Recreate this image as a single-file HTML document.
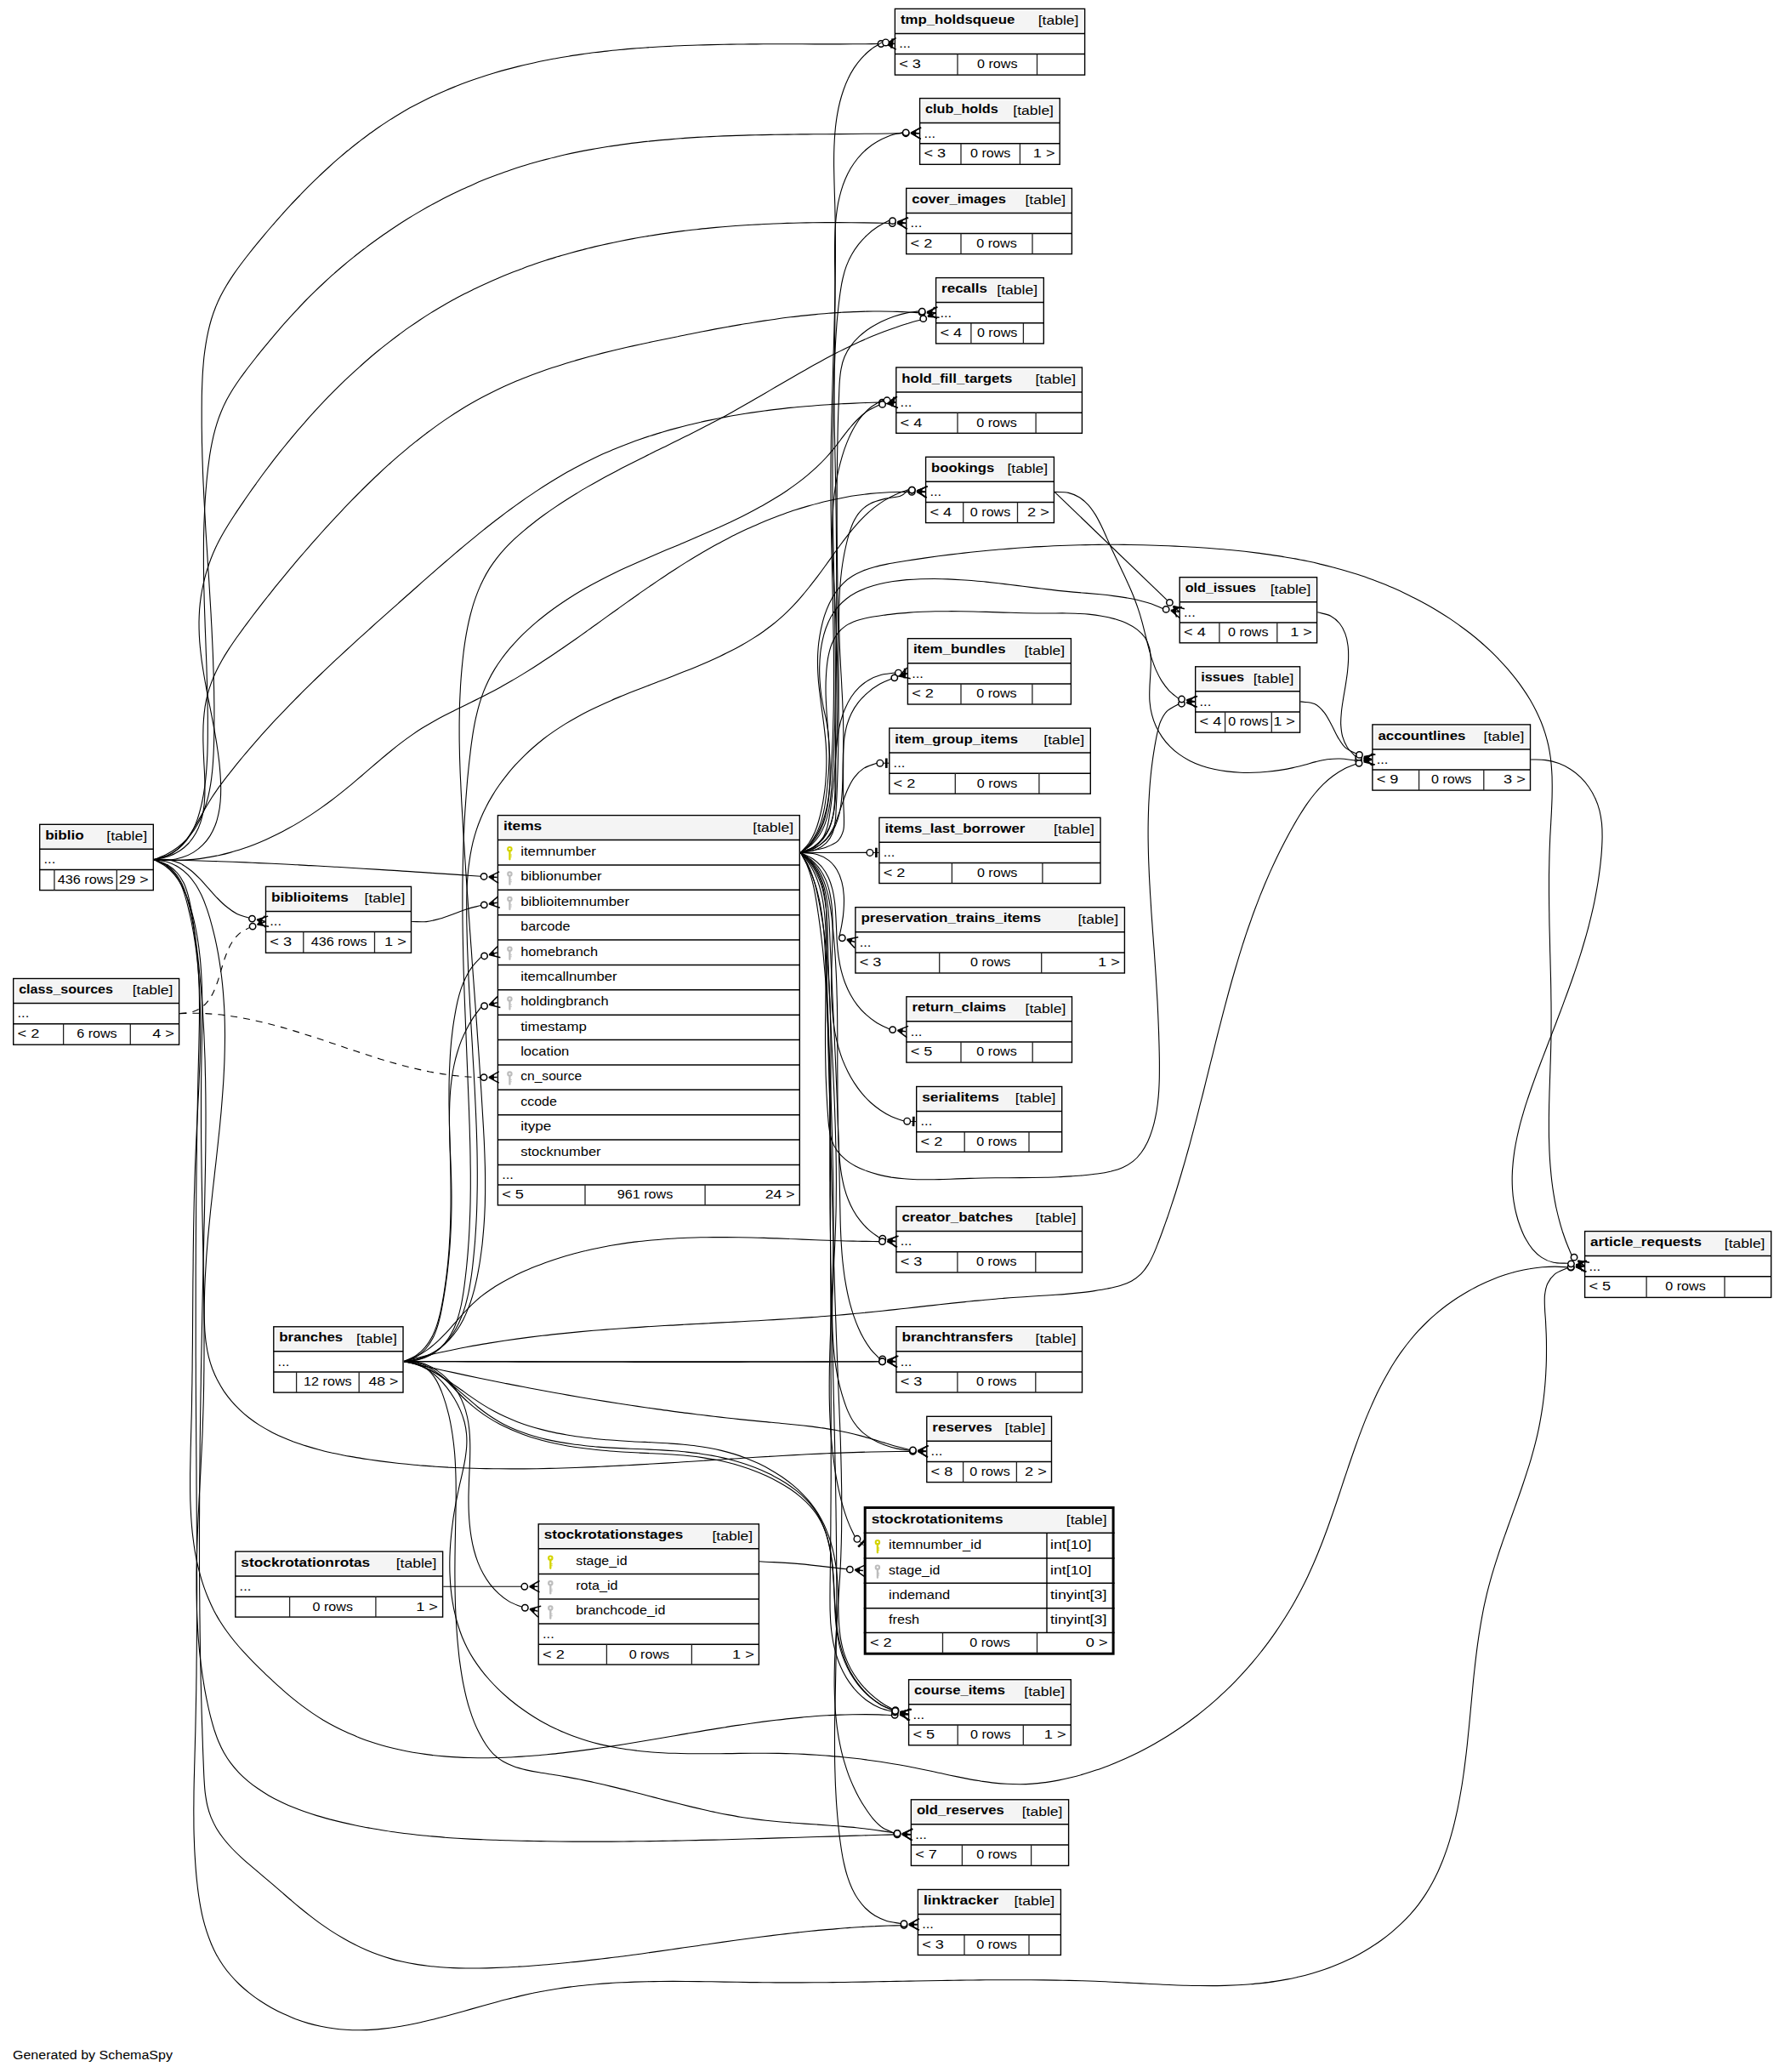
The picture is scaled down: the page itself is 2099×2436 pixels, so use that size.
<!DOCTYPE html><html><head><meta charset="utf-8"><style>html,body{margin:0;padding:0;background:#fff;}svg{display:block;} text{font-family:"Liberation Sans",sans-serif;font-size:15.3px;fill:#000;}</style></head><body>
<svg xmlns="http://www.w3.org/2000/svg" width="2099" height="2436" viewBox="0 0 2099 2436">
<rect width="2099" height="2436" fill="#fff"/>
<path d="M181.0 1010.6C186.0 1008.5 191.4 1006.7 196.1 1004.2C200.7 1001.9 205.0 999.2 208.9 996.2C212.8 993.3 216.4 990.0 219.6 986.6C222.8 983.2 225.7 979.5 228.3 975.7C230.9 971.9 233.2 967.8 235.3 963.6C237.3 959.4 239.1 955.0 240.7 950.5C242.3 946.0 243.6 941.3 244.8 936.6C245.9 931.8 246.9 926.9 247.7 921.9C248.5 917.0 249.1 911.9 249.6 906.8C250.2 901.7 250.5 896.5 250.8 891.3C251.2 886.1 251.3 880.8 251.5 875.6C251.7 870.3 251.7 865.1 251.8 859.9C251.9 854.6 251.9 849.4 251.9 844.2C251.9 839.0 251.9 833.8 251.9 828.7C251.8 823.5 251.7 818.4 251.7 813.2C251.6 808.1 251.4 803.0 251.3 797.8C251.2 792.7 251.0 787.6 250.8 782.6C250.7 777.5 250.5 772.4 250.3 767.3C250.1 762.3 249.8 757.2 249.6 752.2C249.4 747.1 249.1 742.1 248.9 737.1C248.6 732.1 248.3 727.0 248.1 722.0C247.8 717.0 247.5 712.0 247.2 707.0C246.9 702.0 246.6 697.0 246.3 692.0C246.0 687.0 245.7 682.1 245.4 677.1C245.0 672.1 244.7 667.1 244.4 662.1C244.1 657.1 243.8 652.2 243.5 647.2C243.2 642.2 242.8 637.2 242.5 632.3C242.2 627.3 241.9 622.3 241.6 617.3C241.4 612.3 241.1 607.3 240.8 602.4C240.5 597.4 240.3 592.4 240.0 587.4C239.7 582.4 239.5 577.4 239.3 572.4C239.0 567.4 238.8 562.3 238.6 557.3C238.4 552.3 238.3 547.3 238.1 542.2C237.9 537.2 237.8 532.1 237.7 527.1C237.5 522.0 237.4 516.9 237.4 511.9C237.3 506.8 237.2 501.7 237.2 496.6C237.2 491.5 237.2 486.4 237.2 481.2C237.2 476.1 237.3 471.0 237.3 465.8C237.4 460.7 237.6 455.5 237.8 450.3C238.0 445.2 238.2 440.1 238.6 434.9C239.0 429.8 239.4 424.7 239.9 419.7C240.5 414.6 241.2 409.6 242.0 404.6C242.8 399.7 243.7 394.7 244.8 389.9C245.9 385.0 247.1 380.2 248.5 375.5C249.9 370.8 251.5 366.2 253.3 361.7C255.1 357.1 257.1 352.7 259.3 348.3C261.5 344.0 263.9 339.7 266.4 335.5C268.9 331.3 271.6 327.2 274.3 323.1C277.1 319.0 280.0 315.0 283.0 311.0C286.0 307.0 289.1 303.0 292.2 299.0C295.3 295.1 298.5 291.1 301.7 287.2C304.9 283.3 308.2 279.4 311.5 275.4C314.7 271.5 318.1 267.6 321.4 263.8C324.8 259.9 328.2 256.0 331.7 252.2C335.1 248.3 338.6 244.5 342.1 240.7C345.6 236.9 349.2 233.2 352.8 229.5C356.3 225.7 360.0 222.0 363.6 218.4C367.3 214.7 371.0 211.1 374.7 207.6C378.5 204.0 382.3 200.5 386.1 197.0C389.9 193.5 393.7 190.1 397.6 186.7C401.5 183.4 405.4 180.0 409.4 176.8C413.3 173.5 417.3 170.3 421.3 167.2C425.4 164.1 429.4 161.0 433.5 158.0C437.6 155.0 441.8 152.1 445.9 149.2C450.1 146.4 454.3 143.6 458.5 140.9C462.8 138.2 467.1 135.6 471.4 133.0C475.7 130.5 480.0 128.0 484.4 125.6C488.8 123.2 493.2 120.9 497.6 118.7C502.0 116.5 506.5 114.3 511.0 112.2C515.5 110.1 520.1 108.1 524.6 106.2C529.2 104.2 533.8 102.4 538.4 100.5C543.0 98.7 547.6 97.0 552.3 95.3C556.9 93.6 561.6 92.0 566.4 90.5C571.1 88.9 575.8 87.4 580.6 86.0C585.3 84.6 590.1 83.2 594.9 81.9C599.7 80.6 604.6 79.3 609.4 78.1C614.3 76.9 619.1 75.8 624.0 74.7C628.9 73.6 633.8 72.5 638.7 71.5C643.6 70.5 648.6 69.6 653.5 68.7C658.5 67.8 663.4 67.0 668.4 66.2C673.4 65.3 678.4 64.6 683.4 63.9C688.4 63.1 693.5 62.5 698.5 61.8C703.5 61.2 708.6 60.6 713.6 60.1C718.7 59.5 723.7 59.0 728.8 58.5C733.9 58.0 739.0 57.5 744.1 57.1C749.2 56.7 754.3 56.3 759.4 56.0C764.5 55.6 769.6 55.3 774.7 55.0C779.8 54.7 784.9 54.4 790.0 54.2C795.1 53.9 800.3 53.7 805.4 53.5C810.5 53.3 815.6 53.1 820.8 53.0C825.9 52.8 831.0 52.7 836.2 52.6C841.3 52.4 846.4 52.3 851.5 52.3C856.6 52.2 861.8 52.1 866.9 52.0C872.0 52.0 877.1 51.9 882.2 51.9C887.3 51.9 892.4 51.8 897.5 51.8C902.6 51.8 907.7 51.8 912.8 51.8C917.8 51.8 922.9 51.8 928.0 51.8C933.0 51.8 938.1 51.8 943.1 51.8C948.1 51.8 953.2 51.8 958.2 51.9C963.2 51.9 968.2 51.9 973.2 51.9C978.2 51.9 983.1 51.9 988.1 51.9C993.1 51.8 998.0 51.8 1002.9 51.8C1007.9 51.8 1012.8 51.7 1017.7 51.7C1022.6 51.6 1027.4 51.6 1032.3 51.5" fill="none" stroke="#000" stroke-width="1.1"/>
<circle cx="1036.00" cy="51.50" r="3.7" fill="#fff" stroke="#000" stroke-width="1.5"/><path d="M1041.80 51.50L1053.70 44.70M1041.80 51.50L1051.60 51.50M1041.80 51.50L1053.70 58.10" stroke="#000" stroke-width="1.5" fill="none"/><path d="M1041.80 51.50L1047.90 48.20L1047.90 54.80Z" fill="#000"/>
<path d="M181.0 1010.6C186.4 1008.9 192.2 1007.8 197.1 1005.6C201.7 1003.5 206.0 1000.8 209.8 997.8C213.5 994.8 216.7 991.3 219.6 987.6C222.5 983.9 224.8 979.8 227.0 975.6C229.1 971.4 230.9 966.9 232.4 962.3C234.0 957.7 235.3 952.9 236.4 948.2C237.6 943.4 238.5 938.5 239.4 933.6C240.2 928.7 240.9 923.7 241.5 918.7C242.1 913.7 242.5 908.7 242.9 903.6C243.3 898.6 243.5 893.5 243.8 888.4C244.0 883.3 244.1 878.2 244.2 873.1C244.3 868.0 244.3 862.9 244.3 857.8C244.3 852.7 244.3 847.6 244.3 842.5C244.2 837.5 244.1 832.4 244.1 827.3C244.0 822.2 243.9 817.2 243.7 812.1C243.6 807.1 243.5 802.0 243.3 797.0C243.2 791.9 243.0 786.9 242.9 781.8C242.7 776.8 242.5 771.8 242.3 766.7C242.1 761.7 242.0 756.7 241.8 751.7C241.6 746.7 241.4 741.6 241.2 736.6C241.1 731.6 240.9 726.6 240.7 721.6C240.5 716.6 240.4 711.6 240.2 706.6C240.1 701.6 240.0 696.6 239.8 691.6C239.7 686.6 239.6 681.6 239.6 676.6C239.5 671.7 239.4 666.7 239.4 661.7C239.4 656.7 239.4 651.7 239.4 646.7C239.4 641.8 239.5 636.8 239.5 631.8C239.6 626.8 239.8 621.8 239.9 616.8C240.1 611.9 240.3 606.9 240.5 601.9C240.7 596.9 241.0 591.9 241.3 586.9C241.7 582.0 242.0 577.0 242.5 572.0C242.9 567.0 243.3 562.0 243.9 557.0C244.4 552.0 245.0 547.0 245.7 542.1C246.3 537.1 247.1 532.2 248.0 527.2C248.9 522.3 249.9 517.4 251.0 512.6C252.2 507.8 253.5 503.0 255.0 498.2C256.4 493.5 258.1 488.9 260.0 484.3C261.8 479.7 263.9 475.2 266.2 470.8C268.5 466.4 271.1 462.1 273.7 457.8C276.4 453.6 279.2 449.4 282.1 445.3C285.0 441.1 288.1 437.1 291.1 433.0C294.2 429.0 297.4 425.0 300.5 421.0C303.6 417.0 306.8 413.1 310.0 409.2C313.2 405.3 316.4 401.4 319.6 397.6C322.8 393.7 326.1 389.9 329.3 386.1C332.6 382.3 335.9 378.6 339.3 374.9C342.6 371.1 346.0 367.5 349.5 363.8C352.9 360.2 356.3 356.6 359.8 353.0C363.3 349.4 366.9 345.9 370.5 342.4C374.1 338.9 377.7 335.4 381.4 332.0C385.1 328.6 388.8 325.2 392.6 321.9C396.3 318.5 400.1 315.3 404.0 312.0C407.8 308.8 411.7 305.5 415.7 302.4C419.6 299.2 423.6 296.1 427.6 293.0C431.6 290.0 435.6 286.9 439.7 284.0C443.8 281.0 447.9 278.1 452.0 275.2C456.2 272.3 460.4 269.5 464.6 266.7C468.8 263.9 473.0 261.2 477.3 258.5C481.6 255.8 485.9 253.2 490.3 250.6C494.6 248.1 499.0 245.6 503.4 243.1C507.8 240.6 512.2 238.2 516.6 235.9C521.1 233.5 525.6 231.3 530.1 229.0C534.6 226.8 539.1 224.6 543.7 222.5C548.2 220.4 552.8 218.4 557.4 216.4C562.0 214.4 566.6 212.5 571.2 210.6C575.9 208.7 580.5 206.9 585.2 205.2C589.9 203.5 594.6 201.8 599.3 200.2C604.0 198.6 608.7 197.1 613.5 195.6C618.2 194.1 623.0 192.7 627.8 191.3C632.6 189.9 637.4 188.6 642.2 187.4C647.0 186.1 651.8 184.9 656.6 183.7C661.5 182.6 666.3 181.5 671.2 180.4C676.1 179.4 681.0 178.4 685.9 177.4C690.7 176.5 695.7 175.6 700.6 174.7C705.5 173.9 710.4 173.1 715.4 172.3C720.3 171.5 725.2 170.8 730.2 170.1C735.2 169.4 740.1 168.7 745.1 168.1C750.1 167.5 755.1 166.9 760.1 166.4C765.1 165.9 770.1 165.3 775.1 164.9C780.1 164.4 785.1 164.0 790.1 163.6C795.1 163.1 800.2 162.8 805.2 162.4C810.2 162.1 815.3 161.7 820.3 161.4C825.3 161.1 830.4 160.9 835.4 160.6C840.5 160.4 845.5 160.1 850.6 159.9C855.6 159.7 860.7 159.5 865.7 159.4C870.8 159.2 875.8 159.0 880.9 158.9C886.0 158.8 891.0 158.7 896.1 158.6C901.1 158.4 906.2 158.4 911.2 158.3C916.3 158.2 921.3 158.1 926.4 158.1C931.4 158.0 936.5 158.0 941.5 157.9C946.6 157.9 951.6 157.8 956.7 157.8C961.7 157.7 966.7 157.7 971.8 157.7C976.8 157.6 981.8 157.6 986.8 157.6C991.8 157.5 996.8 157.5 1001.9 157.5C1006.9 157.4 1011.9 157.4 1016.8 157.3C1021.8 157.3 1026.8 157.3 1031.8 157.2C1036.7 157.1 1041.7 157.1 1046.7 157.0C1051.6 156.9 1056.6 156.8 1061.5 156.7" fill="none" stroke="#000" stroke-width="1.1"/>
<circle cx="1065.20" cy="156.70" r="3.7" fill="#fff" stroke="#000" stroke-width="1.5"/><path d="M1071.00 156.70L1082.90 149.90M1071.00 156.70L1080.80 156.70M1071.00 156.70L1082.90 163.30" stroke="#000" stroke-width="1.5" fill="none"/><path d="M1071.00 156.70L1077.10 153.40L1077.10 160.00Z" fill="#000"/>
<path d="M181.0 1010.6C186.9 1010.8 193.0 1011.6 198.6 1011.2C204.0 1010.7 209.3 1009.7 214.1 1008.1C218.8 1006.6 223.4 1004.6 227.4 1002.1C231.4 999.6 235.2 996.6 238.4 993.4C241.7 990.2 244.5 986.5 247.0 982.6C249.4 978.8 251.4 974.6 253.1 970.3C254.8 965.9 256.0 961.3 257.0 956.7C258.0 952.0 258.7 947.1 259.1 942.2C259.6 937.2 259.7 932.1 259.7 927.0C259.7 921.9 259.5 916.8 259.1 911.6C258.8 906.5 258.3 901.4 257.8 896.3C257.2 891.2 256.6 886.1 255.8 881.0C255.1 875.9 254.3 870.9 253.4 865.8C252.6 860.8 251.6 855.8 250.7 850.8C249.8 845.8 248.8 840.8 247.8 835.8C246.8 830.8 245.8 825.8 244.8 820.8C243.9 815.8 242.9 810.9 242.0 805.9C241.1 800.9 240.2 796.0 239.4 791.0C238.6 786.1 237.8 781.1 237.1 776.1C236.5 771.2 235.9 766.2 235.4 761.3C234.9 756.3 234.5 751.3 234.3 746.4C234.1 741.4 234.0 736.4 234.0 731.4C234.1 726.4 234.3 721.5 234.6 716.5C235.0 711.5 235.6 706.4 236.3 701.4C237.1 696.4 238.0 691.4 239.1 686.5C240.2 681.6 241.5 676.6 242.9 671.8C244.4 667.0 246.0 662.2 247.8 657.5C249.6 652.8 251.5 648.2 253.6 643.7C255.8 639.3 258.0 634.9 260.4 630.6C262.8 626.2 265.3 622.0 267.9 617.8C270.5 613.6 273.2 609.4 275.9 605.3C278.6 601.1 281.4 597.0 284.2 592.9C287.0 588.8 289.8 584.6 292.7 580.5C295.5 576.4 298.4 572.3 301.4 568.3C304.3 564.2 307.3 560.1 310.3 556.0C313.3 552.0 316.4 548.0 319.5 543.9C322.5 539.9 325.7 535.9 328.8 531.9C332.0 528.0 335.2 524.0 338.4 520.1C341.6 516.1 344.9 512.2 348.2 508.3C351.5 504.5 354.8 500.6 358.2 496.8C361.5 492.9 364.9 489.1 368.4 485.4C371.8 481.6 375.3 477.9 378.8 474.2C382.3 470.5 385.8 466.8 389.4 463.2C393.0 459.5 396.6 455.9 400.2 452.4C403.9 448.8 407.5 445.3 411.2 441.9C415.0 438.4 418.7 434.9 422.5 431.6C426.2 428.2 430.1 424.8 433.9 421.5C437.7 418.2 441.6 415.0 445.5 411.8C449.4 408.6 453.4 405.5 457.4 402.4C461.3 399.3 465.3 396.2 469.4 393.2C473.4 390.3 477.5 387.3 481.6 384.4C485.7 381.6 489.9 378.8 494.0 376.0C498.2 373.2 502.4 370.5 506.6 367.9C510.9 365.3 515.1 362.7 519.4 360.2C523.7 357.7 528.1 355.2 532.4 352.8C536.8 350.4 541.2 348.1 545.6 345.8C550.0 343.6 554.4 341.3 558.9 339.2C563.4 337.0 567.9 334.9 572.4 332.9C576.9 330.8 581.5 328.8 586.0 326.9C590.6 324.9 595.2 323.0 599.8 321.2C604.5 319.4 609.1 317.6 613.8 315.9C618.4 314.1 623.1 312.5 627.8 310.8C632.5 309.2 637.3 307.6 642.0 306.1C646.8 304.5 651.5 303.1 656.3 301.6C661.1 300.2 665.9 298.8 670.7 297.5C675.6 296.1 680.4 294.8 685.3 293.6C690.1 292.3 695.0 291.1 699.9 289.9C704.8 288.8 709.7 287.7 714.6 286.6C719.5 285.5 724.4 284.5 729.4 283.5C734.3 282.5 739.3 281.5 744.2 280.6C749.2 279.7 754.2 278.8 759.1 278.0C764.1 277.1 769.1 276.3 774.1 275.6C779.1 274.8 784.1 274.1 789.2 273.4C794.2 272.7 799.2 272.1 804.2 271.4C809.3 270.8 814.3 270.2 819.4 269.7C824.4 269.1 829.4 268.6 834.5 268.1C839.6 267.6 844.6 267.2 849.7 266.7C854.7 266.3 859.8 265.9 864.9 265.5C869.9 265.2 875.0 264.8 880.0 264.5C885.1 264.2 890.2 263.9 895.2 263.7C900.3 263.4 905.4 263.2 910.4 263.0C915.5 262.8 920.5 262.6 925.6 262.4C930.6 262.3 935.7 262.1 940.7 262.0C945.8 261.9 950.8 261.8 955.9 261.7C960.9 261.7 965.9 261.6 971.0 261.6C976.0 261.6 981.0 261.6 986.0 261.6C991.0 261.6 996.0 261.6 1001.0 261.7C1006.0 261.7 1011.0 261.8 1015.9 261.9C1020.9 261.9 1025.8 262.0 1030.8 262.1C1035.7 262.2 1040.7 262.4 1045.6 262.5" fill="none" stroke="#000" stroke-width="1.1"/>
<circle cx="1049.30" cy="262.50" r="3.7" fill="#fff" stroke="#000" stroke-width="1.5"/><path d="M1055.10 262.50L1067.00 255.70M1055.10 262.50L1064.90 262.50M1055.10 262.50L1067.00 269.10" stroke="#000" stroke-width="1.5" fill="none"/><path d="M1055.10 262.50L1061.20 259.20L1061.20 265.80Z" fill="#000"/>
<path d="M181.0 1010.6C186.6 1009.4 192.5 1008.8 197.7 1007.0C202.6 1005.3 207.3 1003.0 211.4 1000.3C215.4 997.6 219.0 994.4 222.2 991.0C225.3 987.5 228.0 983.6 230.3 979.6C232.6 975.5 234.4 971.1 235.9 966.6C237.4 962.1 238.4 957.4 239.2 952.6C240.1 947.8 240.5 942.8 240.7 937.8C241.0 932.7 241.0 927.6 240.9 922.4C240.9 917.2 240.6 912.0 240.4 906.8C240.1 901.6 239.8 896.4 239.6 891.2C239.3 886.0 239.1 880.8 239.0 875.7C238.8 870.6 238.8 865.5 238.9 860.5C238.9 855.4 239.1 850.4 239.5 845.5C239.9 840.6 240.4 835.7 241.1 830.8C241.9 826.0 242.9 821.2 244.1 816.5C245.3 811.8 246.8 807.1 248.5 802.6C250.2 798.0 252.2 793.5 254.3 789.0C256.5 784.5 258.9 780.1 261.3 775.8C263.8 771.4 266.5 767.1 269.2 762.9C272.0 758.6 274.9 754.4 277.8 750.2C280.8 746.0 283.8 741.9 286.8 737.8C289.9 733.6 293.0 729.6 296.0 725.5C299.1 721.5 302.2 717.4 305.3 713.4C308.4 709.4 311.5 705.5 314.6 701.5C317.7 697.6 320.9 693.7 324.0 689.7C327.2 685.8 330.3 682.0 333.5 678.1C336.7 674.2 339.8 670.4 343.0 666.6C346.3 662.7 349.5 658.9 352.7 655.2C356.0 651.4 359.2 647.6 362.5 643.8C365.8 640.1 369.1 636.3 372.4 632.6C375.7 628.9 379.1 625.1 382.4 621.4C385.8 617.7 389.2 614.0 392.6 610.3C396.0 606.6 399.5 603.0 402.9 599.3C406.4 595.6 409.9 592.0 413.4 588.4C417.0 584.8 420.5 581.2 424.1 577.6C427.7 574.0 431.3 570.5 434.9 567.0C438.5 563.4 442.2 559.9 445.9 556.5C449.6 553.0 453.3 549.6 457.1 546.2C460.8 542.9 464.6 539.5 468.4 536.2C472.2 532.9 476.1 529.7 480.0 526.4C483.8 523.2 487.8 520.1 491.7 517.0C495.7 513.8 499.6 510.8 503.7 507.8C507.7 504.8 511.7 501.8 515.8 498.9C519.9 496.0 524.0 493.2 528.2 490.4C532.4 487.6 536.6 484.9 540.8 482.3C545.0 479.6 549.3 477.1 553.6 474.6C557.9 472.1 562.3 469.6 566.7 467.3C571.1 464.9 575.5 462.6 580.0 460.4C584.5 458.2 589.0 456.1 593.5 454.0C598.0 452.0 602.6 450.0 607.2 448.0C611.8 446.1 616.5 444.3 621.2 442.4C625.8 440.6 630.5 438.9 635.3 437.2C640.0 435.5 644.7 433.9 649.5 432.3C654.3 430.7 659.1 429.2 663.9 427.7C668.7 426.2 673.6 424.8 678.4 423.4C683.3 422.0 688.2 420.6 693.0 419.3C697.9 418.0 702.8 416.7 707.7 415.4C712.7 414.2 717.6 413.0 722.5 411.8C727.4 410.6 732.4 409.5 737.3 408.3C742.3 407.2 747.2 406.1 752.2 405.0C757.1 403.9 762.1 402.9 767.1 401.8C772.0 400.8 777.0 399.7 781.9 398.7C786.9 397.7 791.8 396.7 796.8 395.7C801.7 394.6 806.6 393.7 811.6 392.7C816.5 391.7 821.4 390.7 826.4 389.8C831.3 388.8 836.2 387.9 841.1 386.9C846.1 386.0 851.0 385.1 855.9 384.2C860.8 383.3 865.7 382.5 870.7 381.6C875.6 380.8 880.5 379.9 885.4 379.2C890.3 378.4 895.3 377.6 900.2 376.9C905.1 376.1 910.0 375.4 915.0 374.7C919.9 374.0 924.8 373.4 929.8 372.8C934.7 372.2 939.7 371.6 944.6 371.1C949.6 370.5 954.5 370.0 959.5 369.6C964.4 369.1 969.4 368.7 974.4 368.3C979.4 367.9 984.4 367.6 989.3 367.3C994.3 367.0 999.4 366.8 1004.4 366.6C1009.4 366.4 1014.4 366.2 1019.4 366.1C1024.5 366.1 1029.5 366.0 1034.6 366.0C1039.7 366.0 1044.7 366.1 1049.8 366.2C1054.9 366.4 1060.0 366.5 1065.1 366.8C1070.2 367.0 1075.4 367.4 1080.5 367.7" fill="none" stroke="#000" stroke-width="1.1"/>
<circle cx="1084.20" cy="367.70" r="3.7" fill="#fff" stroke="#000" stroke-width="1.5"/><path d="M1090.00 367.70L1101.90 360.90M1090.00 367.70L1099.80 367.70M1090.00 367.70L1101.90 374.30" stroke="#000" stroke-width="1.5" fill="none"/><path d="M1090.00 367.70L1096.10 364.40L1096.10 371.00Z" fill="#000"/>
<path d="M181.0 1010.6C186.1 1009.2 191.7 1008.5 196.4 1006.5C200.8 1004.5 204.9 1001.8 208.5 998.8C212.1 995.8 215.3 992.1 218.2 988.4C221.2 984.6 223.8 980.5 226.4 976.3C229.1 972.1 231.5 967.7 233.9 963.4C236.5 959.0 238.9 954.6 241.4 950.3C244.0 945.9 246.6 941.6 249.3 937.3C252.0 933.1 254.9 929.0 257.8 924.9C260.8 920.9 263.8 916.9 266.9 912.9C269.9 909.0 273.1 905.0 276.2 901.1C279.3 897.2 282.5 893.4 285.7 889.5C288.9 885.7 292.1 881.9 295.4 878.1C298.6 874.3 301.9 870.5 305.2 866.8C308.5 863.1 311.9 859.4 315.3 855.7C318.6 852.0 322.0 848.3 325.4 844.7C328.9 841.0 332.3 837.4 335.8 833.8C339.2 830.2 342.7 826.6 346.2 823.1C349.7 819.5 353.3 816.0 356.8 812.4C360.4 808.9 363.9 805.4 367.5 801.9C371.1 798.4 374.7 794.9 378.3 791.5C381.9 788.0 385.6 784.5 389.2 781.1C392.9 777.7 396.5 774.2 400.2 770.8C403.9 767.4 407.6 764.0 411.3 760.6C415.0 757.2 418.7 753.8 422.4 750.4C426.2 747.0 429.9 743.7 433.6 740.3C437.4 736.9 441.1 733.5 444.9 730.2C448.6 726.8 452.4 723.5 456.2 720.1C459.9 716.8 463.7 713.4 467.5 710.1C471.2 706.7 475.0 703.4 478.8 700.0C482.6 696.7 486.4 693.3 490.1 690.0C493.9 686.6 497.7 683.3 501.5 679.9C505.3 676.6 509.1 673.2 512.9 669.9C516.7 666.6 520.5 663.3 524.3 660.0C528.2 656.7 532.0 653.4 535.8 650.1C539.7 646.9 543.5 643.6 547.4 640.4C551.3 637.2 555.1 634.0 559.0 630.8C562.9 627.6 566.8 624.5 570.8 621.3C574.7 618.2 578.6 615.1 582.6 612.0C586.6 609.0 590.6 605.9 594.6 602.9C598.6 600.0 602.6 597.0 606.6 594.1C610.7 591.2 614.8 588.3 618.9 585.4C623.0 582.6 627.1 579.8 631.2 577.1C635.4 574.3 639.6 571.6 643.8 569.0C648.0 566.3 652.2 563.8 656.5 561.2C660.8 558.7 665.1 556.2 669.4 553.8C673.7 551.3 678.1 549.0 682.5 546.7C686.9 544.4 691.3 542.1 695.8 540.0C700.3 537.8 704.8 535.7 709.3 533.6C713.9 531.6 718.5 529.6 723.1 527.7C727.7 525.8 732.3 524.0 737.0 522.2C741.7 520.4 746.4 518.7 751.1 517.0C755.9 515.3 760.6 513.7 765.4 512.2C770.2 510.6 775.0 509.2 779.9 507.7C784.7 506.3 789.6 504.9 794.5 503.6C799.3 502.3 804.2 501.0 809.2 499.8C814.1 498.6 819.0 497.4 824.0 496.3C828.9 495.1 833.9 494.1 838.9 493.1C843.8 492.0 848.8 491.1 853.8 490.1C858.8 489.2 863.8 488.3 868.9 487.5C873.9 486.7 878.9 485.9 883.9 485.1C889.0 484.4 894.0 483.7 899.0 483.0C904.1 482.3 909.1 481.7 914.2 481.1C919.2 480.5 924.2 479.9 929.3 479.4C934.3 478.9 939.3 478.4 944.4 478.0C949.4 477.5 954.4 477.1 959.4 476.7C964.4 476.3 969.4 476.0 974.4 475.7C979.4 475.3 984.4 475.1 989.4 474.8C994.4 474.5 999.3 474.3 1004.3 474.1C1009.2 473.9 1014.1 473.7 1019.0 473.5C1023.9 473.4 1028.8 473.2 1033.7 473.1" fill="none" stroke="#000" stroke-width="1.1"/>
<circle cx="1037.40" cy="473.10" r="3.7" fill="#fff" stroke="#000" stroke-width="1.5"/><path d="M1043.20 473.10L1055.10 466.30M1043.20 473.10L1053.00 473.10M1043.20 473.10L1055.10 479.70" stroke="#000" stroke-width="1.5" fill="none"/><path d="M1043.20 473.10L1049.30 469.80L1049.30 476.40Z" fill="#000"/>
<path d="M181.0 1010.6C186.2 1010.9 191.5 1011.3 196.7 1011.5C201.8 1011.6 207.0 1011.6 212.1 1011.4C217.2 1011.2 222.3 1010.9 227.3 1010.4C232.3 1009.9 237.3 1009.2 242.2 1008.4C247.2 1007.7 252.1 1006.7 256.9 1005.7C261.8 1004.6 266.6 1003.4 271.3 1002.1C276.1 1000.8 280.8 999.3 285.5 997.8C290.2 996.2 294.9 994.5 299.5 992.7C304.1 990.9 308.6 989.0 313.1 987.0C317.7 984.9 322.1 982.8 326.6 980.6C331.0 978.4 335.4 976.0 339.8 973.6C344.1 971.2 348.4 968.7 352.7 966.1C357.0 963.5 361.2 960.8 365.4 958.1C369.6 955.3 373.7 952.5 377.8 949.6C381.9 946.7 386.0 943.7 390.0 940.7C394.1 937.7 398.0 934.6 402.0 931.4C405.9 928.3 409.8 925.1 413.7 921.9C417.6 918.6 421.4 915.3 425.3 912.0C429.1 908.8 432.9 905.5 436.7 902.2C440.5 898.9 444.4 895.6 448.2 892.3C452.0 889.1 455.9 885.9 459.8 882.7C463.7 879.5 467.6 876.4 471.6 873.4C475.5 870.4 479.5 867.4 483.6 864.6C487.7 861.7 491.8 858.9 496.0 856.3C500.2 853.7 504.5 851.2 508.9 848.7C513.2 846.3 517.6 843.9 522.0 841.6C526.4 839.3 530.9 837.1 535.4 834.8C539.8 832.6 544.3 830.4 548.8 828.2C553.3 826.0 557.8 823.9 562.3 821.6C566.8 819.4 571.2 817.1 575.6 814.8C580.1 812.5 584.5 810.1 588.8 807.7C593.2 805.3 597.5 802.8 601.8 800.3C606.1 797.8 610.4 795.2 614.7 792.6C618.9 790.0 623.1 787.4 627.4 784.7C631.6 782.0 635.8 779.3 639.9 776.5C644.1 773.8 648.3 771.0 652.4 768.2C656.5 765.4 660.7 762.6 664.8 759.7C668.9 756.9 673.0 754.0 677.1 751.2C681.2 748.3 685.3 745.4 689.4 742.5C693.4 739.6 697.5 736.6 701.6 733.7C705.7 730.8 709.7 727.9 713.8 724.9C717.9 722.0 721.9 719.1 726.0 716.2C730.1 713.2 734.2 710.3 738.3 707.4C742.3 704.5 746.4 701.6 750.5 698.7C754.6 695.8 758.7 693.0 762.9 690.1C767.0 687.3 771.1 684.4 775.3 681.6C779.4 678.8 783.6 676.1 787.8 673.3C792.0 670.6 796.2 667.8 800.4 665.1C804.6 662.5 808.9 659.8 813.1 657.2C817.4 654.6 821.7 652.0 826.0 649.5C830.4 647.0 834.7 644.5 839.1 642.0C843.5 639.6 847.9 637.2 852.3 634.9C856.8 632.6 861.2 630.3 865.7 628.1C870.2 625.9 874.8 623.7 879.3 621.6C883.9 619.5 888.5 617.5 893.1 615.5C897.7 613.5 902.3 611.6 907.0 609.8C911.7 607.9 916.4 606.2 921.1 604.5C925.8 602.8 930.5 601.1 935.3 599.6C940.1 598.0 944.8 596.5 949.7 595.1C954.5 593.7 959.3 592.4 964.1 591.2C969.0 589.9 973.9 588.8 978.7 587.7C983.6 586.6 988.5 585.6 993.5 584.7C998.4 583.8 1003.3 583.0 1008.3 582.3C1013.2 581.6 1018.2 581.0 1023.2 580.4C1028.2 579.9 1033.2 579.5 1038.2 579.2C1043.2 578.8 1048.3 578.6 1053.3 578.5C1058.4 578.3 1063.4 578.4 1068.5 578.4" fill="none" stroke="#000" stroke-width="1.1"/>
<circle cx="1072.20" cy="578.40" r="3.7" fill="#fff" stroke="#000" stroke-width="1.5"/><path d="M1078.00 578.40L1089.90 571.60M1078.00 578.40L1087.80 578.40M1078.00 578.40L1089.90 585.00" stroke="#000" stroke-width="1.5" fill="none"/><path d="M1078.00 578.40L1084.10 575.10L1084.10 581.70Z" fill="#000"/>
<path d="M181.0 1010.6C186.1 1010.7 191.3 1010.8 196.4 1010.9C201.5 1011.0 206.7 1011.2 211.8 1011.3C216.9 1011.4 222.0 1011.6 227.2 1011.7C232.3 1011.9 237.4 1012.0 242.6 1012.2C247.7 1012.4 252.8 1012.5 257.9 1012.7C263.1 1012.9 268.2 1013.1 273.3 1013.3C278.5 1013.5 283.6 1013.7 288.7 1013.9C293.8 1014.1 299.0 1014.4 304.1 1014.6C309.2 1014.8 314.3 1015.1 319.5 1015.3C324.6 1015.5 329.7 1015.8 334.9 1016.0C340.0 1016.3 345.1 1016.6 350.2 1016.8C355.4 1017.1 360.5 1017.4 365.6 1017.6C370.7 1017.9 375.9 1018.2 381.0 1018.5C386.1 1018.8 391.2 1019.1 396.3 1019.3C401.5 1019.6 406.6 1019.9 411.7 1020.2C416.8 1020.5 422.0 1020.9 427.1 1021.2C432.2 1021.5 437.3 1021.8 442.5 1022.1C447.6 1022.4 452.7 1022.8 457.8 1023.1C462.9 1023.4 468.1 1023.7 473.2 1024.1C478.3 1024.4 483.4 1024.7 488.5 1025.1C493.7 1025.4 498.8 1025.7 503.9 1026.1C509.0 1026.4 514.2 1026.7 519.3 1027.1C524.4 1027.4 529.5 1027.8 534.6 1028.1C539.8 1028.5 544.9 1028.8 550.0 1029.2C555.1 1029.5 560.2 1029.9 565.3 1030.2" fill="none" stroke="#000" stroke-width="1.1"/>
<circle cx="569.04" cy="1030.46" r="3.7" fill="#fff" stroke="#000" stroke-width="1.5"/><path d="M574.83 1030.86L587.17 1024.91M574.83 1030.86L584.60 1031.54M574.83 1030.86L586.24 1038.27" stroke="#000" stroke-width="1.5" fill="none"/><path d="M574.83 1030.86L581.14 1027.99L580.68 1034.58Z" fill="#000"/>
<path d="M181.0 1010.6C186.5 1010.6 192.4 1009.8 197.6 1010.6C202.6 1011.4 207.4 1013.0 211.8 1015.1C216.1 1017.2 220.2 1020.1 224.0 1023.0C227.9 1026.1 231.5 1029.7 235.0 1033.2C238.6 1036.9 241.9 1040.8 245.4 1044.6C248.8 1048.4 252.1 1052.4 255.7 1056.0C259.2 1059.6 262.8 1063.2 266.7 1066.3C270.5 1069.4 274.5 1072.3 278.8 1074.5C283.2 1076.7 288.2 1077.7 292.8 1079.3" fill="none" stroke="#000" stroke-width="1.1"/>
<circle cx="296.46" cy="1080.09" r="3.7" fill="#fff" stroke="#000" stroke-width="1.5"/><path d="M302.13 1081.30L315.19 1077.12M302.13 1081.30L311.72 1083.33M302.13 1081.30L312.40 1090.23" stroke="#000" stroke-width="1.5" fill="none"/><path d="M302.13 1081.30L308.78 1079.34L307.41 1085.79Z" fill="#000"/>
<path d="M181.0 1010.6C186.3 1011.6 192.0 1011.9 197.0 1013.5C201.8 1015.0 206.3 1017.2 210.3 1019.7C214.3 1022.2 217.9 1025.3 221.1 1028.6C224.4 1032.0 227.3 1035.8 229.9 1039.7C232.6 1043.7 234.8 1048.1 237.0 1052.6C239.1 1057.1 240.9 1061.8 242.6 1066.6C244.4 1071.4 245.8 1076.3 247.3 1081.3C248.7 1086.2 250.0 1091.2 251.2 1096.2C252.5 1101.2 253.6 1106.2 254.6 1111.2C255.6 1116.2 256.6 1121.3 257.4 1126.3C258.3 1131.4 259.0 1136.4 259.7 1141.5C260.4 1146.5 261.0 1151.6 261.5 1156.7C262.0 1161.8 262.5 1166.8 262.8 1171.9C263.2 1177.0 263.5 1182.1 263.8 1187.2C264.0 1192.2 264.2 1197.3 264.3 1202.4C264.4 1207.5 264.5 1212.5 264.5 1217.6C264.5 1222.6 264.4 1227.7 264.3 1232.7C264.2 1237.8 264.1 1242.8 263.9 1247.9C263.7 1252.9 263.5 1257.9 263.2 1262.9C263.0 1267.9 262.7 1272.9 262.3 1277.9C262.0 1282.9 261.6 1287.9 261.2 1292.9C260.8 1297.9 260.4 1302.9 260.0 1307.9C259.5 1312.9 259.0 1317.9 258.6 1322.8C258.1 1327.8 257.6 1332.8 257.0 1337.8C256.5 1342.8 256.0 1347.7 255.4 1352.7C254.9 1357.7 254.3 1362.7 253.8 1367.6C253.2 1372.6 252.6 1377.6 252.1 1382.6C251.5 1387.6 251.0 1392.6 250.4 1397.5C249.9 1402.5 249.3 1407.5 248.8 1412.5C248.2 1417.5 247.7 1422.5 247.2 1427.5C246.7 1432.5 246.2 1437.6 245.7 1442.6C245.2 1447.6 244.8 1452.6 244.3 1457.6C243.9 1462.7 243.5 1467.7 243.1 1472.8C242.7 1477.8 242.4 1482.9 242.1 1488.0C241.8 1493.0 241.5 1498.1 241.2 1503.2C241.0 1508.3 240.8 1513.4 240.6 1518.5C240.5 1523.6 240.4 1528.8 240.3 1533.9C240.3 1539.0 240.2 1544.2 240.3 1549.4C240.4 1554.5 240.6 1559.6 240.9 1564.8C241.3 1569.8 241.7 1574.9 242.5 1580.0C243.2 1585.0 244.1 1589.9 245.3 1594.8C246.5 1599.7 248.0 1604.5 249.7 1609.2C251.5 1613.8 253.5 1618.4 255.8 1622.8C258.1 1627.2 260.6 1631.5 263.3 1635.6C266.1 1639.6 269.0 1643.5 272.1 1647.2C275.2 1650.9 278.6 1654.3 282.1 1657.6C285.6 1661.0 289.2 1664.1 293.0 1667.0C296.9 1670.0 300.8 1672.7 304.9 1675.4C309.0 1678.0 313.3 1680.4 317.7 1682.7C322.0 1685.1 326.5 1687.2 331.1 1689.3C335.7 1691.3 340.4 1693.2 345.1 1695.0C349.9 1696.7 354.8 1698.4 359.7 1699.9C364.6 1701.5 369.7 1702.9 374.7 1704.2C379.7 1705.6 384.8 1706.8 389.9 1708.0C395.1 1709.1 400.2 1710.2 405.4 1711.2C410.6 1712.1 415.8 1713.1 421.0 1713.9C426.1 1714.8 431.3 1715.5 436.5 1716.3C441.6 1717.0 446.8 1717.7 451.9 1718.4C457.0 1719.0 462.1 1719.6 467.2 1720.2C472.2 1720.7 477.3 1721.3 482.3 1721.7C487.3 1722.2 492.3 1722.7 497.3 1723.1C502.3 1723.5 507.3 1723.8 512.3 1724.2C517.2 1724.5 522.2 1724.8 527.2 1725.1C532.1 1725.3 537.1 1725.6 542.0 1725.8C546.9 1726.0 551.9 1726.1 556.8 1726.3C561.7 1726.4 566.7 1726.5 571.6 1726.6C576.6 1726.7 581.5 1726.8 586.5 1726.8C591.4 1726.9 596.4 1726.9 601.3 1726.9C606.3 1726.9 611.3 1726.9 616.3 1726.9C621.2 1726.8 626.2 1726.8 631.2 1726.7C636.2 1726.6 641.2 1726.5 646.2 1726.4C651.2 1726.3 656.2 1726.1 661.2 1726.0C666.2 1725.8 671.3 1725.7 676.3 1725.5C681.3 1725.3 686.3 1725.1 691.4 1724.9C696.4 1724.7 701.5 1724.5 706.5 1724.3C711.5 1724.0 716.6 1723.8 721.6 1723.5C726.7 1723.3 731.7 1723.0 736.8 1722.8C741.9 1722.5 746.9 1722.2 752.0 1721.9C757.0 1721.6 762.1 1721.3 767.2 1721.0C772.2 1720.7 777.3 1720.4 782.4 1720.1C787.4 1719.8 792.5 1719.5 797.6 1719.2C802.6 1718.8 807.7 1718.5 812.8 1718.2C817.9 1717.9 822.9 1717.5 828.0 1717.2C833.1 1716.9 838.2 1716.5 843.2 1716.2C848.3 1715.9 853.4 1715.5 858.5 1715.2C863.5 1714.9 868.6 1714.6 873.7 1714.2C878.7 1713.9 883.8 1713.6 888.9 1713.3C893.9 1713.0 899.0 1712.7 904.1 1712.4C909.1 1712.1 914.2 1711.8 919.2 1711.5C924.3 1711.2 929.4 1710.9 934.4 1710.6C939.5 1710.3 944.5 1710.1 949.6 1709.8C954.6 1709.6 959.6 1709.3 964.7 1709.1C969.7 1708.9 974.8 1708.6 979.8 1708.4C984.8 1708.2 989.8 1708.0 994.9 1707.9C999.9 1707.7 1004.9 1707.5 1009.9 1707.4C1014.9 1707.2 1019.9 1707.1 1024.9 1707.0C1029.9 1706.8 1034.9 1706.7 1039.9 1706.7C1044.9 1706.6 1049.8 1706.5 1054.8 1706.5C1059.8 1706.4 1064.7 1706.4 1069.7 1706.4" fill="none" stroke="#000" stroke-width="1.1"/>
<circle cx="1073.40" cy="1706.40" r="3.7" fill="#fff" stroke="#000" stroke-width="1.5"/><path d="M1079.20 1706.40L1091.10 1699.60M1079.20 1706.40L1089.00 1706.40M1079.20 1706.40L1091.10 1713.00" stroke="#000" stroke-width="1.5" fill="none"/><path d="M1079.20 1706.40L1085.30 1703.10L1085.30 1709.70Z" fill="#000"/>
<path d="M181.0 1010.6C185.8 1012.9 191.2 1014.6 195.4 1017.5C199.3 1020.3 202.7 1023.8 205.6 1027.5C208.5 1031.2 210.7 1035.5 212.7 1039.8C214.8 1044.2 216.3 1048.9 217.7 1053.6C219.2 1058.3 220.4 1063.1 221.5 1068.0C222.7 1072.8 223.8 1077.6 224.8 1082.5C225.8 1087.4 226.7 1092.3 227.6 1097.2C228.4 1102.1 229.2 1107.0 229.9 1111.9C230.6 1116.9 231.2 1121.8 231.7 1126.8C232.3 1131.8 232.8 1136.8 233.2 1141.8C233.6 1146.8 234.0 1151.8 234.3 1156.8C234.6 1161.8 234.8 1166.9 235.0 1171.9C235.2 1177.0 235.4 1182.0 235.5 1187.1C235.6 1192.2 235.7 1197.2 235.7 1202.3C235.7 1207.4 235.7 1212.5 235.6 1217.6C235.6 1222.7 235.5 1227.8 235.4 1232.9C235.3 1238.0 235.1 1243.1 235.0 1248.2C234.8 1253.3 234.6 1258.4 234.4 1263.6C234.2 1268.7 234.0 1273.8 233.8 1278.9C233.5 1284.0 233.3 1289.1 233.0 1294.2C232.8 1299.3 232.5 1304.4 232.3 1309.5C232.0 1314.6 231.8 1319.7 231.5 1324.8C231.3 1329.9 231.0 1335.0 230.8 1340.1C230.6 1345.2 230.3 1350.2 230.1 1355.3C229.9 1360.4 229.7 1365.4 229.5 1370.5C229.3 1375.5 229.2 1380.6 229.0 1385.6C228.9 1390.6 228.7 1395.7 228.6 1400.7C228.4 1405.7 228.3 1410.7 228.2 1415.7C228.1 1420.7 228.0 1425.7 227.9 1430.8C227.8 1435.8 227.7 1440.8 227.6 1445.7C227.5 1450.7 227.5 1455.7 227.4 1460.7C227.3 1465.7 227.3 1470.7 227.2 1475.7C227.2 1480.7 227.1 1485.7 227.1 1490.7C227.0 1495.6 227.0 1500.6 226.9 1505.6C226.9 1510.6 226.8 1515.6 226.8 1520.6C226.8 1525.6 226.7 1530.6 226.7 1535.6C226.7 1540.5 226.6 1545.5 226.6 1550.5C226.6 1555.5 226.5 1560.5 226.5 1565.5C226.5 1570.5 226.4 1575.6 226.4 1580.6C226.3 1585.6 226.3 1590.6 226.2 1595.6C226.2 1600.7 226.1 1605.7 226.1 1610.7C226.0 1615.8 225.9 1620.8 225.9 1625.9C225.8 1630.9 225.7 1636.0 225.6 1641.0C225.6 1646.1 225.5 1651.2 225.4 1656.3C225.3 1661.4 225.2 1666.5 225.0 1671.6C224.9 1676.7 224.8 1681.8 224.6 1686.9C224.5 1692.0 224.4 1697.2 224.2 1702.3C224.1 1707.4 224.0 1712.6 223.9 1717.7C223.8 1722.9 223.7 1728.0 223.6 1733.1C223.6 1738.2 223.6 1743.4 223.6 1748.5C223.6 1753.6 223.7 1758.7 223.8 1763.8C224.0 1768.9 224.2 1773.9 224.5 1779.0C224.7 1784.0 225.1 1789.1 225.5 1794.1C225.9 1799.0 226.4 1804.0 227.1 1809.0C227.7 1813.9 228.4 1818.8 229.2 1823.7C230.0 1828.5 231.0 1833.4 232.0 1838.2C233.1 1843.0 234.3 1847.7 235.6 1852.4C236.9 1857.1 238.4 1861.8 240.0 1866.4C241.6 1871.0 243.3 1875.5 245.3 1880.0C247.2 1884.5 249.3 1889.0 251.5 1893.4C253.8 1897.7 256.2 1902.1 258.8 1906.3C261.5 1910.6 264.3 1914.7 267.3 1918.8C270.3 1923.0 273.5 1927.0 276.8 1931.0C280.1 1935.0 283.5 1938.9 287.0 1942.7C290.6 1946.6 294.2 1950.4 297.9 1954.1C301.6 1957.8 305.3 1961.5 309.1 1965.1C312.8 1968.8 316.6 1972.3 320.4 1975.9C324.2 1979.3 328.0 1982.8 331.8 1986.2C335.6 1989.5 339.5 1992.9 343.4 1996.1C347.3 1999.3 351.2 2002.4 355.2 2005.4C359.2 2008.4 363.3 2011.3 367.4 2014.1C371.6 2016.9 375.8 2019.6 380.0 2022.2C384.3 2024.7 388.7 2027.2 393.1 2029.5C397.5 2031.8 402.0 2034.0 406.5 2036.1C411.0 2038.2 415.6 2040.1 420.2 2042.0C424.9 2043.8 429.5 2045.6 434.3 2047.2C439.0 2048.8 443.7 2050.3 448.5 2051.7C453.3 2053.1 458.2 2054.4 463.0 2055.5C467.9 2056.7 472.8 2057.8 477.7 2058.7C482.6 2059.7 487.5 2060.6 492.5 2061.3C497.5 2062.1 502.5 2062.8 507.5 2063.4C512.5 2064.0 517.5 2064.5 522.5 2064.9C527.5 2065.3 532.6 2065.6 537.6 2065.9C542.7 2066.2 547.8 2066.4 552.8 2066.5C557.9 2066.6 563.0 2066.7 568.1 2066.7C573.1 2066.7 578.2 2066.6 583.3 2066.5C588.3 2066.4 593.4 2066.2 598.5 2066.0C603.5 2065.7 608.6 2065.5 613.6 2065.1C618.7 2064.8 623.7 2064.5 628.7 2064.0C633.8 2063.6 638.8 2063.2 643.8 2062.7C648.8 2062.2 653.9 2061.7 658.9 2061.1C663.9 2060.6 668.9 2060.0 673.9 2059.4C678.9 2058.7 683.9 2058.1 688.9 2057.4C693.9 2056.7 698.8 2056.0 703.8 2055.3C708.8 2054.6 713.8 2053.8 718.8 2053.1C723.7 2052.3 728.7 2051.5 733.7 2050.7C738.7 2049.9 743.6 2049.1 748.6 2048.3C753.6 2047.5 758.5 2046.6 763.5 2045.8C768.5 2044.9 773.4 2044.1 778.4 2043.2C783.3 2042.4 788.3 2041.5 793.3 2040.7C798.2 2039.8 803.2 2039.0 808.1 2038.1C813.1 2037.3 818.1 2036.4 823.0 2035.6C828.0 2034.7 832.9 2033.9 837.9 2033.1C842.9 2032.3 847.8 2031.5 852.8 2030.7C857.8 2029.9 862.7 2029.1 867.7 2028.4C872.7 2027.6 877.6 2026.9 882.6 2026.2C887.6 2025.5 892.6 2024.8 897.5 2024.1C902.5 2023.5 907.5 2022.9 912.5 2022.3C917.5 2021.7 922.5 2021.1 927.5 2020.6C932.5 2020.0 937.5 2019.5 942.5 2019.1C947.5 2018.6 952.5 2018.2 957.5 2017.8C962.5 2017.4 967.5 2017.1 972.6 2016.8C977.6 2016.5 982.6 2016.3 987.7 2016.1C992.7 2015.9 997.8 2015.8 1002.8 2015.7C1007.9 2015.6 1012.9 2015.6 1018.0 2015.6C1023.1 2015.6 1028.2 2015.7 1033.2 2015.9C1038.3 2016.0 1043.4 2016.3 1048.5 2016.5" fill="none" stroke="#000" stroke-width="1.1"/>
<circle cx="1052.21" cy="2016.37" r="3.7" fill="#fff" stroke="#000" stroke-width="1.5"/><path d="M1058.01 2016.17L1069.66 2008.96M1058.01 2016.17L1067.80 2015.83M1058.01 2016.17L1070.13 2022.35" stroke="#000" stroke-width="1.5" fill="none"/><path d="M1058.01 2016.17L1063.99 2012.66L1064.22 2019.26Z" fill="#000"/>
<path d="M181.0 1010.6C185.5 1013.2 190.5 1015.2 194.5 1018.3C198.5 1021.2 202.0 1024.6 205.1 1028.3C208.2 1032.0 210.9 1036.1 213.3 1040.3C215.7 1044.5 217.7 1049.0 219.5 1053.6C221.3 1058.2 222.8 1062.9 224.3 1067.7C225.7 1072.5 226.9 1077.3 228.1 1082.2C229.2 1087.1 230.2 1092.0 231.1 1096.9C232.0 1101.8 232.8 1106.7 233.5 1111.7C234.2 1116.6 234.7 1121.6 235.3 1126.6C235.8 1131.6 236.2 1136.6 236.5 1141.6C236.8 1146.7 237.1 1151.7 237.3 1156.8C237.5 1161.8 237.6 1166.9 237.7 1172.0C237.8 1177.0 237.9 1182.1 237.9 1187.2C237.9 1192.3 237.8 1197.4 237.8 1202.5C237.7 1207.6 237.6 1212.7 237.5 1217.8C237.5 1223.0 237.3 1228.1 237.2 1233.2C237.1 1238.3 237.0 1243.4 236.9 1248.5C236.8 1253.6 236.8 1258.7 236.7 1263.8C236.6 1268.9 236.6 1273.9 236.6 1279.0C236.5 1284.1 236.5 1289.2 236.5 1294.2C236.5 1299.3 236.5 1304.4 236.5 1309.4C236.5 1314.5 236.5 1319.5 236.5 1324.6C236.6 1329.7 236.6 1334.7 236.6 1339.7C236.7 1344.8 236.7 1349.8 236.8 1354.9C236.9 1359.9 236.9 1364.9 237.0 1370.0C237.1 1375.0 237.1 1380.0 237.2 1385.1C237.3 1390.1 237.4 1395.1 237.5 1400.1C237.6 1405.2 237.7 1410.2 237.7 1415.2C237.8 1420.2 237.9 1425.2 238.0 1430.3C238.1 1435.3 238.2 1440.3 238.3 1445.3C238.4 1450.3 238.5 1455.3 238.6 1460.3C238.7 1465.3 238.8 1470.4 238.9 1475.4C239.0 1480.4 239.1 1485.4 239.2 1490.4C239.2 1495.4 239.3 1500.4 239.4 1505.4C239.5 1510.4 239.5 1515.4 239.6 1520.4C239.7 1525.4 239.7 1530.5 239.8 1535.5C239.8 1540.5 239.9 1545.5 239.9 1550.5C239.9 1555.5 240.0 1560.5 240.0 1565.5C240.0 1570.6 240.0 1575.6 240.0 1580.6C240.0 1585.6 240.0 1590.6 240.0 1595.7C239.9 1600.7 239.9 1605.7 239.9 1610.7C239.8 1615.8 239.7 1620.8 239.7 1625.8C239.6 1630.9 239.5 1635.9 239.4 1640.9C239.3 1646.0 239.2 1651.0 239.0 1656.1C238.9 1661.1 238.7 1666.2 238.5 1671.2C238.4 1676.3 238.2 1681.3 238.0 1686.4C237.8 1691.4 237.5 1696.5 237.3 1701.6C237.1 1706.6 236.8 1711.7 236.5 1716.8C236.3 1721.9 236.0 1726.9 235.8 1732.0C235.5 1737.1 235.2 1742.2 234.9 1747.2C234.7 1752.3 234.4 1757.4 234.1 1762.5C233.9 1767.6 233.6 1772.7 233.4 1777.7C233.1 1782.8 232.9 1787.9 232.7 1793.0C232.5 1798.1 232.2 1803.1 232.1 1808.2C231.9 1813.3 231.7 1818.4 231.6 1823.4C231.4 1828.5 231.3 1833.6 231.2 1838.7C231.1 1843.7 231.0 1848.8 231.0 1853.9C231.0 1858.9 231.0 1864.0 231.0 1869.0C231.1 1874.1 231.1 1879.1 231.3 1884.2C231.4 1889.2 231.5 1894.3 231.7 1899.3C231.9 1904.3 232.2 1909.4 232.5 1914.4C232.8 1919.4 233.1 1924.4 233.5 1929.4C233.9 1934.5 234.4 1939.5 234.9 1944.5C235.4 1949.5 236.0 1954.4 236.7 1959.4C237.3 1964.4 238.0 1969.4 238.8 1974.3C239.6 1979.3 240.4 1984.3 241.3 1989.2C242.2 1994.1 243.2 1999.1 244.3 2004.0C245.3 2008.9 246.5 2013.8 247.7 2018.7C249.0 2023.6 250.3 2028.4 251.8 2033.2C253.4 2037.9 255.0 2042.6 256.9 2047.2C258.8 2051.7 260.9 2056.2 263.3 2060.4C265.7 2064.6 268.3 2068.7 271.2 2072.6C274.1 2076.5 277.3 2080.2 280.7 2083.8C284.0 2087.3 287.7 2090.6 291.4 2093.8C295.2 2097.0 299.2 2100.0 303.3 2102.8C307.4 2105.7 311.7 2108.4 316.0 2110.9C320.4 2113.4 324.9 2115.8 329.5 2118.0C334.1 2120.3 338.8 2122.3 343.5 2124.3C348.2 2126.2 353.1 2128.1 357.9 2129.8C362.8 2131.5 367.8 2133.1 372.7 2134.6C377.7 2136.1 382.7 2137.5 387.7 2138.9C392.8 2140.2 397.8 2141.4 402.9 2142.6C407.9 2143.8 412.9 2144.9 418.0 2146.0C423.0 2147.0 428.0 2148.0 433.0 2148.9C438.1 2149.8 443.1 2150.7 448.1 2151.5C453.1 2152.3 458.1 2153.1 463.1 2153.8C468.1 2154.5 473.1 2155.2 478.1 2155.8C483.1 2156.4 488.1 2157.0 493.1 2157.5C498.1 2158.0 503.1 2158.5 508.1 2158.9C513.1 2159.4 518.1 2159.8 523.0 2160.2C528.0 2160.6 533.0 2160.9 538.0 2161.2C543.0 2161.5 548.0 2161.8 553.0 2162.1C558.0 2162.3 563.0 2162.5 568.0 2162.8C573.0 2163.0 578.0 2163.2 583.0 2163.3C588.0 2163.5 593.0 2163.7 598.0 2163.8C603.0 2164.0 608.0 2164.1 613.0 2164.2C618.0 2164.3 623.0 2164.4 628.0 2164.5C633.0 2164.6 638.1 2164.7 643.1 2164.8C648.1 2164.8 653.1 2164.9 658.2 2165.0C663.2 2165.0 668.2 2165.0 673.3 2165.1C678.3 2165.1 683.3 2165.1 688.4 2165.1C693.4 2165.1 698.4 2165.1 703.5 2165.1C708.5 2165.1 713.6 2165.1 718.6 2165.1C723.6 2165.0 728.7 2165.0 733.7 2165.0C738.8 2164.9 743.8 2164.9 748.9 2164.8C753.9 2164.7 759.0 2164.7 764.0 2164.6C769.1 2164.5 774.1 2164.5 779.2 2164.4C784.2 2164.3 789.3 2164.2 794.3 2164.1C799.4 2164.0 804.4 2163.9 809.5 2163.8C814.5 2163.7 819.6 2163.6 824.6 2163.4C829.7 2163.3 834.8 2163.2 839.8 2163.1C844.9 2162.9 849.9 2162.8 855.0 2162.7C860.0 2162.5 865.1 2162.4 870.1 2162.3C875.2 2162.1 880.2 2162.0 885.3 2161.8C890.3 2161.7 895.4 2161.5 900.4 2161.4C905.5 2161.2 910.5 2161.1 915.6 2160.9C920.6 2160.8 925.6 2160.6 930.7 2160.5C935.7 2160.3 940.8 2160.1 945.8 2160.0C950.8 2159.8 955.9 2159.7 960.9 2159.5C966.0 2159.4 971.0 2159.2 976.0 2159.1C981.1 2158.9 986.1 2158.7 991.1 2158.6C996.1 2158.4 1001.2 2158.3 1006.2 2158.1C1011.2 2158.0 1016.2 2157.9 1021.2 2157.7C1026.3 2157.6 1031.3 2157.4 1036.3 2157.3C1041.3 2157.2 1046.3 2157.0 1051.3 2156.9" fill="none" stroke="#000" stroke-width="1.1"/>
<circle cx="1055.00" cy="2156.90" r="3.7" fill="#fff" stroke="#000" stroke-width="1.5"/><path d="M1060.80 2156.90L1072.70 2150.10M1060.80 2156.90L1070.60 2156.90M1060.80 2156.90L1072.70 2163.50" stroke="#000" stroke-width="1.5" fill="none"/><path d="M1060.80 2156.90L1066.90 2153.60L1066.90 2160.20Z" fill="#000"/>
<path d="M181.0 1010.6C186.3 1012.6 192.2 1014.0 196.9 1016.7C201.2 1019.3 205.0 1022.5 208.2 1026.0C211.3 1029.5 213.8 1033.6 215.9 1037.8C218.0 1042.0 219.5 1046.7 220.9 1051.3C222.3 1056.0 223.2 1061.0 224.2 1065.9C225.1 1070.9 225.9 1075.9 226.7 1080.9C227.5 1085.9 228.2 1091.0 228.9 1096.0C229.6 1101.0 230.3 1106.0 230.9 1111.1C231.6 1116.1 232.2 1121.1 232.8 1126.1C233.3 1131.1 233.9 1136.2 234.4 1141.2C234.9 1146.2 235.4 1151.2 235.8 1156.3C236.3 1161.3 236.7 1166.3 237.1 1171.3C237.5 1176.4 237.8 1181.4 238.2 1186.4C238.5 1191.5 238.8 1196.5 239.1 1201.5C239.4 1206.6 239.7 1211.6 239.9 1216.6C240.1 1221.6 240.3 1226.7 240.5 1231.7C240.7 1236.7 240.9 1241.8 241.1 1246.8C241.2 1251.8 241.3 1256.9 241.4 1261.9C241.6 1267.0 241.7 1272.0 241.7 1277.0C241.8 1282.1 241.9 1287.1 241.9 1292.1C241.9 1297.2 242.0 1302.2 242.0 1307.2C242.0 1312.3 242.0 1317.3 242.0 1322.4C242.0 1327.4 241.9 1332.4 241.9 1337.5C241.9 1342.5 241.8 1347.5 241.8 1352.6C241.7 1357.6 241.6 1362.7 241.6 1367.7C241.5 1372.7 241.4 1377.8 241.3 1382.8C241.2 1387.9 241.1 1392.9 241.0 1397.9C240.9 1403.0 240.8 1408.0 240.7 1413.0C240.6 1418.1 240.5 1423.1 240.4 1428.2C240.3 1433.2 240.2 1438.2 240.0 1443.3C239.9 1448.3 239.8 1453.4 239.7 1458.4C239.6 1463.4 239.5 1468.5 239.3 1473.5C239.2 1478.5 239.1 1483.6 239.0 1488.6C238.9 1493.7 238.8 1498.7 238.7 1503.7C238.6 1508.8 238.4 1513.8 238.3 1518.8C238.2 1523.9 238.1 1528.9 238.0 1534.0C237.9 1539.0 237.8 1544.0 237.7 1549.1C237.6 1554.1 237.5 1559.1 237.4 1564.2C237.3 1569.2 237.2 1574.2 237.1 1579.3C237.0 1584.3 236.9 1589.3 236.8 1594.4C236.7 1599.4 236.6 1604.5 236.5 1609.5C236.4 1614.5 236.3 1619.6 236.3 1624.6C236.2 1629.6 236.1 1634.7 236.0 1639.7C235.9 1644.7 235.9 1649.8 235.8 1654.8C235.7 1659.9 235.6 1664.9 235.6 1669.9C235.5 1675.0 235.4 1680.0 235.4 1685.0C235.3 1690.1 235.2 1695.1 235.2 1700.1C235.1 1705.2 235.1 1710.2 235.0 1715.2C235.0 1720.3 234.9 1725.3 234.9 1730.4C234.8 1735.4 234.8 1740.4 234.8 1745.5C234.7 1750.5 234.7 1755.5 234.7 1760.6C234.6 1765.6 234.6 1770.6 234.6 1775.7C234.6 1780.7 234.5 1785.7 234.5 1790.8C234.5 1795.8 234.5 1800.9 234.5 1805.9C234.5 1810.9 234.5 1816.0 234.5 1821.0C234.5 1826.0 234.5 1831.1 234.5 1836.1C234.5 1841.1 234.5 1846.2 234.6 1851.2C234.6 1856.3 234.6 1861.3 234.6 1866.3C234.7 1871.4 234.7 1876.4 234.8 1881.4C234.8 1886.5 234.9 1891.5 234.9 1896.6C235.0 1901.6 235.0 1906.6 235.1 1911.7C235.1 1916.7 235.2 1921.8 235.3 1926.8C235.4 1931.8 235.4 1936.9 235.5 1941.9C235.6 1946.9 235.7 1952.0 235.8 1957.0C235.9 1962.1 236.0 1967.1 236.1 1972.1C236.2 1977.2 236.3 1982.2 236.5 1987.3C236.6 1992.3 236.7 1997.3 236.9 2002.4C237.0 2007.4 237.1 2012.5 237.3 2017.5C237.4 2022.6 237.6 2027.6 237.8 2032.6C237.9 2037.7 238.1 2042.7 238.3 2047.8C238.4 2052.8 238.6 2057.9 238.8 2062.9C239.0 2067.9 239.2 2073.0 239.4 2078.0C239.6 2083.1 239.8 2088.1 240.1 2093.1C240.4 2098.1 240.7 2103.1 241.3 2108.1C242.0 2112.9 242.7 2117.8 243.8 2122.6C244.9 2127.2 246.3 2131.9 248.1 2136.4C249.9 2140.8 252.1 2145.2 254.5 2149.4C257.0 2153.6 259.8 2157.6 262.8 2161.5C265.9 2165.5 269.3 2169.3 272.7 2173.0C276.2 2176.7 280.0 2180.3 283.8 2183.8C287.6 2187.3 291.6 2190.8 295.6 2194.2C299.5 2197.6 303.6 2201.0 307.6 2204.3C311.6 2207.7 315.6 2211.1 319.5 2214.4C323.4 2217.8 327.2 2221.1 331.1 2224.4C334.9 2227.7 338.7 2231.1 342.6 2234.3C346.4 2237.6 350.2 2240.8 354.1 2244.0C358.0 2247.2 361.9 2250.3 365.9 2253.4C369.9 2256.5 373.9 2259.5 378.0 2262.4C382.2 2265.3 386.4 2268.2 390.6 2270.9C394.9 2273.7 399.2 2276.3 403.6 2278.8C408.0 2281.4 412.5 2283.8 417.0 2286.1C421.5 2288.4 426.1 2290.5 430.7 2292.5C435.3 2294.5 440.0 2296.4 444.7 2298.0C449.4 2299.7 454.1 2301.2 458.9 2302.6C463.7 2304.0 468.5 2305.2 473.4 2306.3C478.2 2307.4 483.1 2308.3 488.1 2309.1C493.0 2310.0 497.9 2310.6 502.9 2311.2C507.9 2311.8 512.9 2312.3 517.9 2312.7C522.9 2313.1 527.9 2313.4 533.0 2313.6C538.0 2313.8 543.1 2313.9 548.1 2314.0C553.2 2314.0 558.3 2314.0 563.3 2314.0C568.4 2313.9 573.5 2313.8 578.6 2313.6C583.6 2313.4 588.7 2313.2 593.8 2313.0C598.9 2312.8 603.9 2312.5 609.0 2312.2C614.0 2311.9 619.1 2311.6 624.1 2311.2C629.2 2310.8 634.2 2310.4 639.2 2310.0C644.3 2309.6 649.3 2309.2 654.3 2308.7C659.4 2308.2 664.4 2307.7 669.4 2307.2C674.4 2306.7 679.5 2306.2 684.5 2305.6C689.5 2305.1 694.5 2304.5 699.5 2303.9C704.5 2303.3 709.5 2302.7 714.5 2302.1C719.5 2301.5 724.5 2300.9 729.5 2300.2C734.5 2299.6 739.5 2298.9 744.5 2298.2C749.5 2297.6 754.5 2296.9 759.5 2296.2C764.4 2295.5 769.4 2294.8 774.4 2294.1C779.4 2293.4 784.4 2292.7 789.4 2292.0C794.4 2291.3 799.3 2290.5 804.3 2289.8C809.3 2289.1 814.3 2288.4 819.3 2287.7C824.2 2287.0 829.2 2286.3 834.2 2285.5C839.2 2284.8 844.2 2284.1 849.1 2283.4C854.1 2282.7 859.1 2282.0 864.1 2281.3C869.1 2280.6 874.0 2280.0 879.0 2279.3C884.0 2278.6 889.0 2278.0 894.0 2277.3C898.9 2276.7 903.9 2276.0 908.9 2275.4C913.9 2274.8 918.9 2274.2 923.9 2273.6C928.9 2273.0 933.9 2272.5 938.9 2271.9C943.9 2271.4 948.9 2270.8 953.8 2270.3C958.8 2269.8 963.9 2269.3 968.9 2268.9C973.9 2268.4 978.9 2268.0 983.9 2267.6C988.9 2267.1 993.9 2266.8 998.9 2266.4C1003.9 2266.0 1009.0 2265.7 1014.0 2265.4C1019.0 2265.1 1024.0 2264.9 1029.1 2264.6C1034.1 2264.4 1039.1 2264.2 1044.2 2264.0C1049.2 2263.9 1054.3 2263.8 1059.3 2263.7" fill="none" stroke="#000" stroke-width="1.1"/>
<circle cx="1063.02" cy="2263.46" r="3.7" fill="#fff" stroke="#000" stroke-width="1.5"/><path d="M1068.81 2263.15L1080.34 2255.74M1068.81 2263.15L1078.60 2262.64M1068.81 2263.15L1081.04 2269.12" stroke="#000" stroke-width="1.5" fill="none"/><path d="M1068.81 2263.15L1074.73 2259.54L1075.08 2266.13Z" fill="#000"/>
<path d="M181.0 1010.6C185.9 1012.7 191.3 1014.2 195.6 1017.0C199.7 1019.7 203.2 1023.1 206.3 1026.8C209.3 1030.4 211.7 1034.7 213.9 1039.0C216.0 1043.4 217.7 1048.1 219.2 1052.8C220.7 1057.6 221.9 1062.6 223.1 1067.6C224.3 1072.5 225.3 1077.5 226.2 1082.4C227.2 1087.4 228.0 1092.4 228.7 1097.3C229.5 1102.3 230.2 1107.3 230.7 1112.3C231.3 1117.3 231.8 1122.3 232.2 1127.3C232.7 1132.3 233.0 1137.3 233.3 1142.3C233.6 1147.3 233.8 1152.3 234.0 1157.3C234.2 1162.3 234.3 1167.3 234.4 1172.4C234.4 1177.4 234.5 1182.4 234.5 1187.4C234.5 1192.4 234.4 1197.5 234.4 1202.5C234.3 1207.5 234.2 1212.6 234.1 1217.6C234.0 1222.6 233.9 1227.7 233.8 1232.7C233.7 1237.7 233.5 1242.8 233.4 1247.8C233.3 1252.8 233.2 1257.9 233.0 1262.9C232.9 1267.9 232.8 1272.9 232.7 1278.0C232.6 1283.0 232.5 1288.0 232.4 1293.1C232.3 1298.1 232.2 1303.1 232.1 1308.1C232.0 1313.2 231.9 1318.2 231.8 1323.2C231.7 1328.3 231.7 1333.3 231.6 1338.3C231.5 1343.3 231.4 1348.4 231.4 1353.4C231.3 1358.4 231.2 1363.4 231.2 1368.4C231.1 1373.5 231.0 1378.5 231.0 1383.5C230.9 1388.5 230.9 1393.6 230.8 1398.6C230.8 1403.6 230.7 1408.6 230.7 1413.6C230.6 1418.7 230.6 1423.7 230.6 1428.7C230.5 1433.7 230.5 1438.7 230.5 1443.8C230.4 1448.8 230.4 1453.8 230.4 1458.8C230.3 1463.8 230.3 1468.8 230.3 1473.9C230.3 1478.9 230.3 1483.9 230.2 1488.9C230.2 1493.9 230.2 1498.9 230.2 1504.0C230.2 1509.0 230.2 1514.0 230.2 1519.0C230.2 1524.0 230.2 1529.0 230.2 1534.0C230.2 1539.1 230.2 1544.1 230.2 1549.1C230.2 1554.1 230.2 1559.1 230.2 1564.1C230.2 1569.1 230.2 1574.2 230.2 1579.2C230.2 1584.2 230.2 1589.2 230.2 1594.2C230.3 1599.2 230.3 1604.2 230.3 1609.2C230.3 1614.3 230.3 1619.3 230.3 1624.3C230.4 1629.3 230.4 1634.3 230.4 1639.3C230.4 1644.3 230.5 1649.3 230.5 1654.3C230.5 1659.4 230.5 1664.4 230.6 1669.4C230.6 1674.4 230.6 1679.4 230.7 1684.4C230.7 1689.4 230.7 1694.4 230.8 1699.4C230.8 1704.4 230.8 1709.5 230.9 1714.5C230.9 1719.5 230.9 1724.5 231.0 1729.5C231.0 1734.5 231.0 1739.5 231.0 1744.5C231.1 1749.5 231.1 1754.6 231.1 1759.6C231.2 1764.6 231.2 1769.6 231.2 1774.6C231.3 1779.6 231.3 1784.6 231.3 1789.6C231.3 1794.6 231.4 1799.7 231.4 1804.7C231.4 1809.7 231.4 1814.7 231.5 1819.7C231.5 1824.7 231.5 1829.7 231.5 1834.8C231.5 1839.8 231.5 1844.8 231.5 1849.8C231.6 1854.8 231.6 1859.8 231.6 1864.9C231.6 1869.9 231.6 1874.9 231.6 1879.9C231.5 1884.9 231.5 1889.9 231.5 1895.0C231.5 1900.0 231.5 1905.0 231.5 1910.0C231.5 1915.0 231.4 1920.1 231.4 1925.1C231.4 1930.1 231.3 1935.1 231.3 1940.2C231.2 1945.2 231.2 1950.2 231.1 1955.2C231.1 1960.3 231.0 1965.3 231.0 1970.3C230.9 1975.4 230.8 1980.4 230.8 1985.4C230.7 1990.4 230.6 1995.5 230.5 2000.5C230.4 2005.5 230.3 2010.6 230.2 2015.6C230.1 2020.6 230.0 2025.7 229.9 2030.7C229.8 2035.8 229.7 2040.8 229.5 2045.8C229.4 2050.9 229.3 2055.9 229.1 2061.0C229.0 2066.0 228.9 2071.0 228.7 2076.1C228.6 2081.1 228.5 2086.2 228.3 2091.2C228.2 2096.3 228.1 2101.3 228.0 2106.4C228.0 2111.4 227.9 2116.4 227.9 2121.5C227.8 2126.5 227.8 2131.6 227.9 2136.6C227.9 2141.6 227.9 2146.7 228.0 2151.7C228.1 2156.7 228.3 2161.8 228.5 2166.8C228.6 2171.8 228.9 2176.9 229.2 2181.9C229.5 2186.9 229.8 2191.9 230.2 2196.9C230.6 2202.0 231.0 2207.0 231.6 2212.0C232.1 2217.0 232.7 2222.0 233.4 2227.0C234.1 2231.9 234.9 2236.9 235.8 2241.8C236.7 2246.7 237.7 2251.6 238.9 2256.4C240.1 2261.2 241.5 2266.0 243.0 2270.7C244.5 2275.3 246.2 2279.9 248.1 2284.5C249.9 2289.0 252.0 2293.4 254.3 2297.7C256.7 2302.0 259.2 2306.2 262.0 2310.2C264.8 2314.3 267.8 2318.3 271.1 2322.0C274.4 2325.9 277.9 2329.5 281.5 2333.0C285.2 2336.5 289.1 2339.9 293.2 2343.1C297.2 2346.3 301.4 2349.4 305.8 2352.3C310.1 2355.2 314.6 2357.9 319.2 2360.5C323.7 2363.0 328.4 2365.4 333.2 2367.6C337.9 2369.8 342.8 2371.8 347.6 2373.7C352.5 2375.5 357.4 2377.1 362.3 2378.6C367.2 2380.0 372.2 2381.3 377.1 2382.3C382.0 2383.3 386.9 2384.2 391.8 2384.8C396.7 2385.5 401.6 2386.0 406.5 2386.3C411.4 2386.6 416.3 2386.8 421.2 2386.8C426.1 2386.8 431.0 2386.6 435.8 2386.4C440.7 2386.1 445.6 2385.7 450.5 2385.1C455.4 2384.6 460.2 2384.0 465.1 2383.2C470.0 2382.5 474.9 2381.6 479.7 2380.7C484.6 2379.8 489.5 2378.8 494.3 2377.7C499.2 2376.6 504.1 2375.4 509.0 2374.2C513.8 2373.0 518.7 2371.8 523.6 2370.5C528.5 2369.2 533.3 2367.8 538.2 2366.5C543.1 2365.1 548.0 2363.8 552.9 2362.4C557.8 2361.0 562.7 2359.6 567.5 2358.2C572.4 2356.9 577.3 2355.5 582.2 2354.2C587.1 2352.9 592.1 2351.5 597.0 2350.3C601.9 2349.0 606.8 2347.8 611.7 2346.6C616.7 2345.5 621.6 2344.4 626.5 2343.3C631.5 2342.3 636.4 2341.3 641.4 2340.5C646.3 2339.6 651.3 2338.8 656.3 2338.0C661.2 2337.2 666.2 2336.5 671.2 2335.9C676.2 2335.3 681.1 2334.7 686.1 2334.2C691.1 2333.6 696.1 2333.2 701.1 2332.7C706.1 2332.3 711.1 2332.0 716.1 2331.6C721.1 2331.3 726.1 2331.0 731.1 2330.8C736.2 2330.5 741.2 2330.3 746.2 2330.1C751.2 2330.0 756.2 2329.8 761.3 2329.7C766.3 2329.6 771.3 2329.6 776.3 2329.5C781.4 2329.4 786.4 2329.4 791.4 2329.4C796.4 2329.4 801.5 2329.4 806.5 2329.5C811.5 2329.5 816.6 2329.5 821.6 2329.6C826.6 2329.7 831.7 2329.7 836.7 2329.8C841.7 2329.9 846.7 2330.0 851.8 2330.1C856.8 2330.1 861.8 2330.2 866.9 2330.3C871.9 2330.4 876.9 2330.5 881.9 2330.6C886.9 2330.6 892.0 2330.7 897.0 2330.7C902.0 2330.8 907.0 2330.8 912.0 2330.9C917.0 2330.9 922.0 2330.9 927.0 2330.9C932.0 2330.9 937.0 2330.9 942.0 2330.9C947.0 2330.9 952.0 2330.9 957.0 2330.8C962.0 2330.8 967.0 2330.7 972.0 2330.7C977.0 2330.6 982.0 2330.6 987.0 2330.5C992.0 2330.5 997.0 2330.4 1002.0 2330.3C1006.9 2330.2 1011.9 2330.2 1016.9 2330.1C1021.9 2330.0 1026.9 2329.9 1031.9 2329.8C1036.9 2329.7 1041.8 2329.6 1046.8 2329.5C1051.8 2329.4 1056.8 2329.4 1061.8 2329.3C1066.8 2329.2 1071.8 2329.1 1076.8 2329.0C1081.7 2328.9 1086.7 2328.8 1091.7 2328.7C1096.7 2328.6 1101.7 2328.5 1106.7 2328.5C1111.7 2328.4 1116.7 2328.3 1121.7 2328.2C1126.7 2328.1 1131.7 2328.1 1136.7 2328.0C1141.7 2328.0 1146.7 2327.9 1151.7 2327.9C1156.7 2327.8 1161.7 2327.8 1166.7 2327.7C1171.8 2327.7 1176.8 2327.7 1181.8 2327.7C1186.8 2327.7 1191.8 2327.7 1196.9 2327.7C1201.9 2327.7 1206.9 2327.7 1212.0 2327.7C1217.0 2327.8 1222.0 2327.8 1227.1 2327.9C1232.1 2327.9 1237.2 2328.0 1242.2 2328.1C1247.3 2328.2 1252.3 2328.3 1257.4 2328.4C1262.4 2328.5 1267.5 2328.7 1272.6 2328.8C1277.7 2329.0 1282.7 2329.1 1287.8 2329.3C1292.9 2329.5 1298.0 2329.7 1303.1 2330.0C1308.2 2330.2 1313.3 2330.4 1318.4 2330.7C1323.5 2331.0 1328.6 2331.2 1333.7 2331.5C1338.8 2331.8 1343.9 2332.0 1349.0 2332.3C1354.2 2332.6 1359.3 2332.8 1364.4 2333.0C1369.5 2333.3 1374.6 2333.5 1379.7 2333.7C1384.8 2333.9 1389.9 2334.1 1395.0 2334.2C1400.0 2334.4 1405.1 2334.5 1410.2 2334.5C1415.3 2334.6 1420.3 2334.6 1425.4 2334.6C1430.4 2334.6 1435.4 2334.5 1440.5 2334.4C1445.5 2334.2 1450.5 2334.0 1455.5 2333.8C1460.5 2333.5 1465.5 2333.2 1470.4 2332.8C1475.4 2332.4 1480.3 2331.9 1485.2 2331.4C1490.2 2330.8 1495.1 2330.1 1499.9 2329.4C1504.8 2328.7 1509.7 2327.8 1514.5 2326.9C1519.3 2326.0 1524.1 2324.9 1528.9 2323.8C1533.7 2322.7 1538.5 2321.4 1543.2 2320.0C1547.9 2318.7 1552.6 2317.2 1557.3 2315.6C1561.9 2314.0 1566.6 2312.2 1571.1 2310.3C1575.8 2308.5 1580.3 2306.5 1584.8 2304.3C1589.4 2302.2 1593.9 2299.9 1598.3 2297.4C1602.7 2295.0 1607.1 2292.4 1611.4 2289.7C1615.7 2287.0 1620.0 2284.2 1624.1 2281.2C1628.2 2278.2 1632.3 2275.1 1636.2 2271.8C1640.1 2268.6 1643.9 2265.2 1647.6 2261.7C1651.2 2258.2 1654.8 2254.6 1658.2 2250.9C1661.5 2247.1 1664.8 2243.2 1667.8 2239.3C1670.9 2235.3 1673.7 2231.1 1676.5 2226.9C1679.2 2222.7 1681.7 2218.4 1684.1 2214.0C1686.5 2209.6 1688.8 2205.0 1690.9 2200.5C1693.0 2195.9 1694.9 2191.2 1696.8 2186.5C1698.6 2181.7 1700.4 2176.9 1702.0 2172.1C1703.6 2167.3 1705.1 2162.4 1706.5 2157.4C1707.9 2152.5 1709.2 2147.6 1710.4 2142.6C1711.6 2137.6 1712.7 2132.6 1713.8 2127.6C1714.8 2122.6 1715.8 2117.6 1716.7 2112.5C1717.6 2107.5 1718.5 2102.5 1719.3 2097.5C1720.1 2092.5 1720.8 2087.4 1721.5 2082.4C1722.2 2077.4 1722.8 2072.4 1723.4 2067.4C1724.1 2062.3 1724.6 2057.3 1725.2 2052.3C1725.7 2047.3 1726.2 2042.3 1726.7 2037.2C1727.3 2032.2 1727.7 2027.2 1728.2 2022.2C1728.7 2017.2 1729.1 2012.2 1729.6 2007.2C1730.1 2002.2 1730.5 1997.2 1731.0 1992.2C1731.5 1987.2 1731.9 1982.2 1732.4 1977.2C1732.9 1972.3 1733.4 1967.3 1734.0 1962.3C1734.5 1957.3 1735.1 1952.4 1735.7 1947.4C1736.3 1942.5 1736.9 1937.5 1737.6 1932.6C1738.3 1927.6 1739.0 1922.7 1739.8 1917.8C1740.6 1912.9 1741.4 1908.0 1742.3 1903.1C1743.2 1898.2 1744.1 1893.3 1745.1 1888.4C1746.2 1883.5 1747.3 1878.7 1748.4 1873.8C1749.6 1868.9 1750.9 1864.1 1752.2 1859.3C1753.5 1854.4 1754.9 1849.6 1756.4 1844.8C1757.9 1840.0 1759.4 1835.2 1761.0 1830.4C1762.5 1825.6 1764.1 1820.8 1765.8 1816.0C1767.4 1811.2 1769.1 1806.5 1770.8 1801.7C1772.5 1796.9 1774.2 1792.2 1775.9 1787.4C1777.6 1782.6 1779.3 1777.9 1781.0 1773.1C1782.7 1768.3 1784.4 1763.6 1786.1 1758.8C1787.8 1754.0 1789.4 1749.3 1791.0 1744.5C1792.6 1739.7 1794.2 1734.9 1795.7 1730.1C1797.3 1725.4 1798.8 1720.6 1800.2 1715.8C1801.6 1711.0 1802.9 1706.2 1804.2 1701.4C1805.5 1696.5 1806.7 1691.7 1807.8 1686.9C1808.9 1682.1 1809.9 1677.2 1810.8 1672.3C1811.7 1667.5 1812.6 1662.6 1813.3 1657.7C1814.1 1652.9 1814.7 1648.0 1815.3 1643.0C1815.9 1638.1 1816.4 1633.2 1816.8 1628.3C1817.2 1623.3 1817.6 1618.4 1817.8 1613.4C1818.1 1608.4 1818.3 1603.4 1818.4 1598.4C1818.5 1593.4 1818.5 1588.4 1818.5 1583.3C1818.5 1578.3 1818.4 1573.2 1818.2 1568.1C1818.0 1563.0 1817.7 1557.9 1817.5 1552.8C1817.2 1547.7 1816.6 1542.5 1816.5 1537.4C1816.3 1532.4 1816.0 1527.4 1816.5 1522.6C1817.1 1517.9 1817.8 1513.2 1819.7 1509.2C1821.7 1505.1 1824.4 1501.2 1828.1 1498.1C1832.1 1494.8 1838.4 1493.0 1843.6 1490.5" fill="none" stroke="#000" stroke-width="1.1"/>
<circle cx="1847.26" cy="1490.13" r="3.7" fill="#fff" stroke="#000" stroke-width="1.5"/><path d="M1853.04 1489.62L1864.30 1481.81M1853.04 1489.62L1862.80 1488.77M1853.04 1489.62L1865.47 1495.16" stroke="#000" stroke-width="1.5" fill="none"/><path d="M1853.04 1489.62L1858.83 1485.80L1859.40 1492.38Z" fill="#000"/>
<path d="M211.4 1191.6C217.2 1190.7 223.6 1190.8 228.7 1188.8C233.4 1187.1 237.5 1184.3 241.0 1181.0C244.4 1177.8 247.1 1173.6 249.5 1169.4C251.9 1165.0 253.7 1160.1 255.5 1155.2C257.3 1150.2 258.7 1144.9 260.3 1139.7C261.9 1134.6 263.3 1129.2 265.2 1124.2C267.1 1119.3 268.9 1114.4 271.5 1110.0C274.1 1105.7 276.9 1101.6 280.6 1098.3C284.3 1095.0 289.3 1093.0 293.6 1090.4" fill="none" stroke="#000" stroke-width="1.1" stroke-dasharray="8,7"/>
<circle cx="297.09" cy="1089.11" r="3.7" fill="#fff" stroke="#000" stroke-width="1.5"/><path d="M302.54 1087.13L311.40 1076.67M302.54 1087.13L311.75 1083.77M302.54 1087.13L315.98 1089.26" stroke="#000" stroke-width="1.5" fill="none"/><path d="M302.54 1087.13L307.14 1081.94L309.40 1088.14Z" fill="#000"/>
<path d="M211.4 1191.6C216.5 1191.5 221.7 1191.2 226.8 1191.2C231.9 1191.2 237.0 1191.4 242.1 1191.6C247.1 1191.9 252.1 1192.3 257.2 1192.8C262.2 1193.3 267.2 1194.0 272.1 1194.7C277.1 1195.4 282.1 1196.3 287.0 1197.2C291.9 1198.1 296.8 1199.1 301.7 1200.2C306.7 1201.3 311.5 1202.5 316.4 1203.7C321.3 1205.0 326.2 1206.3 331.0 1207.6C335.9 1209.0 340.7 1210.4 345.5 1211.9C350.4 1213.4 355.2 1214.9 360.0 1216.4C364.8 1217.9 369.6 1219.5 374.4 1221.1C379.3 1222.7 384.1 1224.3 388.9 1225.9C393.7 1227.5 398.5 1229.1 403.3 1230.8C408.1 1232.4 412.9 1234.0 417.7 1235.6C422.5 1237.2 427.3 1238.8 432.1 1240.3C437.0 1241.9 441.8 1243.4 446.6 1244.9C451.5 1246.3 456.3 1247.8 461.1 1249.2C466.0 1250.6 470.9 1251.9 475.7 1253.2C480.6 1254.5 485.5 1255.7 490.4 1256.8C495.3 1257.9 500.2 1259.0 505.1 1260.0C510.1 1260.9 515.0 1261.8 520.0 1262.6C525.0 1263.4 530.0 1264.1 535.0 1264.6C540.0 1265.2 545.0 1265.7 550.1 1266.0C555.1 1266.3 560.2 1266.4 565.3 1266.6" fill="none" stroke="#000" stroke-width="1.1" stroke-dasharray="8,7"/>
<circle cx="569.00" cy="1266.60" r="3.7" fill="#fff" stroke="#000" stroke-width="1.5"/><path d="M574.80 1266.60L586.70 1259.80M574.80 1266.60L584.60 1266.60M574.80 1266.60L586.70 1273.20" stroke="#000" stroke-width="1.5" fill="none"/><path d="M574.80 1266.60L580.90 1263.30L580.90 1269.90Z" fill="#000"/>
<path d="M484.2 1083.5C489.9 1083.5 495.7 1084.2 501.3 1083.6C506.8 1083.0 512.2 1081.5 517.6 1080.0C523.0 1078.5 528.2 1076.3 533.5 1074.4C538.7 1072.6 544.0 1070.4 549.3 1068.7C554.7 1067.0 560.2 1065.9 565.6 1064.5" fill="none" stroke="#000" stroke-width="1.1"/>
<circle cx="569.25" cy="1063.85" r="3.7" fill="#fff" stroke="#000" stroke-width="1.5"/><path d="M574.96 1062.84L585.50 1054.08M574.96 1062.84L584.61 1061.14M574.96 1062.84L587.83 1067.27" stroke="#000" stroke-width="1.5" fill="none"/><path d="M574.96 1062.84L580.40 1058.53L581.54 1065.03Z" fill="#000"/>
<path d="M941.5 1002.5C945.5 999.2 950.0 996.2 953.5 992.5C956.9 988.9 959.8 984.9 962.2 980.8C964.6 976.7 966.5 972.3 968.2 967.8C969.8 963.3 971.0 958.5 972.0 953.8C973.1 949.0 973.7 944.1 974.4 939.1C975.0 934.1 975.4 929.1 975.8 924.1C976.3 919.0 976.6 914.0 977.0 908.9C977.3 903.9 977.7 898.8 978.0 893.8C978.3 888.7 978.5 883.7 978.7 878.6C979.0 873.6 979.2 868.5 979.4 863.4C979.6 858.4 979.7 853.3 979.8 848.2C980.0 843.2 980.1 838.1 980.2 833.0C980.3 828.0 980.3 822.9 980.4 817.8C980.4 812.7 980.5 807.7 980.5 802.6C980.5 797.5 980.5 792.4 980.5 787.4C980.5 782.3 980.5 777.2 980.4 772.1C980.4 767.0 980.3 762.0 980.2 756.9C980.2 751.8 980.1 746.7 980.0 741.6C979.9 736.6 979.8 731.5 979.7 726.4C979.6 721.3 979.5 716.2 979.4 711.2C979.3 706.1 979.2 701.0 979.1 695.9C979.0 690.9 978.9 685.8 978.7 680.7C978.6 675.7 978.5 670.6 978.4 665.5C978.3 660.4 978.1 655.4 978.0 650.3C977.9 645.3 977.8 640.2 977.7 635.1C977.6 630.1 977.5 625.0 977.4 620.0C977.3 614.9 977.3 609.9 977.2 604.8C977.1 599.8 977.1 594.7 977.0 589.7C977.0 584.7 976.9 579.6 976.9 574.6C976.9 569.6 976.9 564.5 976.9 559.5C976.9 554.5 977.0 549.5 977.0 544.4C977.0 539.4 977.1 534.4 977.2 529.4C977.2 524.4 977.3 519.4 977.4 514.4C977.5 509.4 977.6 504.4 977.7 499.4C977.8 494.4 977.9 489.4 978.1 484.4C978.2 479.4 978.3 474.4 978.5 469.4C978.6 464.4 978.8 459.4 978.9 454.4C979.1 449.4 979.2 444.4 979.4 439.4C979.5 434.4 979.7 429.4 979.8 424.3C980.0 419.3 980.1 414.3 980.3 409.3C980.4 404.3 980.6 399.3 980.7 394.3C980.9 389.2 981.0 384.2 981.1 379.2C981.3 374.1 981.4 369.1 981.5 364.1C981.6 359.0 981.7 354.0 981.8 348.9C981.9 343.9 982.0 338.8 982.1 333.7C982.2 328.7 982.2 323.6 982.3 318.5C982.3 313.4 982.4 308.3 982.4 303.2C982.4 298.1 982.4 293.0 982.4 287.9C982.4 282.8 982.4 277.7 982.3 272.5C982.3 267.4 982.2 262.2 982.1 257.1C982.0 251.9 981.9 246.7 981.8 241.6C981.6 236.4 981.5 231.2 981.3 226.0C981.2 220.8 981.0 215.6 980.9 210.4C980.8 205.2 980.7 200.0 980.6 194.9C980.6 189.7 980.6 184.6 980.7 179.4C980.8 174.3 981.0 169.2 981.3 164.2C981.6 159.2 982.0 154.1 982.5 149.2C983.1 144.2 983.7 139.3 984.6 134.4C985.4 129.6 986.4 124.8 987.6 120.0C988.8 115.3 990.2 110.6 991.8 106.0C993.4 101.5 995.2 96.9 997.3 92.6C999.3 88.2 1001.7 83.9 1004.3 79.9C1007.0 75.8 1009.9 71.9 1013.2 68.3C1016.6 64.6 1020.3 61.1 1024.3 58.0C1028.4 54.8 1033.3 52.3 1037.7 49.4" fill="none" stroke="#000" stroke-width="1.1"/>
<path d="M1045.47 50.53L1052.40 51.50" stroke="#000" stroke-width="1"/><path d="M1049.73 45.37L1048.14 56.66" stroke="#000" stroke-width="2.7"/><circle cx="1041.51" cy="49.97" r="3.8" fill="#fff" stroke="#000" stroke-width="1.4"/>
<path d="M941.5 1002.5C945.8 999.4 950.6 996.7 954.3 993.2C957.9 989.8 961.0 986.0 963.6 982.0C966.1 978.1 968.2 973.8 969.9 969.4C971.6 964.9 972.9 960.2 973.9 955.5C975.0 950.8 975.7 945.8 976.4 940.9C977.0 936.0 977.4 930.9 977.9 925.9C978.3 920.8 978.6 915.7 979.0 910.7C979.3 905.6 979.6 900.5 979.9 895.4C980.2 890.3 980.4 885.3 980.6 880.2C980.9 875.1 981.1 870.0 981.2 864.9C981.4 859.8 981.6 854.7 981.7 849.6C981.8 844.5 981.9 839.4 982.0 834.3C982.1 829.2 982.2 824.1 982.2 819.0C982.3 813.9 982.3 808.8 982.3 803.7C982.4 798.5 982.4 793.4 982.3 788.3C982.3 783.2 982.3 778.1 982.3 773.0C982.2 767.9 982.2 762.7 982.1 757.6C982.1 752.5 982.0 747.4 981.9 742.3C981.8 737.2 981.8 732.1 981.7 727.0C981.6 721.8 981.5 716.7 981.4 711.6C981.3 706.5 981.2 701.4 981.1 696.3C980.9 691.2 980.8 686.1 980.7 681.0C980.6 675.9 980.5 670.8 980.4 665.7C980.3 660.6 980.2 655.5 980.1 650.4C980.0 645.3 979.9 640.3 979.8 635.2C979.7 630.1 979.6 625.0 979.5 620.0C979.4 614.9 979.3 609.8 979.3 604.8C979.2 599.7 979.1 594.6 979.1 589.6C979.0 584.5 979.0 579.5 979.0 574.5C979.0 569.4 979.0 564.4 979.0 559.4C979.0 554.3 979.0 549.3 979.0 544.3C979.1 539.3 979.1 534.3 979.2 529.3C979.2 524.2 979.3 519.2 979.4 514.2C979.4 509.2 979.5 504.2 979.6 499.2C979.7 494.2 979.8 489.2 979.9 484.2C980.0 479.2 980.1 474.2 980.2 469.2C980.3 464.2 980.4 459.2 980.5 454.1C980.6 449.1 980.8 444.1 980.9 439.1C981.0 434.0 981.1 429.0 981.2 423.9C981.3 418.9 981.4 413.8 981.4 408.8C981.5 403.7 981.6 398.6 981.7 393.5C981.7 388.4 981.8 383.3 981.8 378.2C981.9 373.1 981.9 367.9 981.9 362.8C982.0 357.6 982.0 352.4 982.0 347.3C981.9 342.1 981.9 336.9 981.9 331.6C981.8 326.4 981.8 321.2 981.7 315.9C981.6 310.7 981.5 305.4 981.5 300.1C981.5 294.9 981.5 289.6 981.6 284.4C981.7 279.2 981.8 274.0 982.1 268.8C982.4 263.7 982.8 258.6 983.4 253.6C984.0 248.6 984.7 243.6 985.6 238.7C986.6 233.9 987.7 229.1 989.1 224.4C990.4 219.7 992.0 215.1 993.9 210.7C995.8 206.3 998.0 201.9 1000.4 197.8C1002.9 193.7 1005.7 189.7 1008.7 186.0C1011.8 182.3 1015.2 178.7 1018.9 175.5C1022.7 172.3 1026.7 169.3 1031.1 166.8C1035.5 164.1 1040.3 161.9 1045.2 160.0C1050.4 158.1 1056.1 157.1 1061.5 155.6" fill="none" stroke="#000" stroke-width="1.1"/>
<circle cx="1065.22" cy="155.84" r="3.7" fill="#fff" stroke="#000" stroke-width="1.5"/><path d="M1071.01 156.15L1083.25 149.98M1071.01 156.15L1080.80 156.66M1071.01 156.15L1082.55 163.36" stroke="#000" stroke-width="1.5" fill="none"/><path d="M1071.01 156.15L1077.28 153.17L1076.93 159.76Z" fill="#000"/>
<path d="M941.5 1002.5C946.7 1000.3 952.4 998.7 957.0 995.8C961.1 993.2 964.8 989.9 967.9 986.3C970.8 982.8 973.1 978.8 975.0 974.6C976.9 970.4 978.1 965.8 979.1 961.2C980.2 956.5 980.7 951.6 981.1 946.7C981.6 941.6 981.7 936.5 981.8 931.4C982.0 926.2 982.0 921.1 982.0 915.9C982.1 910.8 982.1 905.6 982.2 900.5C982.3 895.3 982.3 890.2 982.4 885.1C982.4 880.0 982.5 874.9 982.5 869.8C982.6 864.7 982.7 859.6 982.7 854.5C982.8 849.4 982.8 844.4 982.9 839.3C982.9 834.2 983.0 829.2 983.0 824.1C983.1 819.1 983.1 814.0 983.2 809.0C983.2 803.9 983.2 798.9 983.3 793.9C983.3 788.8 983.4 783.8 983.4 778.8C983.4 773.8 983.5 768.8 983.5 763.7C983.5 758.7 983.6 753.7 983.6 748.7C983.6 743.7 983.6 738.7 983.6 733.7C983.7 728.7 983.7 723.7 983.7 718.7C983.7 713.7 983.7 708.7 983.7 703.7C983.7 698.7 983.7 693.7 983.7 688.7C983.7 683.7 983.7 678.7 983.7 673.8C983.7 668.8 983.6 663.8 983.6 658.8C983.6 653.8 983.6 648.8 983.5 643.8C983.5 638.8 983.5 633.8 983.4 628.8C983.4 623.8 983.3 618.8 983.3 613.7C983.2 608.7 983.2 603.7 983.1 598.7C983.0 593.7 982.9 588.7 982.9 583.6C982.8 578.6 982.7 573.6 982.6 568.5C982.5 563.5 982.4 558.5 982.3 553.4C982.2 548.4 982.1 543.3 982.0 538.2C981.9 533.2 981.8 528.1 981.7 523.1C981.6 518.0 981.5 512.9 981.4 507.9C981.3 502.8 981.2 497.7 981.1 492.6C981.1 487.6 981.0 482.5 981.0 477.4C981.0 472.4 981.0 467.3 981.0 462.2C981.0 457.1 981.0 452.1 981.1 447.0C981.1 442.0 981.2 436.9 981.4 431.8C981.5 426.8 981.7 421.7 981.9 416.7C982.1 411.6 982.3 406.6 982.6 401.6C982.9 396.5 983.2 391.5 983.6 386.5C983.9 381.5 984.3 376.5 984.8 371.5C985.3 366.5 985.8 361.5 986.4 356.5C987.0 351.5 987.6 346.6 988.4 341.6C989.1 336.7 989.9 331.8 991.1 327.0C992.2 322.2 993.5 317.4 995.2 312.9C997.0 308.3 999.0 303.8 1001.4 299.6C1003.7 295.3 1006.5 291.1 1009.5 287.3C1012.6 283.4 1016.0 279.7 1019.7 276.3C1023.4 272.8 1027.5 269.6 1031.8 266.8C1036.2 263.9 1041.2 261.6 1045.9 259.0" fill="none" stroke="#000" stroke-width="1.1"/>
<circle cx="1049.55" cy="259.65" r="3.7" fill="#fff" stroke="#000" stroke-width="1.5"/><path d="M1055.26 260.66L1068.16 256.03M1055.26 260.66L1064.91 262.36M1055.26 260.66L1065.83 269.23" stroke="#000" stroke-width="1.5" fill="none"/><path d="M1055.26 260.66L1061.84 258.47L1060.70 264.97Z" fill="#000"/>
<path d="M941.5 1002.5C947.5 1001.3 954.2 1001.0 959.4 998.9C964.1 997.0 968.4 994.2 971.7 990.9C974.9 987.7 977.3 983.7 979.0 979.5C980.8 975.3 981.4 970.4 982.1 965.7C982.9 960.8 982.9 955.7 983.2 950.7C983.5 945.7 983.7 940.7 984.0 935.6C984.2 930.6 984.4 925.5 984.6 920.5C984.8 915.5 984.9 910.4 985.1 905.3C985.3 900.3 985.4 895.2 985.5 890.2C985.6 885.1 985.7 880.0 985.8 875.0C985.9 869.9 986.0 864.8 986.0 859.8C986.1 854.7 986.1 849.6 986.2 844.5C986.2 839.5 986.2 834.4 986.2 829.3C986.2 824.2 986.2 819.1 986.2 814.0C986.2 809.0 986.2 803.9 986.2 798.8C986.2 793.7 986.1 788.6 986.1 783.5C986.0 778.4 986.0 773.4 985.9 768.3C985.9 763.2 985.8 758.1 985.8 753.0C985.7 747.9 985.6 742.9 985.6 737.8C985.5 732.7 985.4 727.6 985.4 722.5C985.3 717.5 985.2 712.4 985.2 707.3C985.1 702.3 985.0 697.2 985.0 692.1C984.9 687.1 984.8 682.0 984.8 676.9C984.7 671.9 984.6 666.8 984.6 661.8C984.5 656.7 984.5 651.7 984.4 646.6C984.4 641.5 984.3 636.5 984.3 631.4C984.3 626.4 984.2 621.3 984.2 616.3C984.2 611.2 984.2 606.2 984.2 601.1C984.2 596.1 984.2 591.0 984.2 586.0C984.2 580.9 984.2 575.8 984.2 570.8C984.3 565.7 984.3 560.7 984.3 555.6C984.4 550.5 984.5 545.5 984.5 540.4C984.6 535.3 984.7 530.2 984.8 525.2C984.9 520.1 985.0 515.0 985.1 509.9C985.2 504.8 985.3 499.7 985.5 494.6C985.6 489.5 985.8 484.4 986.0 479.3C986.2 474.2 986.4 469.1 986.6 464.0C986.8 458.9 986.9 453.7 987.3 448.6C987.7 443.6 988.1 438.5 989.1 433.6C990.0 428.8 991.2 423.9 993.1 419.5C995.0 415.0 997.5 410.6 1000.4 406.7C1003.3 402.6 1006.8 398.9 1010.5 395.4C1014.3 391.9 1018.5 388.7 1022.9 385.8C1027.2 382.9 1032.0 380.3 1036.7 377.9C1041.5 375.6 1046.5 373.6 1051.4 371.9C1056.3 370.3 1061.3 368.9 1066.3 367.9C1071.1 366.9 1075.8 366.6 1080.6 365.9" fill="none" stroke="#000" stroke-width="1.1"/>
<circle cx="1084.26" cy="366.27" r="3.7" fill="#fff" stroke="#000" stroke-width="1.5"/><path d="M1090.04 366.78L1102.49 361.04M1090.04 366.78L1099.80 367.63M1090.04 366.78L1101.32 374.39" stroke="#000" stroke-width="1.5" fill="none"/><path d="M1090.04 366.78L1096.40 364.02L1095.83 370.60Z" fill="#000"/>
<path d="M941.5 1002.5C946.9 1000.3 953.2 998.9 957.6 995.8C961.7 993.0 964.9 989.2 967.5 985.1C970.0 981.1 971.5 976.4 972.9 971.8C974.3 967.0 974.9 961.9 975.7 957.0C976.6 952.0 977.2 946.9 977.8 941.8C978.4 936.8 979.0 931.7 979.6 926.7C980.1 921.6 980.6 916.5 981.1 911.5C981.5 906.4 981.9 901.3 982.3 896.2C982.7 891.1 983.0 886.1 983.3 881.0C983.6 875.9 983.8 870.8 984.0 865.7C984.2 860.6 984.4 855.5 984.5 850.4C984.7 845.3 984.8 840.2 984.9 835.1C985.0 830.0 985.0 824.8 985.0 819.7C985.0 814.6 985.0 809.5 985.0 804.3C984.9 799.2 984.9 794.1 984.8 788.9C984.7 783.8 984.6 778.7 984.5 773.5C984.3 768.4 984.2 763.2 984.0 758.1C983.8 752.9 983.6 747.8 983.4 742.6C983.2 737.4 983.0 732.3 982.8 727.1C982.5 721.9 982.3 716.8 982.0 711.6C981.8 706.4 981.5 701.2 981.2 696.1C980.9 690.9 980.6 685.7 980.4 680.5C980.1 675.3 979.8 670.1 979.6 664.9C979.4 659.8 979.2 654.6 979.0 649.4C978.9 644.3 978.7 639.1 978.7 633.9C978.6 628.8 978.6 623.7 978.8 618.5C978.9 613.4 979.0 608.3 979.3 603.2C979.6 598.1 979.9 593.1 980.4 588.0C980.9 583.0 981.5 577.9 982.2 572.9C983.0 567.9 983.8 563.0 984.9 558.0C985.9 553.1 987.0 548.1 988.4 543.3C989.7 538.4 991.2 533.5 992.8 528.7C994.5 523.9 996.3 519.1 998.4 514.4C1000.5 509.7 1002.8 505.0 1005.4 500.7C1008.0 496.3 1010.9 492.0 1014.2 488.2C1017.6 484.4 1021.3 480.8 1025.4 477.8C1029.6 474.7 1034.7 472.6 1039.3 470.0" fill="none" stroke="#000" stroke-width="1.1"/>
<path d="M1046.95 471.64L1053.80 473.10" stroke="#000" stroke-width="1"/><path d="M1051.56 466.80L1049.19 477.95" stroke="#000" stroke-width="2.7"/><circle cx="1043.04" cy="470.81" r="3.8" fill="#fff" stroke="#000" stroke-width="1.4"/>
<path d="M941.5 1002.5C946.1 1001.7 950.6 1001.0 955.4 1000.0C960.6 998.8 966.7 997.9 971.7 995.9C976.6 994.0 981.9 992.0 985.3 988.6C988.4 985.4 990.4 981.0 991.6 976.7C992.9 972.0 992.4 966.6 992.5 961.5C992.5 956.3 992.0 950.9 991.9 945.7C991.8 940.5 991.7 935.3 991.6 930.1C991.6 925.0 991.6 919.9 991.6 914.8C991.6 909.8 991.6 904.7 991.7 899.7C991.7 894.7 991.7 889.7 991.8 884.7C991.8 879.7 991.8 874.7 991.8 869.7C991.8 864.7 991.8 859.7 991.7 854.7C991.6 849.7 991.5 844.6 991.3 839.6C991.1 834.5 990.9 829.4 990.7 824.4C990.5 819.2 990.2 814.1 989.9 809.0C989.7 803.9 989.4 798.8 989.1 793.6C988.8 788.5 988.5 783.3 988.3 778.2C988.0 773.0 987.7 767.9 987.5 762.7C987.3 757.6 987.1 752.5 987.0 747.3C986.8 742.2 986.7 737.1 986.6 731.9C986.6 726.8 986.6 721.7 986.7 716.6C986.8 711.5 986.9 706.5 987.1 701.4C987.3 696.3 987.6 691.3 988.1 686.3C988.5 681.3 989.0 676.3 989.6 671.3C990.2 666.4 990.9 661.4 991.8 656.5C992.6 651.7 993.6 646.8 994.7 642.0C995.8 637.1 997.0 632.3 998.4 627.6C999.9 622.9 1001.4 618.2 1003.5 613.8C1005.7 609.5 1008.1 605.2 1011.3 601.7C1014.5 598.0 1018.5 594.6 1023.1 592.2C1028.1 589.4 1034.4 587.9 1040.4 586.4C1046.6 584.8 1054.6 585.1 1059.6 582.8C1063.5 581.1 1065.7 578.0 1068.7 575.6" fill="none" stroke="#000" stroke-width="1.1"/>
<circle cx="1072.36" cy="576.12" r="3.7" fill="#fff" stroke="#000" stroke-width="1.5"/><path d="M1078.10 576.92L1090.83 571.85M1078.10 576.92L1087.81 578.29M1078.10 576.92L1088.97 585.12" stroke="#000" stroke-width="1.5" fill="none"/><path d="M1078.10 576.92L1084.60 574.51L1083.68 581.04Z" fill="#000"/>
<path d="M941.5 1002.5C944.7 998.7 948.4 995.2 951.2 991.2C953.9 987.2 956.1 982.8 958.1 978.4C960.1 974.0 961.6 969.3 962.9 964.5C964.3 959.8 965.4 954.9 966.4 949.9C967.5 945.0 968.3 939.9 969.0 934.9C969.8 929.8 970.4 924.7 970.8 919.5C971.2 914.4 971.5 909.3 971.7 904.1C971.9 899.0 971.9 893.9 971.8 888.8C971.7 883.7 971.4 878.7 971.1 873.7C970.7 868.7 970.2 863.8 969.6 858.9C969.1 854.0 968.5 849.1 967.8 844.3C967.2 839.4 966.5 834.6 965.8 829.8C965.2 825.0 964.5 820.1 964.0 815.3C963.4 810.4 962.8 805.6 962.4 800.7C962.1 795.8 961.7 790.8 961.6 785.9C961.4 780.9 961.4 775.8 961.6 770.8C961.8 765.6 962.2 760.5 962.8 755.3C963.5 750.1 964.3 744.8 965.4 739.6C966.5 734.4 967.8 729.2 969.4 724.2C971.0 719.3 972.9 714.4 975.1 709.8C977.2 705.3 979.6 700.8 982.4 696.8C985.1 692.8 988.1 689.1 991.5 685.8C994.8 682.6 998.5 679.7 1002.4 677.3C1006.4 674.8 1010.7 672.8 1015.0 671.0C1019.4 669.2 1024.1 667.8 1028.8 666.5C1033.6 665.1 1038.5 664.1 1043.4 663.1C1048.4 662.1 1053.4 661.3 1058.4 660.5C1063.4 659.7 1068.5 658.9 1073.5 658.1C1078.5 657.4 1083.5 656.6 1088.6 655.9C1093.6 655.2 1098.6 654.5 1103.6 653.8C1108.7 653.2 1113.7 652.5 1118.7 651.9C1123.7 651.3 1128.8 650.7 1133.8 650.1C1138.8 649.6 1143.8 649.0 1148.8 648.5C1153.9 648.0 1158.9 647.5 1163.9 647.0C1168.9 646.5 1173.9 646.1 1179.0 645.7C1184.0 645.3 1189.0 644.9 1194.0 644.5C1199.0 644.1 1204.0 643.8 1209.0 643.5C1214.1 643.1 1219.1 642.8 1224.1 642.6C1229.1 642.3 1234.1 642.1 1239.1 641.8C1244.1 641.6 1249.1 641.4 1254.1 641.2C1259.2 641.1 1264.2 640.9 1269.2 640.8C1274.2 640.7 1279.2 640.6 1284.2 640.5C1289.2 640.4 1294.2 640.4 1299.2 640.3C1304.2 640.3 1309.2 640.3 1314.2 640.3C1319.2 640.4 1324.2 640.4 1329.2 640.5C1334.2 640.5 1339.2 640.6 1344.2 640.7C1349.2 640.9 1354.2 641.0 1359.1 641.2C1364.1 641.3 1369.1 641.5 1374.1 641.7C1379.1 642.0 1384.1 642.2 1389.1 642.5C1394.1 642.7 1399.0 643.0 1404.0 643.3C1409.0 643.6 1414.0 644.0 1419.0 644.3C1423.9 644.7 1428.9 645.1 1433.9 645.5C1438.9 645.9 1443.8 646.3 1448.8 646.8C1453.8 647.3 1458.7 647.8 1463.7 648.3C1468.7 648.9 1473.6 649.5 1478.5 650.1C1483.5 650.7 1488.4 651.4 1493.4 652.1C1498.3 652.8 1503.2 653.6 1508.1 654.4C1513.0 655.2 1518.0 656.0 1522.9 656.9C1527.7 657.8 1532.6 658.8 1537.5 659.8C1542.4 660.8 1547.3 661.9 1552.1 663.1C1557.0 664.2 1561.8 665.4 1566.6 666.7C1571.4 667.9 1576.3 669.3 1581.1 670.7C1585.9 672.1 1590.6 673.5 1595.4 675.1C1600.2 676.6 1604.9 678.3 1609.7 680.0C1614.4 681.7 1619.1 683.4 1623.8 685.3C1628.5 687.1 1633.2 689.1 1637.9 691.1C1642.5 693.1 1647.2 695.2 1651.8 697.4C1656.4 699.6 1661.0 701.8 1665.5 704.2C1670.0 706.5 1674.5 708.9 1679.0 711.5C1683.4 714.0 1687.8 716.5 1692.1 719.2C1696.5 721.9 1700.8 724.6 1705.0 727.4C1709.2 730.3 1713.4 733.2 1717.5 736.2C1721.6 739.1 1725.7 742.2 1729.6 745.3C1733.6 748.5 1737.5 751.7 1741.3 755.0C1745.1 758.3 1748.8 761.7 1752.5 765.1C1756.1 768.6 1759.7 772.1 1763.1 775.8C1766.6 779.4 1769.9 783.1 1773.2 786.8C1776.4 790.6 1779.6 794.4 1782.6 798.4C1785.6 802.3 1788.6 806.3 1791.3 810.4C1794.1 814.4 1796.8 818.6 1799.3 822.8C1801.7 827.0 1804.1 831.3 1806.3 835.7C1808.4 840.1 1810.5 844.5 1812.3 849.0C1814.1 853.5 1815.7 858.1 1817.2 862.8C1818.6 867.4 1819.9 872.1 1820.9 876.9C1821.9 881.7 1822.7 886.6 1823.4 891.5C1824.0 896.4 1824.4 901.3 1824.7 906.3C1825.1 911.3 1825.2 916.4 1825.2 921.5C1825.3 926.6 1825.2 931.7 1825.1 936.8C1825.0 941.9 1824.7 947.1 1824.5 952.2C1824.3 957.4 1823.9 962.6 1823.7 967.7C1823.4 972.9 1823.1 978.1 1822.8 983.2C1822.6 988.3 1822.4 993.5 1822.2 998.6C1822.0 1003.7 1821.9 1008.8 1821.8 1013.8C1821.7 1018.9 1821.6 1024.0 1821.5 1029.0C1821.5 1034.1 1821.5 1039.1 1821.5 1044.1C1821.5 1049.2 1821.5 1054.2 1821.6 1059.2C1821.6 1064.2 1821.7 1069.2 1821.8 1074.2C1821.8 1079.1 1821.9 1084.1 1822.0 1089.1C1822.1 1094.1 1822.3 1099.0 1822.4 1104.0C1822.5 1109.0 1822.6 1113.9 1822.7 1118.9C1822.9 1123.9 1823.0 1128.8 1823.1 1133.8C1823.2 1138.7 1823.4 1143.7 1823.5 1148.6C1823.6 1153.6 1823.7 1158.6 1823.8 1163.5C1823.8 1168.5 1823.9 1173.5 1824.0 1178.4C1824.0 1183.4 1824.1 1188.4 1824.1 1193.4C1824.1 1198.4 1824.1 1203.4 1824.0 1208.4C1824.0 1213.4 1823.9 1218.4 1823.9 1223.4C1823.8 1228.4 1823.6 1233.5 1823.5 1238.5C1823.4 1243.5 1823.2 1248.6 1823.0 1253.6C1822.9 1258.7 1822.7 1263.8 1822.5 1268.8C1822.4 1273.9 1822.2 1279.0 1822.0 1284.0C1821.9 1289.1 1821.8 1294.1 1821.6 1299.2C1821.5 1304.3 1821.5 1309.3 1821.4 1314.4C1821.4 1319.4 1821.4 1324.5 1821.4 1329.5C1821.4 1334.6 1821.5 1339.6 1821.7 1344.6C1821.8 1349.7 1822.0 1354.7 1822.3 1359.7C1822.6 1364.7 1822.9 1369.7 1823.4 1374.6C1823.8 1379.6 1824.3 1384.6 1824.9 1389.5C1825.5 1394.4 1826.2 1399.3 1827.0 1404.2C1827.8 1409.1 1828.7 1414.0 1829.7 1418.9C1830.8 1423.7 1831.9 1428.6 1833.2 1433.4C1834.4 1438.2 1835.8 1442.9 1837.3 1447.7C1838.9 1452.4 1840.5 1457.2 1842.3 1461.8C1844.1 1466.5 1846.2 1471.1 1848.2 1475.8" fill="none" stroke="#000" stroke-width="1.1"/>
<circle cx="1851.04" cy="1478.16" r="3.7" fill="#fff" stroke="#000" stroke-width="1.5"/><path d="M1855.48 1481.89L1868.97 1484.33M1855.48 1481.89L1862.99 1488.19M1855.48 1481.89L1860.35 1494.59" stroke="#000" stroke-width="1.5" fill="none"/><path d="M1855.48 1481.89L1862.27 1483.28L1858.03 1488.34Z" fill="#000"/>
<path d="M941.5 1002.5C945.1 999.0 949.1 995.8 952.3 992.0C955.4 988.1 957.9 983.9 960.1 979.5C962.4 975.1 964.1 970.4 965.7 965.6C967.2 960.8 968.3 955.7 969.3 950.7C970.3 945.6 971.0 940.4 971.7 935.2C972.4 930.0 972.8 924.8 973.3 919.6C973.7 914.5 974.2 909.4 974.5 904.3C974.8 899.3 975.0 894.2 975.1 889.2C975.1 884.3 975.1 879.4 974.9 874.5C974.7 869.6 974.3 864.8 973.7 859.9C973.1 855.2 972.3 850.4 971.4 845.7C970.4 840.9 969.2 836.2 968.2 831.3C967.3 826.4 966.3 821.3 965.6 816.2C964.9 811.1 964.4 805.8 964.1 800.5C963.7 795.2 963.6 789.8 963.7 784.4C963.8 779.1 964.1 773.8 964.6 768.5C965.2 763.3 966.0 758.1 967.1 753.1C968.2 748.1 969.5 743.2 971.2 738.5C972.9 734.0 974.8 729.5 977.1 725.3C979.4 721.2 982.0 717.3 985.0 713.8C988.0 710.3 991.3 707.1 995.0 704.2C998.6 701.4 1002.6 698.9 1006.8 696.6C1011.0 694.4 1015.5 692.5 1020.1 690.8C1024.8 689.1 1029.7 687.7 1034.6 686.5C1039.7 685.2 1044.9 684.3 1050.1 683.5C1055.4 682.7 1060.7 682.1 1066.1 681.6C1071.5 681.2 1077.0 680.9 1082.4 680.7C1087.8 680.5 1093.2 680.5 1098.6 680.5C1103.9 680.6 1109.2 680.7 1114.5 680.9C1119.7 681.1 1124.8 681.3 1129.9 681.7C1134.9 682.0 1139.9 682.3 1144.9 682.8C1149.8 683.2 1154.7 683.6 1159.6 684.1C1164.5 684.6 1169.3 685.2 1174.1 685.7C1178.9 686.3 1183.7 686.9 1188.5 687.5C1193.3 688.1 1198.1 688.7 1202.9 689.3C1207.8 689.9 1212.6 690.5 1217.4 691.1C1222.3 691.7 1227.2 692.3 1232.1 692.9C1237.0 693.5 1242.0 694.1 1247.0 694.6C1252.0 695.1 1257.1 695.6 1262.3 696.1C1267.4 696.5 1272.7 697.0 1277.9 697.4C1283.1 697.9 1288.4 698.3 1293.7 698.8C1298.9 699.3 1304.2 699.9 1309.4 700.6C1314.6 701.2 1319.8 702.0 1324.9 702.9C1329.9 703.8 1335.0 704.7 1339.9 706.0C1344.7 707.2 1349.5 708.5 1354.2 710.1C1358.7 711.7 1363.1 713.8 1367.5 715.6" fill="none" stroke="#000" stroke-width="1.1"/>
<circle cx="1371.16" cy="716.39" r="3.7" fill="#fff" stroke="#000" stroke-width="1.5"/><path d="M1376.83 717.60L1389.89 713.42M1376.83 717.60L1386.42 719.63M1376.83 717.60L1387.10 726.53" stroke="#000" stroke-width="1.5" fill="none"/><path d="M1376.83 717.60L1383.48 715.64L1382.11 722.09Z" fill="#000"/>
<path d="M941.5 1002.5C945.2 999.1 949.2 996.1 952.5 992.4C955.7 988.7 958.5 984.6 960.9 980.4C963.4 976.2 965.4 971.6 967.2 967.0C968.9 962.3 970.3 957.5 971.5 952.5C972.7 947.6 973.5 942.5 974.2 937.5C974.9 932.4 975.3 927.3 975.7 922.2C976.0 917.1 976.1 912.0 976.1 907.0C976.1 901.9 976.0 896.9 975.8 891.9C975.6 886.9 975.3 881.9 975.0 877.0C974.7 872.0 974.3 867.0 973.9 862.1C973.5 857.1 973.1 852.1 972.8 847.1C972.4 842.2 972.0 837.2 971.8 832.2C971.5 827.1 971.2 822.1 971.1 817.1C971.0 812.0 971.0 807.0 971.1 801.9C971.3 796.7 971.5 791.6 972.0 786.5C972.5 781.3 973.1 776.1 974.1 771.2C975.1 766.3 976.3 761.4 978.1 757.0C979.9 752.7 982.0 748.4 984.8 744.8C987.5 741.3 991.0 738.1 994.7 735.6C998.6 733.0 1003.2 731.2 1007.8 729.5C1012.6 727.9 1017.7 726.8 1022.8 725.7C1028.0 724.7 1033.4 724.0 1038.6 723.3C1043.8 722.5 1049.0 722.0 1054.2 721.4C1059.4 720.9 1064.5 720.5 1069.6 720.1C1074.7 719.8 1079.8 719.5 1084.9 719.3C1089.9 719.1 1094.9 718.9 1099.9 718.8C1104.9 718.7 1109.9 718.7 1114.8 718.7C1119.8 718.6 1124.7 718.7 1129.7 718.8C1134.6 718.8 1139.5 718.9 1144.4 719.0C1149.4 719.2 1154.3 719.3 1159.2 719.4C1164.1 719.6 1169.0 719.7 1174.0 719.9C1178.9 720.1 1183.8 720.2 1188.8 720.3C1193.7 720.5 1198.7 720.6 1203.7 720.7C1208.6 720.8 1213.6 720.9 1218.7 721.0C1223.7 721.0 1228.7 721.0 1233.8 721.0C1238.9 721.0 1244.0 720.9 1249.1 720.9C1254.2 721.0 1259.3 721.0 1264.5 721.2C1269.6 721.4 1274.7 721.6 1279.9 722.1C1285.0 722.6 1290.1 723.2 1295.2 724.2C1300.3 725.1 1305.5 726.2 1310.5 727.6C1315.3 729.1 1320.3 730.7 1324.8 732.8C1329.2 734.9 1333.5 737.2 1337.2 740.1C1340.7 742.9 1344.0 746.1 1346.5 749.8C1348.9 753.4 1350.6 757.7 1351.7 762.0C1352.9 766.5 1353.1 771.5 1353.3 776.5C1353.5 781.6 1353.1 787.0 1352.8 792.4C1352.6 797.8 1352.0 803.4 1351.9 808.8C1351.7 814.2 1351.5 819.7 1352.0 825.0C1352.4 830.2 1353.2 835.3 1354.5 840.2C1355.7 845.0 1357.4 849.7 1359.4 854.1C1361.4 858.5 1363.9 862.7 1366.6 866.6C1369.3 870.5 1372.4 874.2 1375.8 877.6C1379.1 881.0 1382.8 884.1 1386.7 886.9C1390.6 889.7 1394.8 892.2 1399.1 894.4C1403.4 896.6 1408.1 898.5 1412.8 900.2C1417.5 901.8 1422.4 903.2 1427.4 904.3C1432.4 905.4 1437.6 906.3 1442.8 906.9C1448.0 907.6 1453.3 908.0 1458.5 908.2C1463.8 908.5 1469.1 908.5 1474.4 908.3C1479.7 908.2 1485.0 907.8 1490.2 907.3C1495.4 906.8 1500.6 906.2 1505.6 905.4C1510.6 904.6 1515.5 903.7 1520.3 902.6C1525.0 901.6 1529.5 900.4 1534.0 899.2C1538.5 898.0 1542.7 896.7 1547.1 895.6C1551.6 894.5 1556.0 893.4 1560.7 892.8C1565.6 892.2 1570.6 891.8 1575.8 892.0C1581.6 892.1 1587.8 893.4 1593.8 894.1" fill="none" stroke="#000" stroke-width="1.1"/>
<circle cx="1597.52" cy="893.86" r="3.7" fill="#fff" stroke="#000" stroke-width="1.5"/><path d="M1603.31 893.55L1614.84 886.14M1603.31 893.55L1613.10 893.04M1603.31 893.55L1615.54 899.52" stroke="#000" stroke-width="1.5" fill="none"/><path d="M1603.31 893.55L1609.23 889.94L1609.58 896.53Z" fill="#000"/>
<path d="M941.5 1002.5C946.6 1000.1 952.4 998.4 956.9 995.4C961.1 992.5 964.9 989.0 967.9 985.2C970.9 981.5 973.3 977.2 975.3 972.8C977.2 968.3 978.6 963.5 979.7 958.7C980.8 953.9 981.5 948.8 982.0 943.8C982.5 938.6 982.6 933.4 982.8 928.2C982.9 922.9 982.8 917.6 982.8 912.2C982.8 906.8 982.7 901.3 982.8 895.9C982.9 890.4 983.0 885.0 983.5 879.5C983.9 874.1 984.5 868.6 985.3 863.2C986.2 857.9 987.3 852.6 988.7 847.5C990.2 842.4 991.8 837.4 993.9 832.7C995.9 828.1 998.2 823.6 1000.9 819.5C1003.6 815.5 1006.7 811.6 1010.2 808.2C1013.6 804.9 1017.5 801.8 1021.7 799.4C1026.0 796.9 1030.8 794.9 1035.8 793.5C1041.1 792.0 1047.0 791.9 1052.6 791.0" fill="none" stroke="#000" stroke-width="1.1"/>
<path d="M1060.41 791.43L1067.40 791.80" stroke="#000" stroke-width="1"/><path d="M1064.20 785.92L1063.61 797.31" stroke="#000" stroke-width="2.7"/><circle cx="1056.42" cy="791.22" r="3.8" fill="#fff" stroke="#000" stroke-width="1.4"/>
<path d="M941.5 1002.5C947.1 1000.6 953.2 999.4 958.2 996.8C962.8 994.5 967.0 991.5 970.6 988.1C974.1 984.8 976.9 980.9 979.4 976.8C981.8 972.7 983.6 968.1 985.1 963.4C986.7 958.6 987.7 953.6 988.5 948.5C989.4 943.2 989.8 937.8 990.2 932.4C990.6 926.9 990.7 921.3 990.9 915.7C991.0 910.1 991.0 904.5 991.1 898.9C991.3 893.4 991.3 887.9 991.6 882.5C992.0 877.2 992.3 871.9 993.0 866.8C993.8 861.8 994.6 856.9 996.0 852.1C997.4 847.4 999.1 842.8 1001.3 838.4C1003.5 833.9 1006.3 829.6 1009.4 825.6C1012.6 821.6 1016.4 817.7 1020.4 814.3C1024.4 810.8 1028.9 807.5 1033.6 804.8C1038.2 802.1 1043.4 800.3 1048.3 798.0" fill="none" stroke="#000" stroke-width="1.1"/>
<circle cx="1051.80" cy="796.87" r="3.7" fill="#fff" stroke="#000" stroke-width="1.5"/><path d="M1057.32 795.08L1066.54 784.93M1057.32 795.08L1066.64 792.05M1057.32 795.08L1070.68 797.68" stroke="#000" stroke-width="1.5" fill="none"/><path d="M1057.32 795.08L1062.10 790.05L1064.14 796.33Z" fill="#000"/>
<path d="M941.5 1002.5C947.2 1000.7 953.7 999.8 958.7 997.1C963.4 994.6 967.4 991.0 970.9 987.2C974.4 983.3 977.0 978.6 979.5 974.0C982.0 969.2 983.8 963.9 985.7 958.8C987.7 953.6 989.2 948.1 991.1 942.9C993.0 937.7 994.7 932.4 997.0 927.5C999.2 922.8 1001.5 918.0 1004.7 913.9C1007.7 909.9 1011.3 906.2 1015.5 903.4C1020.0 900.5 1025.8 899.3 1031.0 897.2" fill="none" stroke="#000" stroke-width="1.1"/>
<path d="M1038.80 897.20L1045.80 897.20" stroke="#000" stroke-width="1"/><path d="M1042.30 891.50L1042.30 902.90" stroke="#000" stroke-width="2.7"/><circle cx="1034.80" cy="897.20" r="3.8" fill="#fff" stroke="#000" stroke-width="1.4"/>
<path d="M941.5 1002.5L1019.1 1002.4" fill="none" stroke="#000" stroke-width="1.1"/>
<path d="M1026.90 1002.40L1033.90 1002.40" stroke="#000" stroke-width="1"/><path d="M1030.40 996.70L1030.40 1008.10" stroke="#000" stroke-width="2.7"/><circle cx="1022.90" cy="1002.40" r="3.8" fill="#fff" stroke="#000" stroke-width="1.4"/>
<path d="M941.5 1002.5C947.9 1003.2 954.9 1002.8 960.6 1004.5C965.8 1006.0 970.7 1008.5 974.7 1011.6C978.5 1014.6 981.7 1018.6 984.2 1022.7C986.8 1027.0 988.6 1031.9 989.9 1036.8C991.3 1041.9 992.0 1047.4 992.3 1052.8C992.7 1058.3 992.5 1064.0 992.1 1069.6C991.8 1075.2 991.0 1080.8 990.0 1086.2C989.2 1091.5 987.9 1096.5 986.8 1101.6" fill="none" stroke="#000" stroke-width="1.1"/>
<circle cx="990.30" cy="1102.73" r="3.7" fill="#fff" stroke="#000" stroke-width="1.5"/><path d="M995.82 1104.52L1009.24 1101.73M995.82 1104.52L1005.14 1107.55M995.82 1104.52L1005.10 1114.48" stroke="#000" stroke-width="1.5" fill="none"/><path d="M995.82 1104.52L1002.64 1103.27L1000.60 1109.55Z" fill="#000"/>
<path d="M941.5 1002.5C946.4 1005.0 952.0 1007.0 956.3 1010.0C960.4 1012.9 964.0 1016.3 967.0 1020.0C970.0 1023.6 972.3 1027.7 974.3 1031.9C976.3 1036.2 977.7 1040.9 978.9 1045.6C980.1 1050.4 980.9 1055.4 981.5 1060.4C982.2 1065.6 982.5 1070.9 982.8 1076.2C983.2 1081.6 983.3 1087.1 983.6 1092.5C983.8 1098.0 984.0 1103.5 984.4 1108.9C984.8 1114.3 985.3 1119.8 986.1 1125.1C986.9 1130.3 987.8 1135.6 989.1 1140.7C990.4 1145.7 991.8 1150.7 993.7 1155.5C995.5 1160.2 997.5 1164.8 1000.0 1169.2C1002.4 1173.6 1005.1 1177.9 1008.2 1181.8C1011.3 1185.8 1014.7 1189.5 1018.5 1192.9C1022.3 1196.4 1026.5 1199.6 1031.0 1202.5C1035.7 1205.4 1041.0 1207.6 1046.0 1210.1" fill="none" stroke="#000" stroke-width="1.1"/>
<circle cx="1049.66" cy="1210.62" r="3.7" fill="#fff" stroke="#000" stroke-width="1.5"/><path d="M1055.40 1211.42L1068.13 1206.35M1055.40 1211.42L1065.11 1212.79M1055.40 1211.42L1066.27 1219.62" stroke="#000" stroke-width="1.5" fill="none"/><path d="M1055.40 1211.42L1061.90 1209.01L1060.98 1215.54Z" fill="#000"/>
<path d="M941.5 1002.5C945.9 1005.5 950.8 1008.0 954.6 1011.4C958.3 1014.6 961.6 1018.3 964.3 1022.2C967.0 1026.0 969.2 1030.2 971.1 1034.6C973.0 1038.9 974.3 1043.6 975.5 1048.3C976.6 1053.0 977.3 1058.0 977.9 1062.9C978.5 1068.0 978.8 1073.1 979.0 1078.3C979.2 1083.5 979.1 1088.7 979.1 1093.9C979.1 1099.2 978.9 1104.5 978.8 1109.7C978.7 1114.9 978.5 1120.2 978.3 1125.4C978.2 1130.6 978.0 1135.8 977.9 1141.0C977.8 1146.2 977.7 1151.4 977.7 1156.5C977.7 1161.7 977.7 1166.8 977.9 1171.9C978.0 1177.0 978.3 1182.1 978.6 1187.1C979.0 1192.2 979.5 1197.2 980.1 1202.2C980.7 1207.1 981.5 1212.1 982.5 1217.0C983.5 1221.9 984.6 1226.7 986.0 1231.6C987.4 1236.4 988.9 1241.2 990.7 1245.9C992.6 1250.6 994.6 1255.2 996.9 1259.7C999.2 1264.3 1001.7 1268.7 1004.4 1272.9C1007.1 1277.1 1010.1 1281.3 1013.3 1285.1C1016.5 1288.9 1019.9 1292.6 1023.6 1296.0C1027.3 1299.4 1031.2 1302.5 1035.3 1305.3C1039.4 1308.1 1043.8 1310.7 1048.4 1312.8C1053.0 1314.9 1058.1 1316.3 1062.9 1318.1" fill="none" stroke="#000" stroke-width="1.1"/>
<path d="M1070.70 1318.36L1077.70 1318.60" stroke="#000" stroke-width="1"/><path d="M1074.40 1312.78L1074.00 1324.17" stroke="#000" stroke-width="2.7"/><circle cx="1066.71" cy="1318.22" r="3.8" fill="#fff" stroke="#000" stroke-width="1.4"/>
<path d="M941.5 1002.5C945.3 1006.0 949.5 1009.2 952.8 1013.1C955.9 1016.8 958.6 1020.9 960.9 1025.2C963.1 1029.4 964.9 1034.0 966.4 1038.6C967.9 1043.2 968.9 1048.1 969.7 1053.0C970.6 1057.9 971.1 1063.0 971.5 1068.0C971.8 1073.1 972.0 1078.3 972.1 1083.5C972.2 1088.7 972.1 1093.9 972.1 1099.1C972.0 1104.2 971.9 1109.3 971.9 1114.5C971.8 1119.6 971.7 1124.6 971.6 1129.7C971.6 1134.7 971.5 1139.7 971.4 1144.8C971.3 1149.8 971.2 1154.7 971.1 1159.7C971.0 1164.7 970.9 1169.6 970.9 1174.6C970.8 1179.5 970.7 1184.5 970.7 1189.4C970.6 1194.3 970.6 1199.3 970.5 1204.2C970.5 1209.2 970.5 1214.1 970.5 1219.0C970.5 1224.0 970.5 1228.9 970.6 1233.9C970.6 1238.9 970.7 1243.8 970.8 1248.8C970.9 1253.9 971.0 1258.9 971.1 1263.9C971.3 1269.0 971.5 1274.0 971.7 1279.1C971.9 1284.2 972.2 1289.4 972.5 1294.5C972.7 1299.7 973.1 1304.9 973.5 1310.1C973.9 1315.3 974.1 1320.7 974.9 1325.8C975.6 1330.9 976.3 1336.0 978.0 1340.6C979.6 1345.1 981.8 1349.3 984.5 1353.1C987.2 1356.8 990.6 1360.1 994.1 1363.1C997.7 1366.1 1001.9 1368.6 1006.0 1370.9C1010.3 1373.2 1014.8 1375.1 1019.4 1376.8C1024.0 1378.6 1028.7 1379.9 1033.5 1381.1C1038.3 1382.4 1043.2 1383.3 1048.1 1384.1C1053.1 1384.8 1058.1 1385.4 1063.1 1385.8C1068.2 1386.3 1073.3 1386.5 1078.5 1386.7C1083.6 1386.8 1088.8 1386.8 1094.0 1386.8C1099.2 1386.8 1104.4 1386.6 1109.5 1386.5C1114.7 1386.3 1119.9 1386.1 1125.1 1385.9C1130.2 1385.7 1135.4 1385.5 1140.5 1385.4C1145.5 1385.2 1150.6 1385.1 1155.6 1385.0C1160.6 1384.9 1165.6 1384.9 1170.5 1384.8C1175.5 1384.8 1180.4 1384.8 1185.3 1384.7C1190.2 1384.7 1195.1 1384.7 1200.0 1384.6C1204.9 1384.6 1209.8 1384.6 1214.7 1384.5C1219.6 1384.4 1224.5 1384.3 1229.5 1384.2C1234.4 1384.1 1239.4 1383.9 1244.4 1383.7C1249.4 1383.5 1254.4 1383.2 1259.4 1382.9C1264.5 1382.5 1269.7 1382.2 1274.8 1381.7C1280.0 1381.2 1285.2 1380.7 1290.4 1380.0C1295.6 1379.3 1300.8 1378.5 1305.8 1377.3C1310.7 1376.0 1315.6 1374.7 1320.0 1372.7C1324.4 1370.7 1328.7 1368.3 1332.3 1365.4C1336.0 1362.5 1339.3 1358.8 1342.1 1355.0C1345.0 1351.1 1347.4 1346.7 1349.6 1342.2C1351.7 1337.7 1353.5 1332.8 1355.0 1327.9C1356.6 1323.0 1357.8 1317.9 1358.8 1312.9C1359.9 1307.9 1360.7 1302.8 1361.3 1297.7C1361.9 1292.6 1362.4 1287.5 1362.7 1282.4C1363.0 1277.4 1363.2 1272.3 1363.3 1267.2C1363.4 1262.1 1363.4 1257.0 1363.4 1251.9C1363.4 1246.9 1363.3 1241.8 1363.2 1236.8C1363.1 1231.8 1363.0 1226.7 1362.8 1221.7C1362.7 1216.7 1362.5 1211.8 1362.3 1206.8C1362.1 1201.8 1361.9 1196.9 1361.7 1191.9C1361.5 1186.9 1361.2 1182.0 1361.0 1177.1C1360.7 1172.1 1360.4 1167.2 1360.1 1162.2C1359.8 1157.3 1359.5 1152.3 1359.2 1147.4C1358.9 1142.4 1358.5 1137.5 1358.2 1132.5C1357.9 1127.5 1357.5 1122.6 1357.2 1117.6C1356.8 1112.6 1356.4 1107.6 1356.1 1102.6C1355.7 1097.6 1355.3 1092.6 1355.0 1087.6C1354.6 1082.5 1354.3 1077.5 1353.9 1072.5C1353.6 1067.4 1353.3 1062.4 1353.0 1057.3C1352.6 1052.3 1352.3 1047.2 1352.1 1042.2C1351.8 1037.1 1351.5 1032.1 1351.3 1027.0C1351.1 1022.0 1350.9 1016.9 1350.7 1011.9C1350.5 1006.8 1350.4 1001.8 1350.3 996.7C1350.2 991.7 1350.1 986.7 1350.1 981.6C1350.1 976.6 1350.1 971.5 1350.2 966.5C1350.3 961.5 1350.4 956.5 1350.6 951.5C1350.7 946.5 1351.0 941.5 1351.3 936.5C1351.6 931.5 1351.9 926.5 1352.3 921.5C1352.7 916.6 1353.2 911.6 1353.7 906.7C1354.3 901.7 1354.9 896.8 1355.6 891.9C1356.3 887.0 1357.1 882.1 1357.9 877.2C1358.8 872.3 1359.6 867.4 1360.7 862.6C1361.8 857.8 1362.7 852.9 1364.6 848.5C1366.5 844.1 1368.7 839.7 1372.0 836.3C1375.6 832.7 1381.2 830.6 1385.8 827.7" fill="none" stroke="#000" stroke-width="1.1"/>
<circle cx="1389.46" cy="827.18" r="3.7" fill="#fff" stroke="#000" stroke-width="1.5"/><path d="M1395.20 826.38L1406.04 817.99M1395.20 826.38L1404.91 825.01M1395.20 826.38L1407.91 831.25" stroke="#000" stroke-width="1.5" fill="none"/><path d="M1395.20 826.38L1400.78 822.26L1401.70 828.79Z" fill="#000"/>
<path d="M941.5 1002.5C945.6 1005.7 950.1 1008.4 953.7 1012.0C957.2 1015.4 960.1 1019.3 962.6 1023.4C965.2 1027.4 967.2 1031.8 968.9 1036.2C970.7 1040.7 972.0 1045.4 973.2 1050.2C974.5 1055.0 975.3 1059.9 976.1 1064.8C977.0 1069.8 977.5 1074.8 978.2 1079.8C978.8 1084.8 979.3 1089.8 979.8 1094.8C980.3 1099.8 980.7 1104.8 981.1 1109.8C981.5 1114.8 981.9 1119.8 982.2 1124.8C982.5 1129.8 982.8 1134.8 983.0 1139.8C983.3 1144.8 983.5 1149.8 983.7 1154.8C983.9 1159.8 984.0 1164.8 984.1 1169.8C984.3 1174.8 984.4 1179.8 984.5 1184.8C984.5 1189.9 984.6 1194.9 984.7 1199.9C984.7 1204.9 984.7 1209.9 984.8 1214.9C984.8 1220.0 984.8 1225.0 984.8 1230.0C984.8 1235.1 984.8 1240.1 984.8 1245.1C984.8 1250.2 984.8 1255.2 984.8 1260.3C984.9 1265.3 984.9 1270.4 984.9 1275.5C984.9 1280.5 984.9 1285.6 985.0 1290.7C985.0 1295.8 985.0 1300.8 985.1 1305.9C985.2 1311.0 985.3 1316.1 985.4 1321.2C985.5 1326.3 985.6 1331.5 985.8 1336.6C986.0 1341.7 986.2 1346.8 986.5 1351.9C986.8 1357.0 987.1 1362.1 987.7 1367.1C988.2 1372.1 988.8 1377.0 989.7 1381.9C990.6 1386.8 991.5 1391.6 992.8 1396.3C994.1 1401.0 995.5 1405.6 997.3 1410.0C999.0 1414.5 1001.0 1418.8 1003.4 1423.0C1005.7 1427.1 1008.4 1431.2 1011.4 1434.9C1014.4 1438.8 1017.8 1442.5 1021.6 1445.8C1025.4 1449.3 1030.0 1452.2 1034.2 1455.4" fill="none" stroke="#000" stroke-width="1.1"/>
<circle cx="1037.86" cy="1456.19" r="3.7" fill="#fff" stroke="#000" stroke-width="1.5"/><path d="M1043.53 1457.40L1056.59 1453.22M1043.53 1457.40L1053.12 1459.43M1043.53 1457.40L1053.80 1466.33" stroke="#000" stroke-width="1.5" fill="none"/><path d="M1043.53 1457.40L1050.18 1455.44L1048.81 1461.89Z" fill="#000"/>
<path d="M941.5 1002.5C945.4 1005.9 949.7 1009.0 953.1 1012.7C956.3 1016.4 959.1 1020.4 961.5 1024.6C963.9 1028.8 965.7 1033.2 967.4 1037.8C969.0 1042.3 970.2 1047.1 971.2 1051.9C972.3 1056.8 973.0 1061.8 973.6 1066.8C974.2 1071.8 974.5 1076.9 974.9 1082.0C975.2 1087.2 975.4 1092.3 975.7 1097.5C975.9 1102.6 976.1 1107.8 976.3 1112.9C976.5 1118.0 976.8 1123.1 977.0 1128.2C977.2 1133.3 977.5 1138.4 977.7 1143.4C977.9 1148.5 978.2 1153.5 978.4 1158.6C978.6 1163.6 978.9 1168.6 979.1 1173.6C979.3 1178.6 979.6 1183.6 979.8 1188.6C980.0 1193.6 980.2 1198.5 980.5 1203.5C980.7 1208.5 980.9 1213.5 981.2 1218.4C981.4 1223.4 981.6 1228.3 981.8 1233.3C982.1 1238.2 982.3 1243.2 982.5 1248.1C982.7 1253.0 982.9 1258.0 983.1 1262.9C983.3 1267.9 983.5 1272.8 983.7 1277.7C983.9 1282.7 984.1 1287.6 984.3 1292.6C984.5 1297.5 984.7 1302.5 984.9 1307.4C985.1 1312.4 985.3 1317.4 985.4 1322.3C985.6 1327.3 985.8 1332.3 985.9 1337.3C986.1 1342.2 986.2 1347.2 986.4 1352.2C986.5 1357.2 986.6 1362.3 986.8 1367.3C986.9 1372.3 987.0 1377.4 987.1 1382.4C987.2 1387.5 987.3 1392.5 987.4 1397.6C987.5 1402.7 987.6 1407.8 987.7 1412.9C987.8 1418.0 987.9 1423.2 988.0 1428.3C988.1 1433.4 988.2 1438.5 988.4 1443.6C988.6 1448.7 988.8 1453.9 989.1 1459.0C989.4 1464.0 989.7 1469.1 990.1 1474.2C990.5 1479.2 991.0 1484.3 991.6 1489.3C992.2 1494.3 992.8 1499.3 993.6 1504.2C994.4 1509.1 995.3 1514.0 996.3 1518.9C997.3 1523.7 998.4 1528.5 999.7 1533.3C1001.0 1538.0 1002.4 1542.7 1004.0 1547.4C1005.6 1552.0 1007.3 1556.6 1009.3 1561.0C1011.2 1565.5 1013.4 1569.9 1015.8 1574.1C1018.2 1578.3 1020.9 1582.5 1023.9 1586.3C1027.0 1590.2 1030.7 1593.6 1034.1 1597.3" fill="none" stroke="#000" stroke-width="1.1"/>
<circle cx="1037.75" cy="1597.95" r="3.7" fill="#fff" stroke="#000" stroke-width="1.5"/><path d="M1043.46 1598.96L1056.36 1594.33M1043.46 1598.96L1053.11 1600.66M1043.46 1598.96L1054.03 1607.53" stroke="#000" stroke-width="1.5" fill="none"/><path d="M1043.46 1598.96L1050.04 1596.77L1048.90 1603.27Z" fill="#000"/>
<path d="M941.5 1002.5C945.0 1006.3 949.0 1009.8 952.1 1013.9C955.2 1017.8 957.8 1022.0 960.0 1026.4C962.2 1030.7 964.0 1035.2 965.6 1039.9C967.1 1044.5 968.3 1049.3 969.2 1054.1C970.2 1059.0 970.9 1064.0 971.5 1069.0C972.0 1074.0 972.3 1079.1 972.6 1084.2C972.9 1089.3 973.0 1094.5 973.2 1099.7C973.3 1104.8 973.4 1110.0 973.6 1115.2C973.7 1120.3 973.8 1125.5 974.0 1130.6C974.2 1135.7 974.3 1140.9 974.5 1146.0C974.7 1151.1 974.9 1156.2 975.1 1161.3C975.3 1166.4 975.5 1171.4 975.7 1176.5C976.0 1181.6 976.2 1186.7 976.4 1191.7C976.7 1196.8 976.9 1201.8 977.1 1206.8C977.4 1211.9 977.6 1216.9 977.8 1221.9C978.1 1227.0 978.3 1232.0 978.6 1237.0C978.8 1242.0 979.1 1247.0 979.3 1252.1C979.5 1257.1 979.8 1262.1 980.0 1267.1C980.2 1272.1 980.4 1277.1 980.7 1282.1C980.9 1287.1 981.1 1292.1 981.3 1297.1C981.5 1302.1 981.7 1307.1 981.8 1312.1C982.0 1317.1 982.2 1322.1 982.3 1327.1C982.5 1332.1 982.6 1337.1 982.7 1342.1C982.9 1347.1 983.0 1352.1 983.1 1357.2C983.2 1362.2 983.2 1367.2 983.3 1372.2C983.3 1377.3 983.4 1382.3 983.4 1387.3C983.4 1392.4 983.4 1397.4 983.3 1402.5C983.3 1407.5 983.2 1412.6 983.2 1417.7C983.1 1422.7 983.0 1427.8 982.8 1432.9C982.7 1438.0 982.5 1443.1 982.3 1448.2C982.1 1453.3 981.9 1458.5 981.7 1463.6C981.4 1468.7 981.2 1473.9 980.9 1479.0C980.7 1484.1 980.4 1489.3 980.1 1494.4C979.9 1499.6 979.7 1504.7 979.5 1509.9C979.3 1515.0 979.1 1520.1 978.9 1525.3C978.8 1530.4 978.7 1535.5 978.7 1540.6C978.6 1545.7 978.7 1550.8 978.8 1555.9C978.9 1560.9 979.0 1566.0 979.3 1571.0C979.6 1576.1 979.9 1581.1 980.3 1586.1C980.8 1591.0 981.3 1596.0 982.0 1600.9C982.7 1605.9 983.5 1610.8 984.4 1615.7C985.3 1620.5 986.4 1625.4 987.6 1630.2C988.8 1635.0 990.1 1639.7 991.7 1644.4C993.2 1649.1 994.8 1653.9 996.7 1658.4C998.7 1662.9 1000.8 1667.4 1003.6 1671.5C1006.3 1675.6 1009.4 1679.5 1013.1 1682.9C1016.8 1686.3 1021.1 1689.3 1025.6 1691.9C1030.1 1694.6 1035.1 1696.8 1040.0 1698.7C1044.9 1700.5 1050.1 1702.0 1055.1 1703.1C1060.0 1704.2 1064.9 1704.6 1069.7 1705.3" fill="none" stroke="#000" stroke-width="1.1"/>
<circle cx="1073.42" cy="1705.54" r="3.7" fill="#fff" stroke="#000" stroke-width="1.5"/><path d="M1079.21 1705.85L1091.45 1699.68M1079.21 1705.85L1089.00 1706.36M1079.21 1705.85L1090.75 1713.06" stroke="#000" stroke-width="1.5" fill="none"/><path d="M1079.21 1705.85L1085.48 1702.87L1085.13 1709.46Z" fill="#000"/>
<path d="M941.5 1002.5C944.7 1006.5 948.2 1010.3 951.0 1014.4C953.7 1018.5 956.1 1022.9 958.1 1027.3C960.2 1031.7 961.8 1036.3 963.3 1041.0C964.7 1045.6 965.9 1050.4 966.8 1055.2C967.8 1060.1 968.5 1065.0 969.1 1069.9C969.7 1074.9 970.1 1079.9 970.5 1085.0C970.8 1090.0 971.0 1095.1 971.2 1100.2C971.3 1105.3 971.4 1110.5 971.5 1115.6C971.7 1120.7 971.7 1125.8 971.9 1130.9C972.0 1136.0 972.1 1141.1 972.2 1146.2C972.4 1151.3 972.5 1156.4 972.7 1161.5C972.8 1166.6 973.0 1171.7 973.1 1176.7C973.3 1181.8 973.5 1186.9 973.6 1191.9C973.8 1197.0 974.0 1202.0 974.1 1207.1C974.3 1212.1 974.5 1217.2 974.7 1222.2C974.9 1227.3 975.0 1232.3 975.2 1237.3C975.4 1242.3 975.6 1247.4 975.8 1252.4C976.0 1257.4 976.1 1262.4 976.3 1267.5C976.5 1272.5 976.7 1277.5 976.8 1282.5C977.0 1287.5 977.2 1292.5 977.4 1297.5C977.5 1302.6 977.7 1307.6 977.9 1312.6C978.0 1317.6 978.2 1322.6 978.3 1327.6C978.5 1332.6 978.6 1337.6 978.7 1342.6C978.9 1347.6 979.0 1352.6 979.1 1357.6C979.2 1362.6 979.3 1367.6 979.4 1372.6C979.5 1377.7 979.6 1382.7 979.7 1387.7C979.8 1392.7 979.9 1397.7 979.9 1402.7C980.0 1407.7 980.0 1412.7 980.0 1417.8C980.1 1422.8 980.1 1427.8 980.1 1432.8C980.1 1437.9 980.1 1442.9 980.0 1447.9C980.0 1452.9 980.0 1458.0 979.9 1463.0C979.8 1468.1 979.8 1473.1 979.7 1478.2C979.6 1483.2 979.5 1488.3 979.3 1493.3C979.2 1498.4 979.0 1503.5 978.9 1508.5C978.7 1513.6 978.5 1518.7 978.3 1523.7C978.1 1528.8 977.9 1533.9 977.7 1539.0C977.5 1544.1 977.3 1549.2 977.1 1554.3C976.9 1559.3 976.7 1564.4 976.5 1569.5C976.3 1574.6 976.1 1579.7 976.0 1584.8C975.8 1589.9 975.7 1594.9 975.6 1600.0C975.4 1605.1 975.3 1610.2 975.3 1615.3C975.2 1620.3 975.2 1625.4 975.2 1630.4C975.2 1635.5 975.2 1640.6 975.3 1645.6C975.4 1650.6 975.5 1655.7 975.7 1660.7C975.9 1665.7 976.1 1670.8 976.4 1675.8C976.7 1680.8 977.1 1685.8 977.5 1690.8C977.9 1695.7 978.4 1700.7 978.9 1705.7C979.5 1710.6 980.1 1715.6 980.8 1720.5C981.5 1725.4 982.2 1730.4 983.1 1735.3C983.9 1740.2 984.9 1745.0 985.9 1749.9C987.0 1754.8 988.1 1759.6 989.3 1764.4C990.6 1769.2 992.0 1774.0 993.6 1778.8C995.1 1783.5 996.8 1788.2 998.8 1792.9C1000.7 1797.5 1003.1 1802.0 1005.2 1806.6" fill="none" stroke="#000" stroke-width="1.1"/>
<path d="M1010.75 1812.15L1015.70 1817.10" stroke="#000" stroke-width="1"/><path d="M1017.26 1810.59L1009.19 1818.66" stroke="#000" stroke-width="2.7"/><circle cx="1007.92" cy="1809.32" r="3.8" fill="#fff" stroke="#000" stroke-width="1.4"/>
<path d="M941.5 1002.5C944.1 1006.8 947.1 1010.9 949.3 1015.3C951.6 1019.7 953.4 1024.3 955.1 1028.9C956.7 1033.6 958.0 1038.3 959.3 1043.1C960.5 1047.9 961.5 1052.8 962.5 1057.7C963.6 1062.5 964.5 1067.4 965.3 1072.3C966.2 1077.3 967.0 1082.2 967.8 1087.1C968.5 1092.1 969.2 1097.0 969.9 1102.0C970.5 1107.0 971.1 1112.0 971.6 1117.0C972.1 1122.0 972.6 1127.0 973.1 1132.0C973.5 1137.0 973.9 1142.1 974.2 1147.1C974.6 1152.2 974.9 1157.2 975.2 1162.3C975.4 1167.4 975.7 1172.5 975.9 1177.5C976.1 1182.6 976.2 1187.7 976.4 1192.8C976.5 1197.9 976.6 1203.0 976.7 1208.1C976.8 1213.2 976.9 1218.4 976.9 1223.5C977.0 1228.6 977.0 1233.7 977.0 1238.8C977.0 1243.9 977.0 1249.1 977.0 1254.2C977.0 1259.3 977.0 1264.4 976.9 1269.5C976.9 1274.7 976.9 1279.8 976.8 1284.9C976.8 1290.0 976.8 1295.1 976.7 1300.2C976.7 1305.3 976.7 1310.4 976.7 1315.5C976.6 1320.6 976.6 1325.7 976.6 1330.8C976.6 1335.9 976.6 1341.0 976.5 1346.1C976.5 1351.2 976.5 1356.3 976.5 1361.3C976.5 1366.4 976.5 1371.5 976.5 1376.6C976.5 1381.6 976.5 1386.7 976.5 1391.8C976.5 1396.8 976.5 1401.9 976.5 1407.0C976.5 1412.0 976.5 1417.1 976.5 1422.1C976.5 1427.2 976.5 1432.2 976.5 1437.3C976.5 1442.3 976.5 1447.4 976.6 1452.4C976.6 1457.5 976.6 1462.5 976.6 1467.6C976.6 1472.6 976.6 1477.7 976.6 1482.7C976.7 1487.7 976.7 1492.8 976.7 1497.8C976.7 1502.8 976.7 1507.9 976.8 1512.9C976.8 1518.0 976.8 1523.0 976.8 1528.0C976.8 1533.1 976.9 1538.1 976.9 1543.1C976.9 1548.2 976.9 1553.2 976.9 1558.2C977.0 1563.3 977.0 1568.3 977.0 1573.3C977.0 1578.4 977.0 1583.4 977.0 1588.4C977.1 1593.5 977.1 1598.5 977.1 1603.5C977.1 1608.6 977.1 1613.6 977.1 1618.6C977.2 1623.7 977.2 1628.7 977.2 1633.7C977.2 1638.8 977.2 1643.8 977.2 1648.9C977.2 1653.9 977.2 1659.0 977.2 1664.0C977.2 1669.0 977.2 1674.1 977.2 1679.1C977.2 1684.2 977.2 1689.2 977.2 1694.3C977.2 1699.3 977.2 1704.4 977.2 1709.5C977.2 1714.5 977.2 1719.6 977.2 1724.6C977.2 1729.7 977.2 1734.8 977.2 1739.8C977.2 1744.9 977.1 1750.0 977.1 1755.0C977.1 1760.1 977.1 1765.2 977.0 1770.3C977.0 1775.4 977.0 1780.4 976.9 1785.5C976.9 1790.6 976.9 1795.7 976.8 1800.8C976.8 1805.9 976.7 1811.0 976.7 1816.1C976.6 1821.2 976.6 1826.3 976.5 1831.4C976.5 1836.6 976.4 1841.7 976.3 1846.8C976.3 1851.9 976.2 1857.1 976.1 1862.2C976.1 1867.3 976.0 1872.4 976.0 1877.6C976.0 1882.7 976.0 1887.8 976.1 1892.9C976.3 1898.0 976.5 1903.1 976.8 1908.1C977.2 1913.1 977.7 1918.1 978.5 1923.1C979.2 1928.0 980.1 1932.9 981.3 1937.7C982.4 1942.5 983.8 1947.3 985.5 1952.0C987.2 1956.7 989.2 1961.3 991.5 1965.7C993.8 1970.2 996.4 1974.6 999.3 1978.6C1002.2 1982.7 1005.4 1986.7 1008.9 1990.2C1012.4 1993.8 1016.3 1997.1 1020.4 2000.0C1024.5 2002.9 1029.0 2005.5 1033.7 2007.5C1038.4 2009.6 1043.8 2010.7 1048.8 2012.3" fill="none" stroke="#000" stroke-width="1.1"/>
<circle cx="1052.45" cy="2012.95" r="3.7" fill="#fff" stroke="#000" stroke-width="1.5"/><path d="M1058.16 2013.96L1071.06 2009.33M1058.16 2013.96L1067.81 2015.66M1058.16 2013.96L1068.73 2022.53" stroke="#000" stroke-width="1.5" fill="none"/><path d="M1058.16 2013.96L1064.74 2011.77L1063.60 2018.27Z" fill="#000"/>
<path d="M941.5 1002.5C944.0 1006.9 946.7 1011.1 948.9 1015.6C951.2 1020.0 953.2 1024.5 954.9 1029.1C956.7 1033.7 958.3 1038.4 959.7 1043.1C961.1 1047.8 962.2 1052.6 963.3 1057.4C964.4 1062.3 965.2 1067.1 966.0 1072.0C966.8 1077.0 967.4 1081.9 967.9 1086.9C968.5 1091.9 968.9 1097.0 969.3 1102.0C969.6 1107.0 969.9 1112.1 970.2 1117.2C970.4 1122.3 970.6 1127.4 970.8 1132.5C971.0 1137.6 971.1 1142.7 971.3 1147.7C971.5 1152.8 971.7 1157.9 971.8 1163.0C972.0 1168.1 972.2 1173.2 972.3 1178.3C972.5 1183.4 972.6 1188.5 972.8 1193.6C972.9 1198.7 973.1 1203.7 973.3 1208.8C973.4 1213.9 973.5 1219.0 973.7 1224.1C973.8 1229.1 974.0 1234.2 974.1 1239.3C974.3 1244.4 974.4 1249.5 974.5 1254.5C974.7 1259.6 974.8 1264.7 975.0 1269.7C975.1 1274.8 975.2 1279.9 975.4 1285.0C975.5 1290.0 975.6 1295.1 975.7 1300.2C975.9 1305.2 976.0 1310.3 976.1 1315.4C976.3 1320.4 976.4 1325.5 976.5 1330.5C976.7 1335.6 976.8 1340.7 976.9 1345.7C977.0 1350.8 977.2 1355.8 977.3 1360.9C977.4 1365.9 977.5 1371.0 977.7 1376.0C977.8 1381.1 977.9 1386.1 978.1 1391.2C978.2 1396.2 978.3 1401.3 978.5 1406.3C978.6 1411.4 978.7 1416.4 978.9 1421.4C979.0 1426.5 979.1 1431.5 979.3 1436.6C979.4 1441.6 979.5 1446.6 979.7 1451.7C979.8 1456.7 980.0 1461.7 980.1 1466.8C980.2 1471.8 980.4 1476.8 980.5 1481.9C980.7 1486.9 980.8 1491.9 981.0 1496.9C981.1 1502.0 981.3 1507.0 981.5 1512.0C981.6 1517.0 981.8 1522.1 981.9 1527.1C982.1 1532.1 982.3 1537.1 982.4 1542.1C982.6 1547.2 982.8 1552.2 983.0 1557.2C983.1 1562.2 983.3 1567.2 983.5 1572.2C983.7 1577.2 983.9 1582.2 984.1 1587.3C984.3 1592.3 984.5 1597.3 984.7 1602.3C984.9 1607.3 985.1 1612.3 985.3 1617.3C985.5 1622.3 985.7 1627.3 985.9 1632.3C986.1 1637.3 986.3 1642.3 986.5 1647.3C986.7 1652.3 987.0 1657.3 987.1 1662.3C987.3 1667.3 987.5 1672.3 987.7 1677.3C987.9 1682.4 988.1 1687.4 988.3 1692.4C988.4 1697.4 988.6 1702.4 988.7 1707.4C988.9 1712.5 989.0 1717.5 989.1 1722.5C989.2 1727.6 989.4 1732.6 989.4 1737.7C989.5 1742.7 989.6 1747.8 989.7 1752.8C989.7 1757.9 989.7 1762.9 989.8 1768.0C989.8 1773.1 989.8 1778.2 989.7 1783.2C989.7 1788.3 989.6 1793.4 989.6 1798.5C989.5 1803.6 989.4 1808.8 989.3 1813.9C989.1 1819.0 989.0 1824.1 988.8 1829.3C988.6 1834.4 988.4 1839.6 988.1 1844.7C987.8 1849.9 987.6 1855.1 987.2 1860.3C986.9 1865.5 986.6 1870.7 986.2 1875.9C985.9 1881.1 985.5 1886.3 985.1 1891.5C984.8 1896.7 984.4 1901.9 984.1 1907.1C983.7 1912.3 983.4 1917.5 983.1 1922.7C982.7 1927.9 982.4 1933.1 982.2 1938.3C981.9 1943.5 981.7 1948.7 981.5 1953.8C981.4 1959.0 981.2 1964.1 981.2 1969.2C981.1 1974.4 981.1 1979.5 981.2 1984.5C981.3 1989.6 981.4 1994.7 981.7 1999.7C981.9 2004.7 982.2 2009.8 982.6 2014.7C983.1 2019.7 983.6 2024.7 984.2 2029.6C984.8 2034.5 985.6 2039.4 986.4 2044.2C987.3 2049.0 988.3 2053.8 989.4 2058.6C990.5 2063.3 991.8 2068.1 993.2 2072.7C994.6 2077.4 996.1 2082.0 997.8 2086.6C999.6 2091.2 1001.4 2095.7 1003.5 2100.2C1005.5 2104.6 1007.7 2109.1 1010.1 2113.4C1012.5 2117.8 1015.1 2122.1 1017.9 2126.3C1020.7 2130.5 1023.6 2134.8 1026.9 2138.6C1030.2 2142.3 1033.8 2146.1 1037.8 2148.8C1041.9 2151.6 1046.9 2153.0 1051.4 2155.1" fill="none" stroke="#000" stroke-width="1.1"/>
<circle cx="1055.06" cy="2155.47" r="3.7" fill="#fff" stroke="#000" stroke-width="1.5"/><path d="M1060.84 2155.98L1073.29 2150.24M1060.84 2155.98L1070.60 2156.83M1060.84 2155.98L1072.12 2163.59" stroke="#000" stroke-width="1.5" fill="none"/><path d="M1060.84 2155.98L1067.20 2153.22L1066.63 2159.80Z" fill="#000"/>
<path d="M941.5 1002.5C943.8 1006.9 946.4 1011.2 948.4 1015.7C950.4 1020.3 952.0 1025.0 953.4 1029.7C954.9 1034.4 956.0 1039.3 957.1 1044.1C958.2 1049.0 959.0 1053.9 959.8 1058.8C960.7 1063.8 961.4 1068.7 962.1 1073.7C962.9 1078.6 963.5 1083.6 964.2 1088.6C964.8 1093.5 965.5 1098.5 966.0 1103.5C966.6 1108.5 967.2 1113.4 967.7 1118.4C968.2 1123.4 968.7 1128.4 969.1 1133.4C969.5 1138.4 970.0 1143.4 970.4 1148.4C970.7 1153.4 971.1 1158.4 971.4 1163.4C971.8 1168.4 972.1 1173.4 972.4 1178.4C972.7 1183.5 972.9 1188.5 973.1 1193.5C973.4 1198.5 973.6 1203.6 973.8 1208.6C974.0 1213.6 974.2 1218.6 974.3 1223.7C974.5 1228.7 974.6 1233.7 974.8 1238.8C974.9 1243.8 975.0 1248.9 975.1 1253.9C975.2 1259.0 975.3 1264.0 975.3 1269.0C975.4 1274.1 975.5 1279.1 975.5 1284.2C975.6 1289.2 975.6 1294.3 975.6 1299.3C975.7 1304.4 975.7 1309.4 975.7 1314.5C975.7 1319.6 975.7 1324.6 975.7 1329.7C975.8 1334.7 975.8 1339.8 975.8 1344.8C975.8 1349.9 975.8 1354.9 975.8 1360.0C975.8 1365.0 975.8 1370.1 975.8 1375.2C975.8 1380.2 975.8 1385.3 975.9 1390.3C975.9 1395.4 975.9 1400.4 975.9 1405.5C976.0 1410.5 976.0 1415.6 976.0 1420.6C976.1 1425.7 976.1 1430.7 976.2 1435.8C976.2 1440.8 976.3 1445.9 976.4 1450.9C976.4 1456.0 976.5 1461.0 976.6 1466.1C976.6 1471.1 976.7 1476.2 976.8 1481.2C976.9 1486.3 977.0 1491.3 977.1 1496.4C977.2 1501.4 977.3 1506.4 977.4 1511.5C977.4 1516.5 977.5 1521.6 977.7 1526.6C977.8 1531.7 977.9 1536.7 978.0 1541.7C978.1 1546.8 978.2 1551.8 978.3 1556.9C978.4 1561.9 978.5 1566.9 978.6 1572.0C978.8 1577.0 978.9 1582.0 979.0 1587.1C979.1 1592.1 979.2 1597.2 979.4 1602.2C979.5 1607.2 979.6 1612.3 979.7 1617.3C979.8 1622.3 980.0 1627.4 980.1 1632.4C980.2 1637.4 980.3 1642.5 980.4 1647.5C980.6 1652.5 980.7 1657.6 980.8 1662.6C980.9 1667.6 981.0 1672.7 981.1 1677.7C981.3 1682.7 981.4 1687.8 981.5 1692.8C981.6 1697.8 981.7 1702.9 981.8 1707.9C981.9 1712.9 982.0 1717.9 982.1 1723.0C982.2 1728.0 982.3 1733.0 982.4 1738.1C982.5 1743.1 982.6 1748.1 982.7 1753.1C982.8 1758.2 982.8 1763.2 982.9 1768.2C983.0 1773.3 983.1 1778.3 983.1 1783.3C983.2 1788.3 983.3 1793.4 983.3 1798.4C983.4 1803.4 983.4 1808.5 983.5 1813.5C983.5 1818.5 983.6 1823.5 983.6 1828.6C983.7 1833.6 983.7 1838.6 983.7 1843.6C983.7 1848.7 983.8 1853.7 983.8 1858.7C983.8 1863.8 983.8 1868.8 983.8 1873.8C983.8 1878.8 983.8 1883.9 983.7 1888.9C983.7 1893.9 983.7 1898.9 983.7 1904.0C983.6 1909.0 983.6 1914.0 983.5 1919.0C983.5 1924.1 983.4 1929.1 983.3 1934.1C983.3 1939.1 983.2 1944.2 983.1 1949.2C983.0 1954.2 982.9 1959.3 982.8 1964.3C982.7 1969.3 982.6 1974.3 982.5 1979.4C982.4 1984.4 982.3 1989.4 982.2 1994.5C982.1 1999.5 982.0 2004.5 981.9 2009.5C981.8 2014.6 981.7 2019.6 981.6 2024.6C981.6 2029.7 981.5 2034.7 981.5 2039.8C981.5 2044.8 981.5 2049.8 981.5 2054.9C981.5 2059.9 981.6 2065.0 981.6 2070.0C981.7 2075.1 981.8 2080.1 982.0 2085.2C982.1 2090.2 982.3 2095.3 982.5 2100.3C982.8 2105.4 983.0 2110.5 983.3 2115.5C983.6 2120.6 984.0 2125.7 984.4 2130.7C984.8 2135.8 985.3 2140.9 985.8 2146.0C986.3 2151.1 986.9 2156.2 987.5 2161.2C988.2 2166.3 988.9 2171.4 989.7 2176.5C990.5 2181.5 991.4 2186.6 992.6 2191.5C993.7 2196.4 994.9 2201.3 996.5 2206.1C998.0 2210.8 999.7 2215.5 1001.8 2219.9C1003.9 2224.3 1006.1 2228.6 1008.8 2232.5C1011.5 2236.4 1014.4 2240.2 1017.8 2243.5C1021.2 2246.8 1024.9 2249.8 1029.0 2252.3C1033.3 2254.8 1037.9 2256.9 1042.8 2258.5C1048.0 2260.1 1053.8 2260.5 1059.3 2261.5" fill="none" stroke="#000" stroke-width="1.1"/>
<circle cx="1063.02" cy="2261.74" r="3.7" fill="#fff" stroke="#000" stroke-width="1.5"/><path d="M1068.81 2262.05L1081.05 2255.88M1068.81 2262.05L1078.60 2262.56M1068.81 2262.05L1080.35 2269.26" stroke="#000" stroke-width="1.5" fill="none"/><path d="M1068.81 2262.05L1075.08 2259.07L1074.73 2265.66Z" fill="#000"/>
<path d="M475.0 1600.6C479.7 1598.3 484.9 1596.6 489.1 1593.8C493.2 1591.1 496.7 1587.7 499.8 1584.1C502.9 1580.6 505.5 1576.5 507.7 1572.3C510.0 1568.1 511.8 1563.5 513.4 1558.9C515.0 1554.2 516.3 1549.3 517.5 1544.3C518.7 1539.4 519.6 1534.3 520.5 1529.3C521.5 1524.2 522.3 1519.1 523.0 1514.0C523.8 1509.0 524.5 1503.9 525.1 1498.8C525.7 1493.7 526.3 1488.6 526.8 1483.5C527.3 1478.4 527.7 1473.2 528.1 1468.1C528.4 1463.0 528.7 1457.9 529.0 1452.7C529.3 1447.6 529.5 1442.4 529.6 1437.3C529.8 1432.2 529.9 1427.0 530.0 1421.9C530.1 1416.7 530.1 1411.6 530.1 1406.4C530.1 1401.3 530.1 1396.1 530.0 1391.0C530.0 1385.8 529.9 1380.7 529.8 1375.5C529.7 1370.4 529.5 1365.2 529.4 1360.1C529.3 1354.9 529.1 1349.8 529.0 1344.7C528.9 1339.5 528.7 1334.4 528.6 1329.2C528.5 1324.1 528.3 1319.0 528.3 1313.9C528.2 1308.7 528.1 1303.6 528.0 1298.5C528.0 1293.4 528.0 1288.3 528.0 1283.2C528.0 1278.1 528.1 1273.0 528.2 1267.9C528.4 1262.8 528.5 1257.7 528.8 1252.6C529.0 1247.6 529.3 1242.5 529.6 1237.4C530.0 1232.4 530.4 1227.3 530.9 1222.3C531.5 1217.3 532.0 1212.2 532.7 1207.2C533.4 1202.2 534.2 1197.2 535.1 1192.2C535.9 1187.2 536.9 1182.2 538.0 1177.3C539.2 1172.4 540.5 1167.5 542.1 1162.7C543.7 1158.0 545.5 1153.3 547.8 1148.9C550.0 1144.5 552.6 1140.2 555.6 1136.2C558.6 1132.2 562.5 1128.7 566.0 1124.9" fill="none" stroke="#000" stroke-width="1.1"/>
<circle cx="569.56" cy="1123.94" r="3.7" fill="#fff" stroke="#000" stroke-width="1.5"/><path d="M575.16 1122.44L584.90 1112.80M575.16 1122.44L584.63 1119.91M575.16 1122.44L588.36 1125.74" stroke="#000" stroke-width="1.5" fill="none"/><path d="M575.16 1122.44L580.20 1117.68L581.91 1124.05Z" fill="#000"/>
<path d="M475.0 1600.6C480.0 1598.7 485.5 1597.4 489.9 1594.8C494.1 1592.3 497.8 1589.1 500.9 1585.5C504.0 1582.0 506.6 1577.8 508.8 1573.6C511.0 1569.3 512.7 1564.6 514.3 1559.8C515.9 1555.0 517.0 1550.0 518.2 1545.0C519.3 1539.9 520.2 1534.7 521.1 1529.6C522.0 1524.5 522.8 1519.4 523.6 1514.2C524.3 1509.1 525.0 1504.0 525.7 1498.9C526.3 1493.8 526.9 1488.6 527.4 1483.5C527.9 1478.4 528.4 1473.3 528.8 1468.2C529.2 1463.1 529.5 1457.9 529.8 1452.8C530.1 1447.7 530.3 1442.6 530.5 1437.4C530.7 1432.3 530.8 1427.2 530.9 1422.0C531.0 1416.8 531.0 1411.7 531.0 1406.5C531.0 1401.3 530.9 1396.1 530.8 1390.9C530.7 1385.7 530.5 1380.5 530.3 1375.3C530.1 1370.0 529.9 1364.8 529.7 1359.6C529.5 1354.3 529.2 1349.1 529.1 1343.9C528.9 1338.6 528.7 1333.4 528.6 1328.2C528.5 1323.0 528.4 1317.8 528.5 1312.6C528.5 1307.4 528.6 1302.3 528.8 1297.1C529.0 1292.0 529.3 1286.9 529.7 1281.8C530.1 1276.8 530.7 1271.8 531.4 1266.8C532.1 1261.8 532.9 1256.9 534.0 1252.0C535.0 1247.1 536.2 1242.3 537.7 1237.5C539.1 1232.8 540.7 1228.0 542.5 1223.4C544.4 1218.8 546.5 1214.2 548.8 1209.7C551.1 1205.2 553.7 1200.8 556.5 1196.4C559.4 1192.1 562.8 1188.0 566.0 1183.7" fill="none" stroke="#000" stroke-width="1.1"/>
<circle cx="569.56" cy="1182.74" r="3.7" fill="#fff" stroke="#000" stroke-width="1.5"/><path d="M575.16 1181.24L584.90 1171.60M575.16 1181.24L584.63 1178.71M575.16 1181.24L588.36 1184.54" stroke="#000" stroke-width="1.5" fill="none"/><path d="M575.16 1181.24L580.20 1176.48L581.91 1182.85Z" fill="#000"/>
<path d="M475.0 1600.6C480.5 1599.6 486.2 1599.0 491.5 1597.5C496.5 1596.0 501.3 1594.2 505.8 1592.0C510.1 1589.8 514.3 1587.2 518.1 1584.4C521.8 1581.5 525.3 1578.3 528.5 1574.9C531.8 1571.5 534.7 1567.7 537.4 1563.8C540.1 1559.9 542.5 1555.7 544.7 1551.4C546.9 1547.1 548.9 1542.5 550.7 1537.9C552.6 1533.3 554.2 1528.4 555.6 1523.6C557.1 1518.7 558.4 1513.7 559.5 1508.6C560.7 1503.6 561.7 1498.5 562.6 1493.4C563.6 1488.3 564.4 1483.1 565.1 1478.0C565.8 1472.9 566.5 1467.8 567.1 1462.7C567.6 1457.6 568.1 1452.5 568.5 1447.4C569.0 1442.3 569.3 1437.2 569.6 1432.2C569.9 1427.1 570.1 1422.0 570.3 1417.0C570.4 1411.9 570.5 1406.9 570.6 1401.8C570.6 1396.8 570.6 1391.7 570.6 1386.7C570.6 1381.7 570.5 1376.6 570.4 1371.6C570.2 1366.6 570.1 1361.6 569.9 1356.5C569.7 1351.5 569.5 1346.5 569.3 1341.5C569.0 1336.5 568.8 1331.4 568.5 1326.4C568.2 1321.4 567.9 1316.4 567.6 1311.4C567.3 1306.4 567.0 1301.4 566.7 1296.3C566.4 1291.3 566.1 1286.3 565.8 1281.3C565.5 1276.3 565.1 1271.3 564.8 1266.3C564.5 1261.2 564.1 1256.2 563.8 1251.2C563.5 1246.2 563.1 1241.2 562.8 1236.2C562.4 1231.1 562.1 1226.1 561.7 1221.1C561.4 1216.1 561.0 1211.1 560.7 1206.1C560.3 1201.0 560.0 1196.0 559.6 1191.0C559.3 1186.0 558.9 1181.0 558.5 1175.9C558.2 1170.9 557.8 1165.9 557.4 1160.9C557.1 1155.8 556.7 1150.8 556.3 1145.8C556.0 1140.8 555.6 1135.8 555.2 1130.7C554.9 1125.7 554.5 1120.7 554.2 1115.7C553.8 1110.6 553.4 1105.6 553.1 1100.6C552.7 1095.6 552.3 1090.5 552.0 1085.5C551.6 1080.5 551.3 1075.4 550.9 1070.4C550.6 1065.4 550.2 1060.3 549.9 1055.3C549.5 1050.3 549.2 1045.3 548.8 1040.2C548.5 1035.2 548.2 1030.2 547.8 1025.1C547.5 1020.1 547.2 1015.0 546.8 1010.0C546.5 1005.0 546.2 999.9 545.9 994.9C545.6 989.9 545.2 984.8 544.9 979.8C544.6 974.7 544.3 969.7 544.1 964.7C543.8 959.6 543.5 954.6 543.2 949.5C542.9 944.5 542.6 939.4 542.4 934.4C542.1 929.3 541.9 924.3 541.7 919.2C541.4 914.2 541.2 909.1 541.0 904.1C540.8 899.0 540.7 894.0 540.5 888.9C540.4 883.9 540.3 878.8 540.2 873.8C540.1 868.7 540.1 863.7 540.1 858.6C540.1 853.6 540.1 848.5 540.2 843.5C540.3 838.4 540.4 833.4 540.5 828.3C540.7 823.3 540.9 818.2 541.2 813.2C541.4 808.1 541.7 803.1 542.1 798.0C542.5 793.0 542.9 787.9 543.4 782.9C543.9 777.8 544.4 772.8 545.0 767.7C545.6 762.7 546.3 757.6 547.1 752.6C547.9 747.6 548.8 742.6 549.8 737.7C550.8 732.7 551.9 727.8 553.1 723.0C554.4 718.1 555.7 713.3 557.2 708.6C558.8 703.9 560.4 699.2 562.3 694.6C564.1 690.1 566.1 685.6 568.4 681.2C570.6 676.8 573.0 672.6 575.6 668.4C578.2 664.3 581.1 660.2 584.1 656.3C587.1 652.4 590.4 648.6 593.8 644.9C597.2 641.2 600.8 637.7 604.4 634.2C608.1 630.7 611.9 627.4 615.8 624.1C619.7 620.8 623.7 617.6 627.7 614.5C631.7 611.3 635.8 608.3 639.9 605.3C644.0 602.3 648.1 599.4 652.3 596.6C656.5 593.7 660.7 590.9 665.0 588.2C669.2 585.5 673.5 582.8 677.8 580.2C682.2 577.5 686.5 575.0 690.9 572.4C695.3 569.9 699.7 567.4 704.1 564.9C708.5 562.5 713.0 560.1 717.4 557.7C721.9 555.3 726.4 553.0 730.9 550.6C735.4 548.3 739.9 546.0 744.4 543.7C748.9 541.4 753.5 539.1 758.0 536.9C762.5 534.6 767.1 532.4 771.6 530.1C776.2 527.9 780.7 525.6 785.3 523.4C789.8 521.2 794.4 518.9 798.9 516.7C803.4 514.4 808.0 512.2 812.5 509.9C817.0 507.6 821.6 505.3 826.1 503.0C830.6 500.7 835.1 498.4 839.6 496.0C844.0 493.7 848.5 491.3 852.9 488.9C857.4 486.5 861.8 484.0 866.2 481.6C870.6 479.1 875.0 476.6 879.4 474.1C883.8 471.6 888.1 469.0 892.5 466.5C896.8 464.0 901.2 461.4 905.5 458.9C909.9 456.3 914.2 453.8 918.6 451.2C922.9 448.7 927.3 446.2 931.6 443.7C936.0 441.1 940.3 438.6 944.7 436.2C949.1 433.7 953.4 431.2 957.8 428.8C962.2 426.4 966.6 424.0 971.0 421.6C975.5 419.2 979.9 416.9 984.3 414.6C988.8 412.4 993.3 410.1 997.8 408.0C1002.3 405.8 1006.8 403.7 1011.4 401.6C1015.9 399.5 1020.5 397.5 1025.1 395.6C1029.7 393.7 1034.4 391.8 1039.1 390.0C1043.8 388.2 1048.5 386.5 1053.3 384.9C1058.0 383.2 1062.8 381.7 1067.7 380.3C1072.5 378.8 1077.5 377.5 1082.4 376.2" fill="none" stroke="#000" stroke-width="1.1"/>
<circle cx="1085.74" cy="374.63" r="3.7" fill="#fff" stroke="#000" stroke-width="1.5"/><path d="M1090.99 372.18L1098.90 360.99M1090.99 372.18L1099.87 368.04M1090.99 372.18L1104.57 373.13" stroke="#000" stroke-width="1.5" fill="none"/><path d="M1090.99 372.18L1095.13 366.61L1097.92 372.59Z" fill="#000"/>
<path d="M475.0 1600.6C480.9 1599.7 487.1 1599.5 492.6 1598.0C497.7 1596.6 502.5 1594.8 506.9 1592.4C511.0 1590.1 514.9 1587.3 518.3 1584.2C521.6 1581.1 524.5 1577.6 527.1 1573.8C529.8 1570.0 531.9 1565.9 533.9 1561.6C535.8 1557.3 537.4 1552.7 538.8 1548.1C540.3 1543.3 541.4 1538.4 542.5 1533.5C543.5 1528.5 544.3 1523.4 545.1 1518.3C545.9 1513.2 546.5 1508.1 547.1 1503.0C547.7 1497.9 548.3 1492.8 548.8 1487.7C549.3 1482.6 549.8 1477.5 550.2 1472.4C550.6 1467.3 550.9 1462.3 551.3 1457.2C551.6 1452.2 551.9 1447.1 552.1 1442.1C552.3 1437.0 552.5 1432.0 552.7 1427.0C552.9 1422.0 553.0 1417.0 553.1 1411.9C553.2 1406.9 553.2 1401.9 553.3 1396.9C553.3 1391.9 553.3 1386.9 553.3 1381.9C553.3 1376.9 553.2 1372.0 553.1 1367.0C553.1 1362.0 553.0 1357.0 552.9 1352.0C552.8 1347.0 552.7 1342.0 552.5 1337.1C552.4 1332.1 552.2 1327.1 552.1 1322.1C551.9 1317.1 551.7 1312.1 551.6 1307.2C551.4 1302.2 551.2 1297.2 551.0 1292.2C550.8 1287.2 550.6 1282.2 550.4 1277.2C550.2 1272.2 550.0 1267.2 549.8 1262.2C549.6 1257.2 549.4 1252.2 549.2 1247.2C549.0 1242.2 548.8 1237.2 548.6 1232.2C548.4 1227.2 548.2 1222.2 548.0 1217.2C547.8 1212.2 547.6 1207.2 547.4 1202.2C547.2 1197.1 547.0 1192.1 546.8 1187.1C546.6 1182.1 546.4 1177.1 546.2 1172.1C546.0 1167.1 545.9 1162.0 545.7 1157.0C545.5 1152.0 545.4 1147.0 545.2 1142.0C545.1 1136.9 544.9 1131.9 544.8 1126.9C544.7 1121.9 544.6 1116.9 544.5 1111.8C544.4 1106.8 544.3 1101.8 544.2 1096.8C544.1 1091.8 544.1 1086.7 544.0 1081.7C544.0 1076.7 543.9 1071.7 543.9 1066.7C543.9 1061.6 543.9 1056.6 543.9 1051.6C543.9 1046.6 543.9 1041.5 544.0 1036.5C544.1 1031.5 544.1 1026.5 544.2 1021.5C544.3 1016.4 544.4 1011.4 544.6 1006.4C544.7 1001.4 544.9 996.4 545.0 991.3C545.2 986.3 545.4 981.3 545.7 976.3C545.9 971.3 546.1 966.3 546.4 961.3C546.7 956.2 547.0 951.2 547.4 946.2C547.7 941.2 548.1 936.2 548.5 931.2C548.9 926.2 549.3 921.2 549.7 916.2C550.2 911.2 550.7 906.2 551.2 901.2C551.7 896.2 552.3 891.2 552.9 886.2C553.4 881.2 554.1 876.2 554.8 871.2C555.5 866.2 556.2 861.3 557.1 856.4C558.0 851.4 558.9 846.6 560.1 841.7C561.2 836.9 562.4 832.1 563.8 827.4C565.2 822.7 566.8 818.0 568.5 813.4C570.3 808.8 572.3 804.3 574.4 799.9C576.6 795.5 579.0 791.2 581.6 786.9C584.2 782.7 587.0 778.5 589.9 774.5C592.8 770.4 596.0 766.5 599.2 762.6C602.5 758.8 605.9 755.0 609.4 751.3C613.0 747.6 616.6 744.0 620.4 740.6C624.2 737.1 628.1 733.7 632.0 730.4C635.9 727.1 640.0 723.9 644.1 720.7C648.2 717.6 652.3 714.6 656.5 711.7C660.7 708.8 664.9 706.0 669.2 703.2C673.5 700.5 677.8 697.9 682.1 695.3C686.5 692.7 690.8 690.2 695.2 687.8C699.6 685.4 704.1 683.0 708.5 680.7C713.0 678.4 717.4 676.2 721.9 674.0C726.4 671.8 730.9 669.7 735.5 667.6C740.0 665.5 744.6 663.4 749.1 661.4C753.7 659.4 758.3 657.4 762.8 655.4C767.4 653.4 772.0 651.5 776.6 649.5C781.2 647.6 785.8 645.6 790.4 643.7C795.0 641.8 799.6 639.9 804.2 637.9C808.8 636.0 813.4 634.0 818.0 632.1C822.6 630.1 827.2 628.1 831.8 626.1C836.3 624.1 840.9 622.1 845.5 620.1C850.0 618.0 854.5 615.9 859.1 613.8C863.6 611.6 868.1 609.4 872.5 607.2C877.0 605.0 881.5 602.7 885.9 600.3C890.3 597.9 894.7 595.5 899.1 593.0C903.5 590.5 907.8 588.0 912.1 585.3C916.4 582.7 920.7 580.0 924.8 577.2C929.0 574.3 933.1 571.4 937.2 568.4C941.2 565.4 945.2 562.3 949.0 559.1C952.9 555.9 956.7 552.6 960.3 549.2C964.0 545.7 967.5 542.2 970.9 538.5C974.3 534.9 977.6 531.0 980.7 527.1C983.9 523.3 986.9 519.2 989.9 515.2C993.0 511.3 995.9 507.2 999.1 503.4C1002.3 499.7 1005.5 495.9 1009.1 492.5C1012.6 489.1 1016.3 485.8 1020.4 483.1C1024.6 480.3 1029.4 478.3 1033.9 475.9" fill="none" stroke="#000" stroke-width="1.1"/>
<circle cx="1037.56" cy="475.38" r="3.7" fill="#fff" stroke="#000" stroke-width="1.5"/><path d="M1043.30 474.58L1054.14 466.19M1043.30 474.58L1053.01 473.21M1043.30 474.58L1056.01 479.45" stroke="#000" stroke-width="1.5" fill="none"/><path d="M1043.30 474.58L1048.88 470.46L1049.80 476.99Z" fill="#000"/>
<path d="M475.0 1600.6C480.5 1599.9 486.3 1599.9 491.6 1598.6C496.6 1597.4 501.4 1595.6 505.8 1593.2C510.1 1591.0 514.1 1588.1 517.8 1585.0C521.5 1581.9 524.8 1578.3 527.8 1574.6C530.8 1570.8 533.5 1566.7 535.9 1562.5C538.3 1558.3 540.4 1553.8 542.2 1549.3C544.1 1544.8 545.7 1540.0 547.1 1535.3C548.5 1530.4 549.7 1525.5 550.8 1520.5C551.9 1515.5 552.7 1510.5 553.5 1505.4C554.3 1500.3 555.0 1495.1 555.6 1490.0C556.2 1484.8 556.7 1479.7 557.2 1474.6C557.7 1469.4 558.2 1464.3 558.6 1459.2C558.9 1454.1 559.3 1449.0 559.6 1443.9C559.9 1438.8 560.2 1433.7 560.4 1428.6C560.6 1423.5 560.8 1418.5 560.9 1413.4C561.0 1408.3 561.1 1403.3 561.2 1398.2C561.3 1393.2 561.3 1388.1 561.3 1383.1C561.3 1378.0 561.3 1373.0 561.2 1368.0C561.2 1362.9 561.1 1357.9 561.0 1352.9C560.9 1347.9 560.8 1342.9 560.6 1337.8C560.5 1332.8 560.3 1327.8 560.1 1322.8C559.9 1317.8 559.7 1312.8 559.5 1307.8C559.3 1302.8 559.0 1297.8 558.8 1292.8C558.6 1287.7 558.3 1282.7 558.1 1277.7C557.8 1272.7 557.5 1267.7 557.3 1262.7C557.0 1257.7 556.7 1252.7 556.4 1247.7C556.1 1242.7 555.8 1237.7 555.6 1232.7C555.3 1227.7 555.0 1222.6 554.7 1217.6C554.4 1212.6 554.1 1207.6 553.8 1202.6C553.5 1197.5 553.2 1192.5 553.0 1187.5C552.7 1182.5 552.4 1177.4 552.2 1172.4C551.9 1167.3 551.6 1162.3 551.4 1157.2C551.1 1152.2 550.9 1147.1 550.7 1142.0C550.5 1137.0 550.3 1131.9 550.1 1126.8C549.9 1121.7 549.7 1116.7 549.5 1111.6C549.4 1106.5 549.2 1101.3 549.1 1096.2C549.0 1091.1 548.8 1086.0 548.8 1080.9C548.7 1075.7 548.6 1070.6 548.7 1065.5C548.7 1060.4 548.8 1055.2 548.9 1050.1C549.1 1045.0 549.3 1039.9 549.6 1034.9C550.0 1029.8 550.4 1024.8 551.0 1019.7C551.6 1014.7 552.3 1009.8 553.1 1004.8C554.0 999.9 555.0 995.0 556.1 990.2C557.3 985.4 558.7 980.6 560.2 975.9C561.7 971.2 563.5 966.5 565.4 962.0C567.3 957.4 569.4 952.9 571.7 948.5C573.9 944.0 576.4 939.7 579.0 935.4C581.5 931.1 584.3 926.9 587.2 922.8C590.0 918.7 593.1 914.7 596.2 910.8C599.4 906.8 602.7 903.0 606.1 899.2C609.5 895.5 613.1 891.9 616.7 888.3C620.3 884.8 624.1 881.3 627.9 878.0C631.8 874.7 635.7 871.5 639.7 868.3C643.7 865.2 647.8 862.3 652.0 859.4C656.2 856.5 660.4 853.8 664.7 851.1C669.0 848.4 673.4 845.9 677.9 843.4C682.3 841.0 686.8 838.6 691.3 836.3C695.8 834.0 700.4 831.8 705.0 829.7C709.6 827.5 714.3 825.4 719.0 823.4C723.6 821.3 728.4 819.4 733.1 817.4C737.8 815.5 742.6 813.6 747.3 811.7C752.1 809.8 756.9 808.0 761.7 806.2C766.5 804.3 771.3 802.5 776.0 800.7C780.8 798.8 785.6 797.0 790.4 795.2C795.1 793.4 799.9 791.5 804.6 789.6C809.3 787.8 814.1 785.9 818.7 783.9C823.4 782.0 828.1 780.0 832.7 778.0C837.3 776.0 841.9 773.9 846.4 771.8C850.9 769.6 855.4 767.4 859.9 765.1C864.3 762.9 868.7 760.5 873.0 758.0C877.3 755.6 881.5 753.1 885.7 750.4C889.9 747.8 894.0 745.1 898.0 742.2C902.0 739.3 906.0 736.4 909.8 733.3C913.7 730.2 917.4 726.9 921.1 723.6C924.8 720.2 928.3 716.7 931.8 713.1C935.3 709.4 938.7 705.7 942.0 701.8C945.3 698.0 948.6 694.0 951.8 690.0C954.9 686.0 958.1 682.0 961.2 677.9C964.2 673.8 967.3 669.6 970.3 665.5C973.3 661.4 976.3 657.2 979.2 653.1C982.2 648.9 985.1 644.8 988.1 640.7C991.1 636.7 994.1 632.7 997.2 628.8C1000.3 624.9 1003.4 621.0 1006.7 617.3C1009.9 613.6 1013.3 610.0 1016.8 606.6C1020.3 603.2 1024.0 600.0 1027.8 596.9C1031.7 593.9 1035.7 591.0 1040.0 588.4C1044.3 585.7 1048.8 583.3 1053.5 581.2C1058.4 579.0 1063.6 577.5 1068.7 575.6" fill="none" stroke="#000" stroke-width="1.1"/>
<circle cx="1072.36" cy="576.12" r="3.7" fill="#fff" stroke="#000" stroke-width="1.5"/><path d="M1078.10 576.92L1090.83 571.85M1078.10 576.92L1087.81 578.29M1078.10 576.92L1088.97 585.12" stroke="#000" stroke-width="1.5" fill="none"/><path d="M1078.10 576.92L1084.60 574.51L1083.68 581.04Z" fill="#000"/>
<path d="M475.0 1600.6C479.9 1598.7 485.1 1597.1 489.7 1594.8C494.3 1592.5 498.5 1589.8 502.6 1586.9C506.7 1584.0 510.5 1580.7 514.1 1577.4C517.8 1574.0 521.2 1570.4 524.7 1566.8C528.1 1563.2 531.3 1559.4 534.7 1555.7C538.0 1552.0 541.2 1548.2 544.6 1544.5C547.9 1540.9 551.3 1537.3 554.8 1533.9C558.4 1530.5 562.0 1527.2 565.8 1524.1C569.7 1521.1 573.7 1518.3 577.8 1515.5C581.8 1512.8 586.1 1510.3 590.3 1507.8C594.6 1505.4 599.0 1503.0 603.4 1500.8C607.8 1498.5 612.3 1496.4 616.9 1494.3C621.5 1492.3 626.1 1490.3 630.7 1488.5C635.4 1486.6 640.1 1484.9 644.9 1483.2C649.6 1481.5 654.5 1479.9 659.3 1478.4C664.1 1476.9 669.0 1475.5 673.9 1474.2C678.9 1472.9 683.8 1471.6 688.8 1470.5C693.7 1469.3 698.7 1468.2 703.7 1467.2C708.7 1466.2 713.7 1465.2 718.7 1464.3C723.7 1463.5 728.7 1462.7 733.8 1461.9C738.8 1461.2 743.8 1460.5 748.8 1459.9C753.8 1459.3 758.8 1458.8 763.8 1458.3C768.8 1457.8 773.8 1457.4 778.8 1457.0C783.8 1456.6 788.8 1456.3 793.8 1456.0C798.8 1455.7 803.8 1455.5 808.7 1455.3C813.7 1455.1 818.7 1454.9 823.7 1454.8C828.7 1454.7 833.6 1454.7 838.6 1454.6C843.6 1454.6 848.6 1454.6 853.6 1454.6C858.5 1454.6 863.5 1454.7 868.5 1454.7C873.5 1454.8 878.5 1454.9 883.4 1455.0C888.4 1455.1 893.4 1455.3 898.4 1455.4C903.4 1455.6 908.4 1455.8 913.4 1455.9C918.3 1456.1 923.3 1456.3 928.3 1456.5C933.3 1456.7 938.3 1456.9 943.3 1457.1C948.3 1457.3 953.3 1457.5 958.3 1457.7C963.3 1457.8 968.3 1458.0 973.4 1458.2C978.4 1458.4 983.4 1458.6 988.4 1458.7C993.4 1458.9 998.5 1459.0 1003.5 1459.1C1008.5 1459.2 1013.6 1459.4 1018.6 1459.4C1023.7 1459.5 1028.7 1459.5 1033.8 1459.6" fill="none" stroke="#000" stroke-width="1.1"/>
<circle cx="1037.50" cy="1459.60" r="3.7" fill="#fff" stroke="#000" stroke-width="1.5"/><path d="M1043.30 1459.60L1055.20 1452.80M1043.30 1459.60L1053.10 1459.60M1043.30 1459.60L1055.20 1466.20" stroke="#000" stroke-width="1.5" fill="none"/><path d="M1043.30 1459.60L1049.40 1456.30L1049.40 1462.90Z" fill="#000"/>
<path d="M475.0 1600.6C550.0 1600.6 617.6 1600.7 700.0 1600.7C800.3 1600.7 922.5 1600.8 1033.8 1600.8" fill="none" stroke="#000" stroke-width="1.1"/>
<circle cx="1037.50" cy="1600.80" r="3.7" fill="#fff" stroke="#000" stroke-width="1.5"/><path d="M1043.30 1600.80L1055.20 1594.00M1043.30 1600.80L1053.10 1600.80M1043.30 1600.80L1055.20 1607.40" stroke="#000" stroke-width="1.5" fill="none"/><path d="M1043.30 1600.80L1049.40 1597.50L1049.40 1604.10Z" fill="#000"/>
<path d="M475.0 1600.6C480.0 1600.6 485.1 1600.6 490.1 1600.7C495.1 1600.7 500.2 1600.7 505.2 1600.7C510.2 1600.7 515.3 1600.8 520.3 1600.8C525.3 1600.8 530.4 1600.8 535.4 1600.8C540.4 1600.9 545.5 1600.9 550.5 1600.9C555.5 1600.9 560.6 1600.9 565.6 1600.9C570.6 1601.0 575.7 1601.0 580.7 1601.0C585.8 1601.0 590.8 1601.0 595.8 1601.0C600.9 1601.1 605.9 1601.1 610.9 1601.1C616.0 1601.1 621.0 1601.1 626.0 1601.1C631.1 1601.1 636.1 1601.2 641.1 1601.2C646.2 1601.2 651.2 1601.2 656.2 1601.2C661.3 1601.2 666.3 1601.2 671.3 1601.2C676.4 1601.3 681.4 1601.3 686.4 1601.3C691.5 1601.3 696.5 1601.3 701.5 1601.3C706.6 1601.3 711.6 1601.3 716.6 1601.3C721.7 1601.3 726.7 1601.3 731.7 1601.3C736.8 1601.4 741.8 1601.4 746.8 1601.4C751.9 1601.4 756.9 1601.4 762.0 1601.4C767.0 1601.4 772.0 1601.4 777.1 1601.4C782.1 1601.4 787.1 1601.4 792.2 1601.4C797.2 1601.4 802.2 1601.4 807.3 1601.4C812.3 1601.4 817.3 1601.4 822.4 1601.4C827.4 1601.4 832.4 1601.4 837.5 1601.4C842.5 1601.4 847.5 1601.4 852.6 1601.4C857.6 1601.4 862.6 1601.4 867.7 1601.4C872.7 1601.3 877.7 1601.3 882.8 1601.3C887.8 1601.3 892.8 1601.3 897.9 1601.3C902.9 1601.3 907.9 1601.3 913.0 1601.3C918.0 1601.3 923.0 1601.2 928.1 1601.2C933.1 1601.2 938.1 1601.2 943.2 1601.2C948.2 1601.2 953.3 1601.2 958.3 1601.1C963.3 1601.1 968.4 1601.1 973.4 1601.1C978.4 1601.1 983.5 1601.0 988.5 1601.0C993.5 1601.0 998.6 1601.0 1003.6 1601.0C1008.6 1600.9 1013.7 1600.9 1018.7 1600.9C1023.7 1600.9 1028.8 1600.8 1033.8 1600.8" fill="none" stroke="#000" stroke-width="1.1"/>
<circle cx="1037.50" cy="1600.80" r="3.7" fill="#fff" stroke="#000" stroke-width="1.5"/><path d="M1043.30 1600.80L1055.20 1594.00M1043.30 1600.80L1053.10 1600.80M1043.30 1600.80L1055.20 1607.40" stroke="#000" stroke-width="1.5" fill="none"/><path d="M1043.30 1600.80L1049.40 1597.50L1049.40 1604.10Z" fill="#000"/>
<path d="M475.0 1600.6C479.9 1599.3 484.7 1598.0 489.6 1596.7C494.4 1595.5 499.3 1594.3 504.2 1593.1C509.1 1592.0 514.0 1590.9 518.9 1589.8C523.8 1588.7 528.7 1587.7 533.6 1586.7C538.5 1585.7 543.5 1584.7 548.4 1583.8C553.3 1582.8 558.3 1581.9 563.2 1581.1C568.1 1580.2 573.1 1579.4 578.0 1578.6C583.0 1577.8 588.0 1577.0 592.9 1576.2C597.9 1575.5 602.9 1574.8 607.8 1574.1C612.8 1573.4 617.8 1572.8 622.8 1572.1C627.8 1571.5 632.8 1570.9 637.8 1570.3C642.8 1569.7 647.8 1569.1 652.8 1568.6C657.8 1568.1 662.8 1567.6 667.8 1567.1C672.8 1566.6 677.8 1566.1 682.8 1565.6C687.9 1565.2 692.9 1564.7 697.9 1564.3C702.9 1563.9 708.0 1563.5 713.0 1563.1C718.0 1562.7 723.1 1562.3 728.1 1562.0C733.1 1561.6 738.2 1561.3 743.2 1560.9C748.2 1560.6 753.3 1560.3 758.3 1559.9C763.4 1559.6 768.4 1559.3 773.5 1559.0C778.5 1558.7 783.6 1558.4 788.6 1558.1C793.7 1557.9 798.7 1557.6 803.8 1557.3C808.8 1557.0 813.9 1556.8 818.9 1556.5C824.0 1556.2 829.0 1556.0 834.1 1555.7C839.1 1555.4 844.1 1555.2 849.2 1554.9C854.2 1554.6 859.3 1554.4 864.3 1554.1C869.4 1553.8 874.4 1553.6 879.5 1553.3C884.5 1553.0 889.6 1552.7 894.6 1552.5C899.6 1552.2 904.7 1551.9 909.7 1551.6C914.7 1551.3 919.8 1551.0 924.8 1550.7C929.8 1550.3 934.9 1550.0 939.9 1549.7C944.9 1549.3 949.9 1549.0 955.0 1548.6C960.0 1548.3 965.0 1547.9 970.0 1547.5C975.0 1547.1 980.0 1546.7 985.0 1546.3C990.0 1545.8 995.0 1545.4 1000.0 1544.9C1005.0 1544.5 1010.0 1544.0 1015.0 1543.5C1020.0 1543.0 1025.0 1542.5 1029.9 1542.0C1034.9 1541.5 1039.9 1540.9 1044.9 1540.4C1049.9 1539.9 1054.8 1539.3 1059.8 1538.8C1064.8 1538.2 1069.8 1537.7 1074.8 1537.1C1079.7 1536.5 1084.7 1536.0 1089.7 1535.4C1094.7 1534.9 1099.7 1534.3 1104.7 1533.8C1109.6 1533.2 1114.6 1532.7 1119.6 1532.1C1124.6 1531.6 1129.6 1531.1 1134.6 1530.6C1139.7 1530.1 1144.7 1529.5 1149.7 1529.1C1154.7 1528.6 1159.7 1528.1 1164.8 1527.7C1169.8 1527.2 1174.9 1526.8 1179.9 1526.4C1185.0 1526.0 1190.0 1525.6 1195.1 1525.2C1200.2 1524.9 1205.3 1524.6 1210.4 1524.2C1215.5 1523.9 1220.6 1523.6 1225.7 1523.3C1230.8 1523.0 1235.9 1522.7 1241.0 1522.3C1246.2 1522.0 1251.3 1521.6 1256.4 1521.1C1261.5 1520.7 1266.6 1520.2 1271.7 1519.6C1276.8 1519.0 1281.9 1518.4 1287.0 1517.6C1292.1 1516.8 1297.2 1516.0 1302.3 1515.0C1307.3 1514.0 1312.4 1513.0 1317.2 1511.5C1321.9 1510.0 1326.6 1508.4 1330.8 1506.0C1334.8 1503.8 1338.5 1500.9 1341.8 1497.7C1345.0 1494.5 1347.7 1490.6 1350.2 1486.6C1352.7 1482.6 1354.8 1478.1 1356.8 1473.6C1358.9 1469.1 1360.6 1464.4 1362.4 1459.7C1364.3 1455.0 1366.0 1450.3 1367.7 1445.5C1369.4 1440.8 1371.1 1436.0 1372.8 1431.3C1374.4 1426.5 1376.0 1421.7 1377.6 1416.9C1379.2 1412.1 1380.7 1407.3 1382.3 1402.5C1383.8 1397.7 1385.3 1392.9 1386.7 1388.0C1388.2 1383.2 1389.6 1378.4 1391.0 1373.5C1392.5 1368.7 1393.9 1363.8 1395.2 1358.9C1396.6 1354.1 1397.9 1349.2 1399.3 1344.3C1400.6 1339.4 1401.9 1334.5 1403.2 1329.6C1404.5 1324.7 1405.8 1319.8 1407.1 1314.9C1408.3 1310.0 1409.6 1305.1 1410.8 1300.2C1412.1 1295.3 1413.3 1290.4 1414.6 1285.5C1415.8 1280.6 1417.0 1275.7 1418.2 1270.8C1419.5 1265.9 1420.7 1260.9 1421.9 1256.0C1423.1 1251.1 1424.3 1246.2 1425.6 1241.3C1426.8 1236.4 1428.0 1231.5 1429.2 1226.6C1430.4 1221.7 1431.7 1216.8 1432.9 1211.9C1434.2 1207.0 1435.4 1202.1 1436.7 1197.2C1437.9 1192.4 1439.2 1187.5 1440.5 1182.6C1441.8 1177.8 1443.1 1172.9 1444.4 1168.0C1445.7 1163.2 1447.1 1158.3 1448.4 1153.5C1449.8 1148.6 1451.2 1143.8 1452.6 1139.0C1454.0 1134.2 1455.5 1129.4 1456.9 1124.6C1458.4 1119.8 1459.9 1115.0 1461.4 1110.2C1463.0 1105.4 1464.5 1100.6 1466.1 1095.9C1467.7 1091.1 1469.4 1086.4 1471.1 1081.7C1472.7 1076.9 1474.4 1072.2 1476.2 1067.5C1478.0 1062.8 1479.8 1058.1 1481.6 1053.4C1483.5 1048.8 1485.4 1044.1 1487.3 1039.5C1489.3 1034.8 1491.3 1030.2 1493.3 1025.6C1495.4 1021.0 1497.5 1016.4 1499.6 1011.9C1501.8 1007.3 1504.0 1002.7 1506.3 998.2C1508.6 993.7 1510.9 989.2 1513.3 984.7C1515.7 980.2 1518.2 975.7 1520.7 971.3C1523.2 966.8 1525.8 962.4 1528.5 958.0C1531.2 953.7 1534.0 949.3 1536.9 945.1C1539.8 941.0 1542.8 936.9 1546.1 933.0C1549.3 929.1 1552.6 925.4 1556.2 921.9C1559.8 918.4 1563.5 915.1 1567.5 912.2C1571.5 909.2 1575.7 906.5 1580.2 904.2C1584.7 901.8 1589.7 900.2 1594.5 898.2" fill="none" stroke="#000" stroke-width="1.1"/>
<circle cx="1598.06" cy="897.24" r="3.7" fill="#fff" stroke="#000" stroke-width="1.5"/><path d="M1603.66 895.74L1613.40 886.10M1603.66 895.74L1613.13 893.21M1603.66 895.74L1616.86 899.04" stroke="#000" stroke-width="1.5" fill="none"/><path d="M1603.66 895.74L1608.70 890.98L1610.41 897.35Z" fill="#000"/>
<path d="M475.0 1600.6C479.9 1601.7 484.8 1602.9 489.7 1604.0C494.7 1605.1 499.6 1606.3 504.5 1607.4C509.4 1608.5 514.3 1609.6 519.3 1610.7C524.2 1611.8 529.1 1612.8 534.1 1613.9C539.0 1615.0 543.9 1616.0 548.9 1617.1C553.8 1618.1 558.7 1619.2 563.7 1620.2C568.6 1621.2 573.5 1622.2 578.5 1623.2C583.4 1624.2 588.4 1625.2 593.3 1626.2C598.3 1627.2 603.2 1628.2 608.2 1629.1C613.1 1630.1 618.1 1631.0 623.0 1632.0C628.0 1632.9 632.9 1633.8 637.9 1634.8C642.8 1635.7 647.8 1636.6 652.8 1637.5C657.7 1638.4 662.7 1639.2 667.6 1640.1C672.6 1641.0 677.6 1641.8 682.5 1642.7C687.5 1643.5 692.5 1644.4 697.5 1645.2C702.4 1646.0 707.4 1646.8 712.4 1647.6C717.3 1648.4 722.3 1649.2 727.3 1650.0C732.3 1650.7 737.3 1651.5 742.2 1652.2C747.2 1653.0 752.2 1653.7 757.2 1654.5C762.2 1655.2 767.2 1655.9 772.2 1656.6C777.1 1657.3 782.1 1658.0 787.1 1658.6C792.1 1659.3 797.1 1660.0 802.1 1660.6C807.1 1661.3 812.1 1661.9 817.1 1662.5C822.1 1663.2 827.1 1663.8 832.1 1664.4C837.1 1665.0 842.1 1665.5 847.1 1666.1C852.1 1666.7 857.1 1667.2 862.1 1667.8C867.1 1668.3 872.1 1668.9 877.1 1669.4C882.2 1669.9 887.2 1670.4 892.2 1670.9C897.2 1671.4 902.2 1671.9 907.2 1672.3C912.2 1672.8 917.3 1673.3 922.3 1673.7C927.3 1674.2 932.3 1674.7 937.3 1675.2C942.3 1675.8 947.3 1676.3 952.3 1676.9C957.3 1677.5 962.2 1678.2 967.2 1678.9C972.2 1679.7 977.1 1680.4 982.1 1681.3C987.0 1682.2 991.9 1683.2 996.8 1684.3C1001.7 1685.4 1006.6 1686.6 1011.5 1687.9C1016.4 1689.2 1021.2 1690.6 1026.1 1692.0C1030.9 1693.4 1035.7 1695.0 1040.6 1696.4C1045.4 1697.9 1050.3 1699.4 1055.1 1700.7C1060.0 1702.1 1064.9 1703.3 1069.8 1704.6" fill="none" stroke="#000" stroke-width="1.1"/>
<circle cx="1073.46" cy="1704.97" r="3.7" fill="#fff" stroke="#000" stroke-width="1.5"/><path d="M1079.24 1705.48L1091.69 1699.74M1079.24 1705.48L1089.00 1706.33M1079.24 1705.48L1090.52 1713.09" stroke="#000" stroke-width="1.5" fill="none"/><path d="M1079.24 1705.48L1085.60 1702.72L1085.03 1709.30Z" fill="#000"/>
<path d="M475.0 1600.6C479.9 1601.8 484.8 1602.7 489.6 1604.2C494.3 1605.7 498.9 1607.7 503.4 1609.8C507.9 1611.9 512.3 1614.3 516.6 1616.9C520.9 1619.4 525.2 1622.2 529.4 1625.0C533.6 1627.8 537.8 1630.8 542.0 1633.7C546.2 1636.7 550.3 1639.7 554.5 1642.6C558.8 1645.5 563.0 1648.4 567.3 1651.1C571.6 1653.8 576.0 1656.4 580.4 1658.8C584.9 1661.2 589.4 1663.5 594.0 1665.6C598.6 1667.7 603.2 1669.6 607.9 1671.4C612.6 1673.2 617.4 1674.9 622.2 1676.4C627.1 1677.9 632.0 1679.3 636.9 1680.6C641.8 1681.9 646.7 1683.1 651.7 1684.1C656.7 1685.2 661.7 1686.1 666.8 1687.0C671.8 1687.9 676.9 1688.6 682.0 1689.3C687.1 1690.0 692.2 1690.7 697.3 1691.2C702.4 1691.8 707.5 1692.2 712.6 1692.7C717.8 1693.1 722.9 1693.5 728.0 1693.8C733.1 1694.1 738.2 1694.4 743.3 1694.7C748.4 1695.0 753.5 1695.2 758.5 1695.4C763.6 1695.7 768.6 1695.9 773.7 1696.2C778.7 1696.5 783.7 1696.7 788.8 1697.1C793.8 1697.4 798.8 1697.8 803.7 1698.3C808.7 1698.8 813.7 1699.3 818.7 1700.0C823.6 1700.6 828.6 1701.4 833.5 1702.3C838.4 1703.2 843.4 1704.2 848.3 1705.4C853.2 1706.5 858.1 1707.9 863.0 1709.4C867.9 1710.9 872.8 1712.6 877.6 1714.4C882.4 1716.3 887.3 1718.4 892.0 1720.6C896.8 1722.9 901.5 1725.3 906.0 1728.0C910.6 1730.6 915.1 1733.4 919.4 1736.3C923.7 1739.3 927.9 1742.4 931.9 1745.7C935.9 1749.0 939.7 1752.4 943.3 1756.1C946.9 1759.7 950.3 1763.4 953.4 1767.4C956.5 1771.3 959.4 1775.4 962.0 1779.6C964.5 1783.8 966.9 1788.2 969.0 1792.6C971.1 1797.1 972.9 1801.7 974.6 1806.3C976.3 1811.0 977.7 1815.8 978.9 1820.6C980.2 1825.5 981.2 1830.4 982.0 1835.4C982.9 1840.4 983.6 1845.5 984.1 1850.5C984.6 1855.6 985.0 1860.8 985.2 1865.9C985.5 1871.1 985.6 1876.3 985.7 1881.4C985.8 1886.6 985.9 1891.8 986.0 1896.9C986.2 1902.0 986.4 1907.1 986.8 1912.2C987.3 1917.2 987.8 1922.2 988.6 1927.1C989.5 1932.0 990.5 1936.9 991.9 1941.6C993.3 1946.3 995.1 1950.9 997.1 1955.4C999.1 1959.8 1001.5 1964.2 1004.1 1968.3C1006.8 1972.5 1009.7 1976.6 1012.9 1980.4C1016.2 1984.3 1019.7 1987.9 1023.5 1991.4C1027.3 1994.9 1031.4 1998.1 1035.7 2001.2C1040.0 2004.2 1044.9 2006.8 1049.5 2009.6" fill="none" stroke="#000" stroke-width="1.1"/>
<circle cx="1053.00" cy="2010.73" r="3.7" fill="#fff" stroke="#000" stroke-width="1.5"/><path d="M1058.52 2012.52L1071.94 2009.73M1058.52 2012.52L1067.84 2015.55M1058.52 2012.52L1067.80 2022.48" stroke="#000" stroke-width="1.5" fill="none"/><path d="M1058.52 2012.52L1065.34 2011.27L1063.30 2017.55Z" fill="#000"/>
<path d="M475.0 1600.6C479.9 1601.6 485.0 1602.3 489.7 1603.7C494.4 1605.1 498.9 1607.1 503.3 1609.2C507.6 1611.3 511.8 1613.9 515.9 1616.6C520.0 1619.2 523.9 1622.2 527.8 1625.3C531.8 1628.3 535.6 1631.6 539.4 1634.8C543.2 1638.1 547.0 1641.5 550.8 1644.7C554.6 1648.0 558.4 1651.3 562.3 1654.5C566.2 1657.6 570.2 1660.7 574.3 1663.5C578.4 1666.3 582.6 1669.0 586.9 1671.4C591.2 1673.9 595.6 1676.1 600.1 1678.2C604.6 1680.2 609.2 1682.1 613.9 1683.8C618.6 1685.6 623.3 1687.1 628.1 1688.5C633.0 1690.0 637.9 1691.2 642.8 1692.4C647.7 1693.5 652.7 1694.5 657.7 1695.4C662.8 1696.3 667.8 1697.1 672.9 1697.8C678.0 1698.5 683.1 1699.1 688.2 1699.7C693.3 1700.2 698.4 1700.7 703.6 1701.1C708.7 1701.5 713.8 1701.8 718.9 1702.1C723.9 1702.4 729.0 1702.6 734.1 1702.9C739.1 1703.1 744.1 1703.3 749.1 1703.5C754.0 1703.7 759.0 1703.9 763.9 1704.1C768.8 1704.4 773.7 1704.6 778.6 1704.9C783.4 1705.1 788.3 1705.4 793.1 1705.8C798.0 1706.2 802.8 1706.6 807.6 1707.1C812.5 1707.6 817.3 1708.1 822.1 1708.8C826.9 1709.5 831.8 1710.2 836.6 1711.1C841.5 1712.0 846.3 1713.0 851.2 1714.1C856.1 1715.3 861.0 1716.6 865.9 1718.0C870.8 1719.4 875.8 1721.0 880.7 1722.8C885.7 1724.5 890.6 1726.5 895.5 1728.6C900.3 1730.7 905.2 1732.9 909.8 1735.4C914.5 1737.8 919.1 1740.4 923.5 1743.2C927.8 1746.0 932.0 1748.9 936.0 1752.1C939.9 1755.2 943.7 1758.5 947.2 1762.1C950.6 1765.5 953.8 1769.2 956.7 1773.1C959.5 1776.9 961.9 1781.0 964.1 1785.2C966.3 1789.4 968.2 1793.8 969.8 1798.3C971.5 1802.8 972.8 1807.4 973.9 1812.1C975.1 1816.9 976.0 1821.8 976.8 1826.6C977.6 1831.6 978.2 1836.6 978.8 1841.6C979.3 1846.6 979.6 1851.7 980.0 1856.8C980.3 1861.9 980.6 1867.0 980.8 1872.2C981.1 1877.3 981.3 1882.4 981.6 1887.5C981.8 1892.5 982.1 1897.6 982.4 1902.6C982.8 1907.6 983.2 1912.5 983.9 1917.4C984.6 1922.3 985.4 1927.2 986.4 1932.0C987.5 1936.9 988.9 1941.7 990.5 1946.4C992.1 1951.1 994.1 1955.7 996.3 1960.2C998.5 1964.7 1000.9 1969.1 1003.7 1973.2C1006.4 1977.4 1009.4 1981.4 1012.7 1985.2C1016.0 1988.9 1019.6 1992.4 1023.4 1995.6C1027.2 1998.7 1031.2 2001.7 1035.5 2004.2C1039.8 2006.7 1044.6 2008.5 1049.2 2010.6" fill="none" stroke="#000" stroke-width="1.1"/>
<circle cx="1052.76" cy="2011.56" r="3.7" fill="#fff" stroke="#000" stroke-width="1.5"/><path d="M1058.36 2013.06L1071.62 2009.57M1058.36 2013.06L1067.83 2015.59M1058.36 2013.06L1068.15 2022.51" stroke="#000" stroke-width="1.5" fill="none"/><path d="M1058.36 2013.06L1065.11 2011.45L1063.40 2017.82Z" fill="#000"/>
<path d="M475.0 1600.6C480.4 1601.2 486.1 1601.0 491.2 1602.3C496.1 1603.5 500.7 1605.5 505.1 1607.9C509.4 1610.2 513.3 1613.2 517.2 1616.3C521.1 1619.4 524.7 1623.0 528.3 1626.5C531.9 1630.1 535.4 1633.9 539.0 1637.5C542.6 1641.1 546.3 1644.8 550.1 1648.2C553.8 1651.6 557.8 1654.9 561.8 1657.9C565.8 1661.0 570.0 1663.9 574.3 1666.6C578.5 1669.3 582.9 1671.8 587.4 1674.2C591.9 1676.6 596.5 1678.7 601.1 1680.8C605.7 1682.8 610.5 1684.7 615.3 1686.4C620.1 1688.2 625.0 1689.8 629.9 1691.2C634.8 1692.7 639.8 1694.0 644.8 1695.2C649.9 1696.4 654.9 1697.5 660.0 1698.5C665.1 1699.5 670.3 1700.4 675.4 1701.2C680.5 1702.0 685.7 1702.7 690.9 1703.3C696.0 1704.0 701.2 1704.5 706.4 1705.0C711.5 1705.5 716.6 1705.9 721.8 1706.3C726.9 1706.7 732.0 1707.0 737.0 1707.3C742.1 1707.6 747.1 1707.8 752.1 1708.1C757.0 1708.3 762.0 1708.5 766.9 1708.8C771.9 1709.0 776.8 1709.2 781.7 1709.5C786.6 1709.8 791.5 1710.1 796.3 1710.5C801.2 1710.8 806.1 1711.2 811.0 1711.8C815.9 1712.3 820.8 1712.9 825.7 1713.6C830.6 1714.3 835.5 1715.1 840.4 1716.0C845.4 1717.0 850.4 1718.1 855.4 1719.3C860.4 1720.5 865.5 1721.9 870.5 1723.5C875.6 1725.1 880.8 1726.8 885.8 1728.7C890.9 1730.6 896.0 1732.7 901.0 1735.0C906.0 1737.3 910.9 1739.8 915.6 1742.4C920.4 1745.0 925.0 1747.8 929.4 1750.8C933.8 1753.8 938.0 1757.0 941.9 1760.3C945.8 1763.6 949.5 1767.1 952.8 1770.9C956.0 1774.5 959.0 1778.4 961.6 1782.4C964.2 1786.4 966.4 1790.7 968.3 1795.0C970.2 1799.4 971.8 1803.9 973.1 1808.5C974.5 1813.1 975.5 1817.8 976.5 1822.6C977.4 1827.5 978.0 1832.4 978.6 1837.3C979.2 1842.4 979.6 1847.4 980.0 1852.5C980.4 1857.6 980.6 1862.8 980.9 1868.0C981.2 1873.2 981.4 1878.4 981.7 1883.6C982.0 1888.8 982.3 1894.0 982.8 1899.2C983.3 1904.3 983.8 1909.5 984.5 1914.6C985.2 1919.7 986.1 1924.8 987.2 1929.8C988.3 1934.8 989.6 1939.7 991.1 1944.5C992.7 1949.3 994.5 1954.1 996.6 1958.7C998.7 1963.2 1001.1 1967.7 1003.7 1971.9C1006.4 1976.1 1009.3 1980.2 1012.5 1983.9C1015.7 1987.7 1019.2 1991.3 1022.9 1994.6C1026.7 1997.9 1030.8 2000.9 1035.2 2003.6C1039.6 2006.3 1044.5 2008.3 1049.2 2010.6" fill="none" stroke="#000" stroke-width="1.1"/>
<circle cx="1052.76" cy="2011.56" r="3.7" fill="#fff" stroke="#000" stroke-width="1.5"/><path d="M1058.36 2013.06L1071.62 2009.57M1058.36 2013.06L1067.83 2015.59M1058.36 2013.06L1068.15 2022.51" stroke="#000" stroke-width="1.5" fill="none"/><path d="M1058.36 2013.06L1065.11 2011.45L1063.40 2017.82Z" fill="#000"/>
<path d="M475.0 1600.6C480.4 1600.9 485.9 1600.4 491.1 1601.4C496.2 1602.4 501.3 1604.2 505.9 1606.5C510.6 1608.8 515.1 1611.8 519.2 1615.1C523.2 1618.3 527.0 1622.1 530.4 1626.1C533.7 1630.0 536.7 1634.2 539.2 1638.6C541.7 1642.9 543.7 1647.4 545.4 1651.9C547.2 1656.5 548.4 1661.2 549.5 1666.0C550.6 1670.8 551.3 1675.7 551.8 1680.6C552.3 1685.6 552.6 1690.7 552.7 1695.7C552.9 1700.9 552.8 1706.1 552.7 1711.3C552.6 1716.6 552.4 1721.9 552.1 1727.2C551.9 1732.5 551.6 1737.9 551.5 1743.3C551.3 1748.7 551.1 1754.1 551.0 1759.5C551.0 1764.9 551.0 1770.3 551.2 1775.7C551.4 1781.1 551.7 1786.4 552.2 1791.7C552.7 1797.0 553.3 1802.2 554.2 1807.4C555.0 1812.5 556.1 1817.6 557.4 1822.5C558.7 1827.4 560.2 1832.2 562.0 1836.9C563.8 1841.5 565.9 1846.0 568.3 1850.3C570.6 1854.5 573.3 1858.7 576.3 1862.6C579.4 1866.5 582.8 1870.2 586.5 1873.6C590.2 1877.0 594.4 1880.3 598.8 1882.9C603.4 1885.6 608.8 1887.2 613.8 1889.3" fill="none" stroke="#000" stroke-width="1.1"/>
<circle cx="617.36" cy="1890.26" r="3.7" fill="#fff" stroke="#000" stroke-width="1.5"/><path d="M622.96 1891.76L636.22 1888.27M622.96 1891.76L632.43 1894.29M622.96 1891.76L632.75 1901.21" stroke="#000" stroke-width="1.5" fill="none"/><path d="M622.96 1891.76L629.71 1890.15L628.00 1896.52Z" fill="#000"/>
<path d="M475.0 1600.6C480.6 1601.5 486.8 1601.5 491.8 1603.3C496.4 1605.1 500.5 1607.9 504.0 1611.1C507.5 1614.3 510.3 1618.3 512.8 1622.4C515.4 1626.6 517.3 1631.3 519.2 1635.9C521.0 1640.5 522.6 1645.3 524.1 1650.1C525.5 1654.9 526.8 1659.8 528.0 1664.7C529.1 1669.6 530.1 1674.5 530.9 1679.5C531.8 1684.5 532.5 1689.5 533.1 1694.5C533.8 1699.5 534.2 1704.5 534.7 1709.6C535.1 1714.7 535.4 1719.7 535.6 1724.8C535.8 1729.9 536.0 1735.0 536.1 1740.1C536.2 1745.2 536.2 1750.3 536.2 1755.4C536.2 1760.5 536.1 1765.6 536.1 1770.7C536.0 1775.7 535.9 1780.8 535.8 1785.8C535.7 1790.9 535.6 1795.9 535.5 1800.9C535.4 1805.9 535.3 1810.9 535.2 1815.9C535.1 1820.8 535.1 1825.8 535.0 1830.8C535.0 1835.7 534.9 1840.6 534.9 1845.6C534.9 1850.5 534.9 1855.5 535.0 1860.4C535.0 1865.3 535.1 1870.3 535.2 1875.2C535.3 1880.2 535.4 1885.1 535.6 1890.1C535.8 1895.0 536.0 1900.0 536.3 1905.0C536.6 1910.0 536.9 1915.0 537.3 1920.0C537.6 1925.1 538.1 1930.1 538.6 1935.2C539.1 1940.3 539.6 1945.4 540.2 1950.5C540.9 1955.6 541.6 1960.8 542.4 1965.9C543.2 1971.0 544.0 1976.1 545.1 1981.2C546.1 1986.2 547.2 1991.3 548.5 1996.3C549.7 2001.2 551.1 2006.1 552.7 2010.9C554.2 2015.7 555.9 2020.5 557.8 2025.1C559.7 2029.7 561.8 2034.2 564.1 2038.6C566.3 2042.9 568.7 2047.2 571.5 2051.2C574.2 2055.1 577.0 2059.0 580.4 2062.3C583.7 2065.5 587.4 2068.4 591.4 2070.8C595.4 2073.2 599.9 2075.1 604.3 2076.8C608.9 2078.5 613.8 2079.7 618.7 2080.9C623.7 2082.1 628.8 2083.0 634.0 2083.8C639.1 2084.8 644.4 2085.5 649.6 2086.3C654.8 2087.1 660.0 2088.0 665.2 2088.9C670.3 2089.8 675.4 2090.8 680.5 2091.8C685.6 2092.8 690.6 2093.9 695.7 2094.9C700.7 2096.0 705.7 2097.2 710.6 2098.3C715.6 2099.5 720.5 2100.7 725.5 2101.9C730.4 2103.1 735.3 2104.3 740.1 2105.6C745.0 2106.8 749.9 2108.1 754.7 2109.3C759.6 2110.6 764.4 2111.8 769.3 2113.1C774.1 2114.4 778.9 2115.6 783.7 2116.9C788.5 2118.1 793.3 2119.3 798.2 2120.5C803.0 2121.7 807.8 2122.9 812.6 2124.1C817.4 2125.3 822.2 2126.4 827.1 2127.5C831.9 2128.6 836.7 2129.7 841.6 2130.7C846.4 2131.7 851.3 2132.7 856.2 2133.6C861.1 2134.5 866.0 2135.4 870.9 2136.2C875.8 2137.0 880.7 2137.7 885.7 2138.4C890.7 2139.1 895.7 2139.7 900.7 2140.2C905.7 2140.8 910.7 2141.3 915.8 2141.7C920.8 2142.2 925.9 2142.6 930.9 2143.0C936.0 2143.4 941.1 2143.7 946.2 2144.1C951.2 2144.4 956.3 2144.8 961.4 2145.1C966.5 2145.5 971.6 2145.8 976.6 2146.2C981.7 2146.6 986.8 2146.9 991.8 2147.4C996.9 2147.8 1001.9 2148.2 1006.9 2148.8C1011.9 2149.3 1016.9 2149.8 1021.9 2150.5C1026.9 2151.1 1031.8 2151.8 1036.7 2152.6C1041.6 2153.3 1046.5 2154.3 1051.4 2155.1" fill="none" stroke="#000" stroke-width="1.1"/>
<circle cx="1055.06" cy="2155.47" r="3.7" fill="#fff" stroke="#000" stroke-width="1.5"/><path d="M1060.84 2155.98L1073.29 2150.24M1060.84 2155.98L1070.60 2156.83M1060.84 2155.98L1072.12 2163.59" stroke="#000" stroke-width="1.5" fill="none"/><path d="M1060.84 2155.98L1067.20 2153.22L1066.63 2159.80Z" fill="#000"/>
<path d="M475.0 1600.6C479.9 1601.6 485.1 1602.1 489.8 1603.7C494.5 1605.4 499.0 1607.7 503.2 1610.4C507.5 1613.1 511.4 1616.4 515.1 1619.9C518.9 1623.4 522.3 1627.3 525.5 1631.4C528.7 1635.5 531.6 1639.8 534.3 1644.3C536.9 1648.7 539.3 1653.3 541.3 1657.9C543.2 1662.5 544.9 1667.3 546.2 1672.0C547.4 1676.7 548.2 1681.6 548.6 1686.3C549.0 1691.1 549.0 1695.9 548.7 1700.7C548.4 1705.6 547.7 1710.4 547.0 1715.2C546.2 1720.1 545.2 1725.0 544.1 1729.9C543.1 1734.8 541.9 1739.7 540.7 1744.7C539.6 1749.7 538.5 1754.7 537.5 1759.8C536.4 1764.8 535.5 1769.9 534.6 1775.0C533.7 1780.2 532.9 1785.3 532.3 1790.5C531.6 1795.7 531.0 1800.8 530.5 1806.0C530.0 1811.2 529.6 1816.4 529.3 1821.6C529.0 1826.7 528.8 1831.9 528.8 1837.1C528.8 1842.2 528.8 1847.3 529.1 1852.4C529.3 1857.5 529.6 1862.5 530.1 1867.6C530.6 1872.5 531.2 1877.5 532.0 1882.4C532.8 1887.3 533.7 1892.2 534.9 1896.9C536.0 1901.7 537.2 1906.4 538.7 1911.0C540.1 1915.7 541.7 1920.2 543.5 1924.7C545.4 1929.2 547.4 1933.6 549.6 1937.9C551.8 1942.2 554.3 1946.5 556.9 1950.6C559.6 1954.8 562.5 1958.9 565.5 1962.8C568.5 1966.8 571.7 1970.7 575.1 1974.5C578.5 1978.3 582.0 1982.0 585.7 1985.6C589.3 1989.2 593.2 1992.7 597.1 1996.0C601.0 1999.4 605.1 2002.6 609.2 2005.8C613.4 2008.9 617.6 2011.9 622.0 2014.7C626.3 2017.6 630.7 2020.3 635.2 2022.9C639.7 2025.4 644.2 2027.9 648.8 2030.2C653.4 2032.4 658.0 2034.6 662.7 2036.6C667.3 2038.5 672.0 2040.4 676.7 2042.0C681.4 2043.7 686.1 2045.3 690.9 2046.7C695.6 2048.1 700.4 2049.4 705.2 2050.6C710.0 2051.7 714.9 2052.8 719.7 2053.7C724.6 2054.7 729.5 2055.5 734.3 2056.2C739.2 2057.0 744.2 2057.6 749.1 2058.2C754.0 2058.8 759.0 2059.2 763.9 2059.7C768.9 2060.1 773.9 2060.4 778.9 2060.7C783.9 2061.0 788.9 2061.2 793.9 2061.3C798.9 2061.5 803.9 2061.6 809.0 2061.7C814.0 2061.8 819.0 2061.8 824.1 2061.8C829.1 2061.8 834.2 2061.8 839.3 2061.8C844.3 2061.7 849.4 2061.7 854.4 2061.6C859.5 2061.6 864.6 2061.5 869.7 2061.4C874.7 2061.4 879.8 2061.3 884.9 2061.3C889.9 2061.3 895.0 2061.3 900.1 2061.3C905.1 2061.3 910.2 2061.3 915.3 2061.4C920.3 2061.5 925.4 2061.6 930.4 2061.8C935.4 2061.9 940.5 2062.1 945.5 2062.4C950.5 2062.6 955.6 2062.9 960.6 2063.3C965.6 2063.6 970.6 2064.0 975.6 2064.4C980.6 2064.8 985.6 2065.2 990.6 2065.7C995.6 2066.2 1000.6 2066.8 1005.6 2067.3C1010.6 2067.9 1015.6 2068.5 1020.5 2069.2C1025.5 2069.9 1030.5 2070.6 1035.5 2071.3C1040.4 2072.1 1045.4 2072.9 1050.3 2073.7C1055.3 2074.5 1060.3 2075.4 1065.2 2076.3C1070.2 2077.2 1075.1 2078.2 1080.0 2079.2C1085.0 2080.2 1089.9 2081.3 1094.9 2082.3C1099.8 2083.4 1104.7 2084.5 1109.7 2085.5C1114.6 2086.6 1119.5 2087.6 1124.5 2088.6C1129.4 2089.7 1134.3 2090.7 1139.3 2091.6C1144.2 2092.5 1149.2 2093.3 1154.1 2094.1C1159.1 2094.8 1164.0 2095.5 1169.0 2096.1C1174.0 2096.6 1179.0 2097.0 1184.0 2097.3C1189.0 2097.6 1194.0 2097.7 1199.0 2097.7C1204.0 2097.7 1209.0 2097.5 1214.1 2097.1C1219.1 2096.8 1224.1 2096.2 1229.2 2095.6C1234.2 2094.9 1239.2 2094.1 1244.2 2093.1C1249.3 2092.2 1254.3 2091.1 1259.3 2089.8C1264.3 2088.6 1269.2 2087.3 1274.2 2085.8C1279.1 2084.4 1284.0 2082.8 1288.9 2081.1C1293.7 2079.5 1298.6 2077.7 1303.4 2075.9C1308.2 2074.0 1312.9 2072.1 1317.6 2070.0C1322.3 2068.0 1326.9 2065.9 1331.5 2063.7C1336.1 2061.6 1340.6 2059.3 1345.1 2056.9C1349.6 2054.6 1354.0 2052.2 1358.4 2049.7C1362.8 2047.2 1367.1 2044.6 1371.4 2042.0C1375.7 2039.4 1379.9 2036.6 1384.1 2033.8C1388.2 2031.1 1392.3 2028.2 1396.4 2025.3C1400.4 2022.3 1404.4 2019.3 1408.4 2016.3C1412.3 2013.2 1416.2 2010.1 1420.0 2006.9C1423.9 2003.7 1427.6 2000.4 1431.3 1997.1C1435.0 1993.7 1438.7 1990.3 1442.3 1986.9C1445.9 1983.4 1449.4 1979.9 1452.9 1976.3C1456.4 1972.7 1459.8 1969.1 1463.1 1965.4C1466.5 1961.7 1469.8 1957.9 1473.0 1954.1C1476.2 1950.3 1479.4 1946.5 1482.5 1942.5C1485.6 1938.6 1488.6 1934.6 1491.6 1930.6C1494.6 1926.6 1497.5 1922.5 1500.3 1918.4C1503.2 1914.2 1505.9 1910.1 1508.6 1905.8C1511.4 1901.6 1514.0 1897.3 1516.6 1893.0C1519.2 1888.7 1521.7 1884.3 1524.1 1879.9C1526.6 1875.5 1529.0 1871.0 1531.3 1866.5C1533.6 1862.0 1535.8 1857.5 1538.0 1852.9C1540.2 1848.3 1542.2 1843.7 1544.3 1839.0C1546.3 1834.4 1548.3 1829.7 1550.2 1825.0C1552.1 1820.2 1554.0 1815.5 1555.8 1810.7C1557.6 1805.9 1559.4 1801.1 1561.2 1796.3C1562.9 1791.5 1564.6 1786.6 1566.3 1781.8C1568.0 1776.9 1569.6 1772.1 1571.3 1767.2C1572.9 1762.4 1574.6 1757.5 1576.2 1752.6C1577.8 1747.8 1579.4 1742.9 1581.0 1738.0C1582.7 1733.2 1584.3 1728.3 1585.9 1723.5C1587.6 1718.6 1589.2 1713.8 1590.9 1709.0C1592.6 1704.2 1594.3 1699.4 1596.0 1694.6C1597.7 1689.9 1599.5 1685.1 1601.3 1680.4C1603.1 1675.7 1604.9 1671.0 1606.8 1666.4C1608.7 1661.8 1610.7 1657.1 1612.7 1652.6C1614.7 1648.0 1616.8 1643.5 1618.9 1639.0C1621.1 1634.6 1623.3 1630.1 1625.6 1625.8C1627.9 1621.4 1630.3 1617.1 1632.7 1612.9C1635.2 1608.6 1637.7 1604.4 1640.4 1600.3C1643.1 1596.2 1645.8 1592.1 1648.7 1588.2C1651.6 1584.2 1654.5 1580.3 1657.6 1576.5C1660.7 1572.6 1663.9 1568.9 1667.3 1565.2C1670.6 1561.6 1674.1 1558.0 1677.7 1554.5C1681.3 1551.0 1685.1 1547.6 1688.9 1544.4C1692.8 1541.1 1696.8 1537.9 1700.9 1534.8C1705.0 1531.8 1709.2 1528.8 1713.5 1526.0C1717.8 1523.2 1722.2 1520.5 1726.7 1517.9C1731.2 1515.4 1735.7 1512.9 1740.4 1510.7C1745.0 1508.4 1749.7 1506.3 1754.5 1504.4C1759.3 1502.4 1764.1 1500.7 1769.0 1499.1C1773.8 1497.5 1778.7 1496.0 1783.7 1494.8C1788.6 1493.6 1793.6 1492.5 1798.6 1491.7C1803.5 1490.8 1808.6 1490.2 1813.6 1489.7C1818.6 1489.3 1823.6 1489.1 1828.6 1489.1C1833.6 1489.1 1838.5 1489.5 1843.5 1489.8" fill="none" stroke="#000" stroke-width="1.1"/>
<circle cx="1847.22" cy="1489.56" r="3.7" fill="#fff" stroke="#000" stroke-width="1.5"/><path d="M1853.01 1489.25L1864.54 1481.84M1853.01 1489.25L1862.80 1488.74M1853.01 1489.25L1865.24 1495.22" stroke="#000" stroke-width="1.5" fill="none"/><path d="M1853.01 1489.25L1858.93 1485.64L1859.28 1492.23Z" fill="#000"/>
<path d="M1240.1 578.4L1372.7 705.8" fill="none" stroke="#000" stroke-width="1.1"/>
<circle cx="1375.40" cy="708.41" r="3.7" fill="#fff" stroke="#000" stroke-width="1.5"/><path d="M1379.57 712.44L1392.86 715.81M1379.57 712.44L1386.62 719.24M1379.57 712.44L1383.55 725.45" stroke="#000" stroke-width="1.5" fill="none"/><path d="M1379.57 712.44L1386.26 714.30L1381.67 719.05Z" fill="#000"/>
<path d="M1240.1 578.4C1245.5 578.7 1251.3 578.3 1256.4 579.4C1261.0 580.5 1265.4 582.4 1269.3 584.8C1273.2 587.2 1276.6 590.3 1279.7 593.6C1282.9 597.1 1285.5 601.1 1288.1 605.1C1290.7 609.3 1292.9 613.8 1295.1 618.3C1297.4 622.9 1299.4 627.7 1301.5 632.4C1303.6 637.1 1305.7 641.8 1307.8 646.5C1310.0 651.2 1312.2 655.7 1314.4 660.3C1316.5 664.9 1318.7 669.4 1320.9 674.0C1323.0 678.5 1325.1 683.0 1327.1 687.6C1329.2 692.1 1331.1 696.7 1333.0 701.3C1334.8 706.0 1336.6 710.6 1338.2 715.4C1339.8 720.1 1341.3 725.0 1342.6 729.8C1344.0 734.7 1345.2 739.7 1346.4 744.6C1347.7 749.5 1348.8 754.5 1350.1 759.4C1351.4 764.2 1352.7 769.1 1354.2 773.8C1355.8 778.5 1357.4 783.2 1359.3 787.6C1361.3 792.0 1363.4 796.3 1365.9 800.4C1368.5 804.4 1371.3 808.3 1374.6 811.8C1377.9 815.3 1382.1 818.2 1385.9 821.4" fill="none" stroke="#000" stroke-width="1.1"/>
<circle cx="1389.55" cy="822.05" r="3.7" fill="#fff" stroke="#000" stroke-width="1.5"/><path d="M1395.26 823.06L1408.16 818.43M1395.26 823.06L1404.91 824.76M1395.26 823.06L1405.83 831.63" stroke="#000" stroke-width="1.5" fill="none"/><path d="M1395.26 823.06L1401.84 820.87L1400.70 827.37Z" fill="#000"/>
<path d="M1549.3 719.8C1554.5 721.3 1560.3 721.9 1564.8 724.2C1568.9 726.4 1572.5 729.6 1575.3 733.0C1578.2 736.5 1580.2 740.7 1581.8 744.9C1583.5 749.2 1584.4 753.9 1585.0 758.7C1585.7 763.6 1585.7 768.7 1585.6 773.8C1585.6 779.0 1585.0 784.4 1584.5 789.7C1583.9 795.1 1583.0 800.5 1582.2 805.9C1581.4 811.2 1580.3 816.6 1579.5 821.9C1578.7 827.0 1577.8 832.2 1577.4 837.2C1576.9 842.2 1576.5 847.1 1576.7 851.9C1577.0 856.5 1577.4 861.2 1578.6 865.6C1579.9 870.0 1581.6 874.3 1584.1 878.2C1586.7 882.3 1590.8 885.7 1594.1 889.5" fill="none" stroke="#000" stroke-width="1.1"/>
<circle cx="1597.75" cy="890.15" r="3.7" fill="#fff" stroke="#000" stroke-width="1.5"/><path d="M1603.46 891.16L1616.36 886.53M1603.46 891.16L1613.11 892.86M1603.46 891.16L1614.03 899.73" stroke="#000" stroke-width="1.5" fill="none"/><path d="M1603.46 891.16L1610.04 888.97L1608.90 895.47Z" fill="#000"/>
<path d="M1529.3 824.9C1534.8 825.8 1541.1 825.4 1545.8 827.6C1550.3 829.8 1553.9 833.7 1557.1 837.6C1560.5 841.7 1562.8 846.9 1565.5 851.7C1568.2 856.6 1570.3 862.0 1573.1 866.6C1575.9 871.1 1578.5 875.9 1582.2 879.2C1585.8 882.4 1590.8 883.8 1595.0 886.1" fill="none" stroke="#000" stroke-width="1.1"/>
<circle cx="1598.49" cy="887.39" r="3.7" fill="#fff" stroke="#000" stroke-width="1.5"/><path d="M1603.94 889.37L1617.45 887.05M1603.94 889.37L1613.15 892.73M1603.94 889.37L1612.86 899.65" stroke="#000" stroke-width="1.5" fill="none"/><path d="M1603.94 889.37L1610.80 888.36L1608.54 894.56Z" fill="#000"/>
<path d="M1800.2 893.0C1806.0 893.2 1812.0 892.8 1817.5 893.6C1822.9 894.3 1828.2 895.7 1833.2 897.6C1838.0 899.4 1842.7 901.7 1846.9 904.5C1851.2 907.2 1855.2 910.4 1858.7 913.9C1862.3 917.4 1865.6 921.3 1868.4 925.5C1871.3 929.6 1873.8 934.0 1875.8 938.6C1877.9 943.1 1879.6 948.0 1880.9 952.9C1882.1 957.8 1882.9 962.8 1883.5 967.9C1884.0 973.0 1884.1 978.2 1884.1 983.4C1884.1 988.5 1883.8 993.8 1883.5 998.9C1883.2 1004.1 1882.7 1009.3 1882.1 1014.4C1881.6 1019.5 1880.9 1024.6 1880.2 1029.6C1879.5 1034.7 1878.7 1039.7 1877.8 1044.7C1876.9 1049.7 1876.0 1054.7 1875.0 1059.6C1874.0 1064.5 1872.9 1069.5 1871.7 1074.4C1870.6 1079.2 1869.3 1084.1 1868.1 1089.0C1866.8 1093.8 1865.5 1098.7 1864.1 1103.5C1862.7 1108.3 1861.2 1113.2 1859.8 1118.0C1858.3 1122.8 1856.7 1127.6 1855.2 1132.3C1853.6 1137.1 1852.0 1141.9 1850.3 1146.7C1848.7 1151.5 1847.0 1156.3 1845.3 1161.0C1843.6 1165.8 1841.8 1170.6 1840.0 1175.4C1838.3 1180.2 1836.5 1185.0 1834.7 1189.8C1832.8 1194.6 1831.0 1199.4 1829.2 1204.2C1827.3 1209.0 1825.4 1213.8 1823.6 1218.7C1821.7 1223.5 1819.8 1228.4 1818.0 1233.3C1816.1 1238.2 1814.2 1243.1 1812.3 1248.0C1810.5 1252.9 1808.6 1257.8 1806.7 1262.8C1804.9 1267.7 1803.1 1272.7 1801.3 1277.7C1799.6 1282.7 1797.8 1287.7 1796.2 1292.7C1794.5 1297.7 1792.9 1302.7 1791.4 1307.8C1790.0 1312.8 1788.5 1317.8 1787.2 1322.9C1786.0 1327.9 1784.8 1332.9 1783.7 1338.0C1782.6 1343.0 1781.7 1348.0 1780.9 1353.1C1780.2 1358.1 1779.5 1363.1 1779.1 1368.1C1778.6 1373.1 1778.3 1378.1 1778.2 1383.1C1778.1 1388.1 1778.2 1393.1 1778.5 1398.0C1778.8 1403.0 1779.3 1407.9 1780.1 1412.8C1780.9 1417.8 1781.8 1422.7 1783.1 1427.5C1784.3 1432.4 1785.8 1437.3 1787.6 1442.0C1789.4 1446.8 1791.3 1451.6 1793.8 1456.1C1796.2 1460.5 1798.9 1464.9 1802.1 1468.6C1805.3 1472.3 1808.8 1475.8 1812.9 1478.4C1817.0 1481.1 1821.7 1483.2 1826.7 1484.3C1832.0 1485.6 1838.1 1484.9 1843.8 1485.2" fill="none" stroke="#000" stroke-width="1.1"/>
<circle cx="1847.45" cy="1485.85" r="3.7" fill="#fff" stroke="#000" stroke-width="1.5"/><path d="M1853.16 1486.86L1866.06 1482.23M1853.16 1486.86L1862.81 1488.56M1853.16 1486.86L1863.73 1495.43" stroke="#000" stroke-width="1.5" fill="none"/><path d="M1853.16 1486.86L1859.74 1484.67L1858.60 1491.17Z" fill="#000"/>
<path d="M521.3 1865.3L613.1 1865.3" fill="none" stroke="#000" stroke-width="1.1"/>
<circle cx="616.80" cy="1865.30" r="3.7" fill="#fff" stroke="#000" stroke-width="1.5"/><path d="M622.60 1865.30L634.50 1858.50M622.60 1865.30L632.40 1865.30M622.60 1865.30L634.50 1871.90" stroke="#000" stroke-width="1.5" fill="none"/><path d="M622.60 1865.30L628.70 1862.00L628.70 1868.60Z" fill="#000"/>
<path d="M893.1 1835.7C908.7 1836.7 923.7 1837.2 940.0 1838.6C957.8 1840.1 977.1 1842.8 995.7 1844.8" fill="none" stroke="#000" stroke-width="1.1"/>
<circle cx="999.36" cy="1845.17" r="3.7" fill="#fff" stroke="#000" stroke-width="1.5"/><path d="M1005.14 1845.68L1017.59 1839.94M1005.14 1845.68L1014.90 1846.53M1005.14 1845.68L1016.42 1853.29" stroke="#000" stroke-width="1.5" fill="none"/><path d="M1005.14 1845.68L1011.50 1842.92L1010.93 1849.50Z" fill="#000"/>
<rect x="1054.40" y="12.40" width="219.20" height="26.00" fill="#f4f4f4"/>
<rect x="1052.40" y="10.40" width="223.20" height="77.70" fill="none" stroke="#000" stroke-width="1.4"/>
<path d="M1052.40 39.40H1275.60" stroke="#000" stroke-width="1.5"/>
<path d="M1052.40 63.60H1275.60" stroke="#000" stroke-width="1.5"/>
<path d="M1126.00 63.60V88.10" stroke="#222" stroke-width="1.3"/>
<path d="M1219.50 63.60V88.10" stroke="#222" stroke-width="1.3"/>
<text x="1058.90" y="28.00" textLength="134.35" lengthAdjust="spacingAndGlyphs" font-weight="bold">tmp_holdsqueue</text>
<text x="1220.69" y="29.30" textLength="47.71" lengthAdjust="spacingAndGlyphs">[table]</text>
<text x="1057.20" y="56.30" textLength="13.73" lengthAdjust="spacingAndGlyphs">...</text>
<text x="1057.20" y="79.90" textLength="25.81" lengthAdjust="spacingAndGlyphs">&lt; 3</text>
<text x="1149.04" y="79.90" textLength="47.43" lengthAdjust="spacingAndGlyphs">0 rows</text>
<rect x="1083.60" y="117.60" width="160.60" height="26.00" fill="#f4f4f4"/>
<rect x="1081.60" y="115.60" width="164.60" height="77.70" fill="none" stroke="#000" stroke-width="1.4"/>
<path d="M1081.60 144.60H1246.20" stroke="#000" stroke-width="1.5"/>
<path d="M1081.60 168.80H1246.20" stroke="#000" stroke-width="1.5"/>
<path d="M1130.00 168.80V193.30" stroke="#222" stroke-width="1.3"/>
<path d="M1199.40 168.80V193.30" stroke="#222" stroke-width="1.3"/>
<text x="1088.10" y="133.20" textLength="85.60" lengthAdjust="spacingAndGlyphs" font-weight="bold">club_holds</text>
<text x="1191.29" y="134.50" textLength="47.71" lengthAdjust="spacingAndGlyphs">[table]</text>
<text x="1086.40" y="161.50" textLength="13.73" lengthAdjust="spacingAndGlyphs">...</text>
<text x="1086.40" y="185.10" textLength="25.81" lengthAdjust="spacingAndGlyphs">&lt; 3</text>
<text x="1140.99" y="185.10" textLength="47.43" lengthAdjust="spacingAndGlyphs">0 rows</text>
<text x="1214.79" y="185.10" textLength="25.81" lengthAdjust="spacingAndGlyphs">1 &gt;</text>
<rect x="1067.70" y="223.40" width="190.70" height="26.00" fill="#f4f4f4"/>
<rect x="1065.70" y="221.40" width="194.70" height="77.20" fill="none" stroke="#000" stroke-width="1.4"/>
<path d="M1065.70 250.40H1260.40" stroke="#000" stroke-width="1.5"/>
<path d="M1065.70 274.60H1260.40" stroke="#000" stroke-width="1.5"/>
<path d="M1130.00 274.60V298.60" stroke="#222" stroke-width="1.3"/>
<path d="M1214.00 274.60V298.60" stroke="#222" stroke-width="1.3"/>
<text x="1072.20" y="239.00" textLength="110.72" lengthAdjust="spacingAndGlyphs" font-weight="bold">cover_images</text>
<text x="1205.49" y="240.30" textLength="47.71" lengthAdjust="spacingAndGlyphs">[table]</text>
<text x="1070.50" y="267.30" textLength="13.73" lengthAdjust="spacingAndGlyphs">...</text>
<text x="1070.50" y="290.90" textLength="25.81" lengthAdjust="spacingAndGlyphs">&lt; 2</text>
<text x="1148.29" y="290.90" textLength="47.43" lengthAdjust="spacingAndGlyphs">0 rows</text>
<rect x="1102.60" y="328.60" width="122.70" height="26.00" fill="#f4f4f4"/>
<rect x="1100.60" y="326.60" width="126.70" height="77.30" fill="none" stroke="#000" stroke-width="1.4"/>
<path d="M1100.60 355.60H1227.30" stroke="#000" stroke-width="1.5"/>
<path d="M1100.60 379.80H1227.30" stroke="#000" stroke-width="1.5"/>
<path d="M1141.90 379.80V403.90" stroke="#222" stroke-width="1.3"/>
<path d="M1203.40 379.80V403.90" stroke="#222" stroke-width="1.3"/>
<text x="1107.10" y="344.20" textLength="53.83" lengthAdjust="spacingAndGlyphs" font-weight="bold">recalls</text>
<text x="1172.39" y="345.50" textLength="47.71" lengthAdjust="spacingAndGlyphs">[table]</text>
<text x="1105.40" y="372.50" textLength="13.73" lengthAdjust="spacingAndGlyphs">...</text>
<text x="1105.40" y="396.10" textLength="25.81" lengthAdjust="spacingAndGlyphs">&lt; 4</text>
<text x="1148.94" y="396.10" textLength="47.43" lengthAdjust="spacingAndGlyphs">0 rows</text>
<rect x="1055.80" y="434.00" width="214.60" height="26.00" fill="#f4f4f4"/>
<rect x="1053.80" y="432.00" width="218.60" height="77.30" fill="none" stroke="#000" stroke-width="1.4"/>
<path d="M1053.80 461.00H1272.40" stroke="#000" stroke-width="1.5"/>
<path d="M1053.80 485.20H1272.40" stroke="#000" stroke-width="1.5"/>
<path d="M1126.00 485.20V509.30" stroke="#222" stroke-width="1.3"/>
<path d="M1218.10 485.20V509.30" stroke="#222" stroke-width="1.3"/>
<text x="1060.30" y="449.60" textLength="130.19" lengthAdjust="spacingAndGlyphs" font-weight="bold">hold_fill_targets</text>
<text x="1217.49" y="450.90" textLength="47.71" lengthAdjust="spacingAndGlyphs">[table]</text>
<text x="1058.60" y="477.90" textLength="13.73" lengthAdjust="spacingAndGlyphs">...</text>
<text x="1058.60" y="501.50" textLength="25.81" lengthAdjust="spacingAndGlyphs">&lt; 4</text>
<text x="1148.34" y="501.50" textLength="47.43" lengthAdjust="spacingAndGlyphs">0 rows</text>
<rect x="1090.60" y="539.30" width="146.80" height="26.00" fill="#f4f4f4"/>
<rect x="1088.60" y="537.30" width="150.80" height="77.30" fill="none" stroke="#000" stroke-width="1.4"/>
<path d="M1088.60 566.30H1239.40" stroke="#000" stroke-width="1.5"/>
<path d="M1088.60 590.50H1239.40" stroke="#000" stroke-width="1.5"/>
<path d="M1132.70 590.50V614.60" stroke="#222" stroke-width="1.3"/>
<path d="M1196.50 590.50V614.60" stroke="#222" stroke-width="1.3"/>
<text x="1095.10" y="554.90" textLength="74.09" lengthAdjust="spacingAndGlyphs" font-weight="bold">bookings</text>
<text x="1184.49" y="556.20" textLength="47.71" lengthAdjust="spacingAndGlyphs">[table]</text>
<text x="1093.40" y="583.20" textLength="13.73" lengthAdjust="spacingAndGlyphs">...</text>
<text x="1093.40" y="606.80" textLength="25.81" lengthAdjust="spacingAndGlyphs">&lt; 4</text>
<text x="1140.88" y="606.80" textLength="47.43" lengthAdjust="spacingAndGlyphs">0 rows</text>
<text x="1207.99" y="606.80" textLength="25.81" lengthAdjust="spacingAndGlyphs">2 &gt;</text>
<rect x="1389.20" y="680.70" width="157.40" height="26.00" fill="#f4f4f4"/>
<rect x="1387.20" y="678.70" width="161.40" height="77.10" fill="none" stroke="#000" stroke-width="1.4"/>
<path d="M1387.20 707.70H1548.60" stroke="#000" stroke-width="1.5"/>
<path d="M1387.20 731.90H1548.60" stroke="#000" stroke-width="1.5"/>
<path d="M1433.90 731.90V755.80" stroke="#222" stroke-width="1.3"/>
<path d="M1501.80 731.90V755.80" stroke="#222" stroke-width="1.3"/>
<text x="1393.70" y="696.30" textLength="83.41" lengthAdjust="spacingAndGlyphs" font-weight="bold">old_issues</text>
<text x="1493.69" y="697.60" textLength="47.71" lengthAdjust="spacingAndGlyphs">[table]</text>
<text x="1392.00" y="724.60" textLength="13.73" lengthAdjust="spacingAndGlyphs">...</text>
<text x="1392.00" y="748.20" textLength="25.81" lengthAdjust="spacingAndGlyphs">&lt; 4</text>
<text x="1444.13" y="748.20" textLength="47.43" lengthAdjust="spacingAndGlyphs">0 rows</text>
<text x="1517.19" y="748.20" textLength="25.81" lengthAdjust="spacingAndGlyphs">1 &gt;</text>
<rect x="1069.40" y="752.70" width="188.00" height="26.00" fill="#f4f4f4"/>
<rect x="1067.40" y="750.70" width="192.00" height="77.30" fill="none" stroke="#000" stroke-width="1.4"/>
<path d="M1067.40 779.70H1259.40" stroke="#000" stroke-width="1.5"/>
<path d="M1067.40 803.90H1259.40" stroke="#000" stroke-width="1.5"/>
<path d="M1130.00 803.90V828.00" stroke="#222" stroke-width="1.3"/>
<path d="M1213.90 803.90V828.00" stroke="#222" stroke-width="1.3"/>
<text x="1073.90" y="768.30" textLength="108.71" lengthAdjust="spacingAndGlyphs" font-weight="bold">item_bundles</text>
<text x="1204.49" y="769.60" textLength="47.71" lengthAdjust="spacingAndGlyphs">[table]</text>
<text x="1072.20" y="796.60" textLength="13.73" lengthAdjust="spacingAndGlyphs">...</text>
<text x="1072.20" y="820.20" textLength="25.81" lengthAdjust="spacingAndGlyphs">&lt; 2</text>
<text x="1148.24" y="820.20" textLength="47.43" lengthAdjust="spacingAndGlyphs">0 rows</text>
<rect x="1407.70" y="785.80" width="118.90" height="26.00" fill="#f4f4f4"/>
<rect x="1405.70" y="783.80" width="122.90" height="77.40" fill="none" stroke="#000" stroke-width="1.4"/>
<path d="M1405.70 812.80H1528.60" stroke="#000" stroke-width="1.5"/>
<path d="M1405.70 837.00H1528.60" stroke="#000" stroke-width="1.5"/>
<path d="M1440.60 837.00V861.20" stroke="#222" stroke-width="1.3"/>
<path d="M1495.30 837.00V861.20" stroke="#222" stroke-width="1.3"/>
<text x="1412.20" y="801.40" textLength="50.91" lengthAdjust="spacingAndGlyphs" font-weight="bold">issues</text>
<text x="1473.69" y="802.70" textLength="47.71" lengthAdjust="spacingAndGlyphs">[table]</text>
<text x="1410.50" y="829.70" textLength="13.73" lengthAdjust="spacingAndGlyphs">...</text>
<text x="1410.50" y="853.30" textLength="25.81" lengthAdjust="spacingAndGlyphs">&lt; 4</text>
<text x="1444.23" y="853.30" textLength="47.43" lengthAdjust="spacingAndGlyphs">0 rows</text>
<text x="1497.19" y="853.30" textLength="25.81" lengthAdjust="spacingAndGlyphs">1 &gt;</text>
<rect x="1615.90" y="853.90" width="181.60" height="26.00" fill="#f4f4f4"/>
<rect x="1613.90" y="851.90" width="185.60" height="77.20" fill="none" stroke="#000" stroke-width="1.4"/>
<path d="M1613.90 880.90H1799.50" stroke="#000" stroke-width="1.5"/>
<path d="M1613.90 905.10H1799.50" stroke="#000" stroke-width="1.5"/>
<path d="M1668.60 905.10V929.10" stroke="#222" stroke-width="1.3"/>
<path d="M1744.80 905.10V929.10" stroke="#222" stroke-width="1.3"/>
<text x="1620.40" y="869.50" textLength="103.03" lengthAdjust="spacingAndGlyphs" font-weight="bold">accountlines</text>
<text x="1744.59" y="870.80" textLength="47.71" lengthAdjust="spacingAndGlyphs">[table]</text>
<text x="1618.70" y="897.80" textLength="13.73" lengthAdjust="spacingAndGlyphs">...</text>
<text x="1618.70" y="921.40" textLength="25.81" lengthAdjust="spacingAndGlyphs">&lt; 9</text>
<text x="1682.98" y="921.40" textLength="47.43" lengthAdjust="spacingAndGlyphs">0 rows</text>
<text x="1768.09" y="921.40" textLength="25.81" lengthAdjust="spacingAndGlyphs">3 &gt;</text>
<rect x="1047.80" y="858.10" width="232.50" height="26.00" fill="#f4f4f4"/>
<rect x="1045.80" y="856.10" width="236.50" height="77.10" fill="none" stroke="#000" stroke-width="1.4"/>
<path d="M1045.80 885.10H1282.30" stroke="#000" stroke-width="1.5"/>
<path d="M1045.80 909.30H1282.30" stroke="#000" stroke-width="1.5"/>
<path d="M1123.30 909.30V933.20" stroke="#222" stroke-width="1.3"/>
<path d="M1221.90 909.30V933.20" stroke="#222" stroke-width="1.3"/>
<text x="1052.30" y="873.70" textLength="144.71" lengthAdjust="spacingAndGlyphs" font-weight="bold">item_group_items</text>
<text x="1227.39" y="875.00" textLength="47.71" lengthAdjust="spacingAndGlyphs">[table]</text>
<text x="1050.60" y="902.00" textLength="13.73" lengthAdjust="spacingAndGlyphs">...</text>
<text x="1050.60" y="925.60" textLength="25.81" lengthAdjust="spacingAndGlyphs">&lt; 2</text>
<text x="1148.88" y="925.60" textLength="47.43" lengthAdjust="spacingAndGlyphs">0 rows</text>
<rect x="1035.90" y="963.30" width="256.10" height="26.00" fill="#f4f4f4"/>
<rect x="1033.90" y="961.30" width="260.10" height="77.20" fill="none" stroke="#000" stroke-width="1.4"/>
<path d="M1033.90 990.30H1294.00" stroke="#000" stroke-width="1.5"/>
<path d="M1033.90 1014.50H1294.00" stroke="#000" stroke-width="1.5"/>
<path d="M1119.40 1014.50V1038.50" stroke="#222" stroke-width="1.3"/>
<path d="M1225.90 1014.50V1038.50" stroke="#222" stroke-width="1.3"/>
<text x="1040.40" y="978.90" textLength="164.94" lengthAdjust="spacingAndGlyphs" font-weight="bold">items_last_borrower</text>
<text x="1239.09" y="980.20" textLength="47.71" lengthAdjust="spacingAndGlyphs">[table]</text>
<text x="1038.70" y="1007.20" textLength="13.73" lengthAdjust="spacingAndGlyphs">...</text>
<text x="1038.70" y="1030.80" textLength="25.81" lengthAdjust="spacingAndGlyphs">&lt; 2</text>
<text x="1148.94" y="1030.80" textLength="47.43" lengthAdjust="spacingAndGlyphs">0 rows</text>
<rect x="1007.90" y="1068.70" width="312.50" height="26.00" fill="#f4f4f4"/>
<rect x="1005.90" y="1066.70" width="316.50" height="77.30" fill="none" stroke="#000" stroke-width="1.4"/>
<path d="M1005.90 1095.70H1322.40" stroke="#000" stroke-width="1.5"/>
<path d="M1005.90 1119.90H1322.40" stroke="#000" stroke-width="1.5"/>
<path d="M1104.70 1119.90V1144.00" stroke="#222" stroke-width="1.3"/>
<path d="M1224.70 1119.90V1144.00" stroke="#222" stroke-width="1.3"/>
<text x="1012.40" y="1084.30" textLength="211.73" lengthAdjust="spacingAndGlyphs" font-weight="bold">preservation_trains_items</text>
<text x="1267.49" y="1085.60" textLength="47.71" lengthAdjust="spacingAndGlyphs">[table]</text>
<text x="1010.70" y="1112.60" textLength="13.73" lengthAdjust="spacingAndGlyphs">...</text>
<text x="1010.70" y="1136.20" textLength="25.81" lengthAdjust="spacingAndGlyphs">&lt; 3</text>
<text x="1140.99" y="1136.20" textLength="47.43" lengthAdjust="spacingAndGlyphs">0 rows</text>
<text x="1290.99" y="1136.20" textLength="25.81" lengthAdjust="spacingAndGlyphs">1 &gt;</text>
<rect x="1067.90" y="1173.80" width="190.60" height="26.00" fill="#f4f4f4"/>
<rect x="1065.90" y="1171.80" width="194.60" height="77.30" fill="none" stroke="#000" stroke-width="1.4"/>
<path d="M1065.90 1200.80H1260.50" stroke="#000" stroke-width="1.5"/>
<path d="M1065.90 1225.00H1260.50" stroke="#000" stroke-width="1.5"/>
<path d="M1130.00 1225.00V1249.10" stroke="#222" stroke-width="1.3"/>
<path d="M1214.20 1225.00V1249.10" stroke="#222" stroke-width="1.3"/>
<text x="1072.40" y="1189.40" textLength="110.79" lengthAdjust="spacingAndGlyphs" font-weight="bold">return_claims</text>
<text x="1205.59" y="1190.70" textLength="47.71" lengthAdjust="spacingAndGlyphs">[table]</text>
<text x="1070.70" y="1217.70" textLength="13.73" lengthAdjust="spacingAndGlyphs">...</text>
<text x="1070.70" y="1241.30" textLength="25.81" lengthAdjust="spacingAndGlyphs">&lt; 5</text>
<text x="1148.38" y="1241.30" textLength="47.43" lengthAdjust="spacingAndGlyphs">0 rows</text>
<rect x="1079.70" y="1279.50" width="167.00" height="26.00" fill="#f4f4f4"/>
<rect x="1077.70" y="1277.50" width="171.00" height="76.80" fill="none" stroke="#000" stroke-width="1.4"/>
<path d="M1077.70 1306.50H1248.70" stroke="#000" stroke-width="1.5"/>
<path d="M1077.70 1330.70H1248.70" stroke="#000" stroke-width="1.5"/>
<path d="M1134.20 1330.70V1354.30" stroke="#222" stroke-width="1.3"/>
<path d="M1210.00 1330.70V1354.30" stroke="#222" stroke-width="1.3"/>
<text x="1084.20" y="1295.10" textLength="90.63" lengthAdjust="spacingAndGlyphs" font-weight="bold">serialitems</text>
<text x="1193.79" y="1296.40" textLength="47.71" lengthAdjust="spacingAndGlyphs">[table]</text>
<text x="1082.50" y="1323.40" textLength="13.73" lengthAdjust="spacingAndGlyphs">...</text>
<text x="1082.50" y="1347.00" textLength="25.81" lengthAdjust="spacingAndGlyphs">&lt; 2</text>
<text x="1148.38" y="1347.00" textLength="47.43" lengthAdjust="spacingAndGlyphs">0 rows</text>
<rect x="1055.90" y="1420.50" width="214.60" height="26.00" fill="#f4f4f4"/>
<rect x="1053.90" y="1418.50" width="218.60" height="77.50" fill="none" stroke="#000" stroke-width="1.4"/>
<path d="M1053.90 1447.50H1272.50" stroke="#000" stroke-width="1.5"/>
<path d="M1053.90 1471.70H1272.50" stroke="#000" stroke-width="1.5"/>
<path d="M1125.90 1471.70V1496.00" stroke="#222" stroke-width="1.3"/>
<path d="M1217.80 1471.70V1496.00" stroke="#222" stroke-width="1.3"/>
<text x="1060.40" y="1436.10" textLength="130.87" lengthAdjust="spacingAndGlyphs" font-weight="bold">creator_batches</text>
<text x="1217.59" y="1437.40" textLength="47.71" lengthAdjust="spacingAndGlyphs">[table]</text>
<text x="1058.70" y="1464.40" textLength="13.73" lengthAdjust="spacingAndGlyphs">...</text>
<text x="1058.70" y="1488.00" textLength="25.81" lengthAdjust="spacingAndGlyphs">&lt; 3</text>
<text x="1148.13" y="1488.00" textLength="47.43" lengthAdjust="spacingAndGlyphs">0 rows</text>
<rect x="1055.90" y="1561.70" width="214.60" height="26.00" fill="#f4f4f4"/>
<rect x="1053.90" y="1559.70" width="218.60" height="77.30" fill="none" stroke="#000" stroke-width="1.4"/>
<path d="M1053.90 1588.70H1272.50" stroke="#000" stroke-width="1.5"/>
<path d="M1053.90 1612.90H1272.50" stroke="#000" stroke-width="1.5"/>
<path d="M1125.90 1612.90V1637.00" stroke="#222" stroke-width="1.3"/>
<path d="M1217.80 1612.90V1637.00" stroke="#222" stroke-width="1.3"/>
<text x="1060.40" y="1577.30" textLength="131.02" lengthAdjust="spacingAndGlyphs" font-weight="bold">branchtransfers</text>
<text x="1217.59" y="1578.60" textLength="47.71" lengthAdjust="spacingAndGlyphs">[table]</text>
<text x="1058.70" y="1605.60" textLength="13.73" lengthAdjust="spacingAndGlyphs">...</text>
<text x="1058.70" y="1629.20" textLength="25.81" lengthAdjust="spacingAndGlyphs">&lt; 3</text>
<text x="1148.13" y="1629.20" textLength="47.43" lengthAdjust="spacingAndGlyphs">0 rows</text>
<rect x="1091.80" y="1667.30" width="142.70" height="26.00" fill="#f4f4f4"/>
<rect x="1089.80" y="1665.30" width="146.70" height="77.30" fill="none" stroke="#000" stroke-width="1.4"/>
<path d="M1089.80 1694.30H1236.50" stroke="#000" stroke-width="1.5"/>
<path d="M1089.80 1718.50H1236.50" stroke="#000" stroke-width="1.5"/>
<path d="M1132.60 1718.50V1742.60" stroke="#222" stroke-width="1.3"/>
<path d="M1195.40 1718.50V1742.60" stroke="#222" stroke-width="1.3"/>
<text x="1096.30" y="1682.90" textLength="70.37" lengthAdjust="spacingAndGlyphs" font-weight="bold">reserves</text>
<text x="1181.59" y="1684.20" textLength="47.71" lengthAdjust="spacingAndGlyphs">[table]</text>
<text x="1094.60" y="1711.20" textLength="13.73" lengthAdjust="spacingAndGlyphs">...</text>
<text x="1094.60" y="1734.80" textLength="25.81" lengthAdjust="spacingAndGlyphs">&lt; 8</text>
<text x="1140.29" y="1734.80" textLength="47.43" lengthAdjust="spacingAndGlyphs">0 rows</text>
<text x="1205.09" y="1734.80" textLength="25.81" lengthAdjust="spacingAndGlyphs">2 &gt;</text>
<rect x="1070.60" y="1976.70" width="186.70" height="26.00" fill="#f4f4f4"/>
<rect x="1068.60" y="1974.70" width="190.70" height="77.10" fill="none" stroke="#000" stroke-width="1.4"/>
<path d="M1068.60 2003.70H1259.30" stroke="#000" stroke-width="1.5"/>
<path d="M1068.60 2027.90H1259.30" stroke="#000" stroke-width="1.5"/>
<path d="M1126.20 2027.90V2051.80" stroke="#222" stroke-width="1.3"/>
<path d="M1203.30 2027.90V2051.80" stroke="#222" stroke-width="1.3"/>
<text x="1075.10" y="1992.30" textLength="107.00" lengthAdjust="spacingAndGlyphs" font-weight="bold">course_items</text>
<text x="1204.39" y="1993.60" textLength="47.71" lengthAdjust="spacingAndGlyphs">[table]</text>
<text x="1073.40" y="2020.60" textLength="13.73" lengthAdjust="spacingAndGlyphs">...</text>
<text x="1073.40" y="2044.20" textLength="25.81" lengthAdjust="spacingAndGlyphs">&lt; 5</text>
<text x="1141.04" y="2044.20" textLength="47.43" lengthAdjust="spacingAndGlyphs">0 rows</text>
<text x="1227.89" y="2044.20" textLength="25.81" lengthAdjust="spacingAndGlyphs">1 &gt;</text>
<rect x="1073.40" y="2117.80" width="181.20" height="26.00" fill="#f4f4f4"/>
<rect x="1071.40" y="2115.80" width="185.20" height="77.60" fill="none" stroke="#000" stroke-width="1.4"/>
<path d="M1071.40 2144.80H1256.60" stroke="#000" stroke-width="1.5"/>
<path d="M1071.40 2169.00H1256.60" stroke="#000" stroke-width="1.5"/>
<path d="M1131.40 2169.00V2193.40" stroke="#222" stroke-width="1.3"/>
<path d="M1212.60 2169.00V2193.40" stroke="#222" stroke-width="1.3"/>
<text x="1077.90" y="2133.40" textLength="102.87" lengthAdjust="spacingAndGlyphs" font-weight="bold">old_reserves</text>
<text x="1201.69" y="2134.70" textLength="47.71" lengthAdjust="spacingAndGlyphs">[table]</text>
<text x="1076.20" y="2161.70" textLength="13.73" lengthAdjust="spacingAndGlyphs">...</text>
<text x="1076.20" y="2185.30" textLength="25.81" lengthAdjust="spacingAndGlyphs">&lt; 7</text>
<text x="1148.29" y="2185.30" textLength="47.43" lengthAdjust="spacingAndGlyphs">0 rows</text>
<rect x="1081.40" y="2223.50" width="164.00" height="26.00" fill="#f4f4f4"/>
<rect x="1079.40" y="2221.50" width="168.00" height="77.00" fill="none" stroke="#000" stroke-width="1.4"/>
<path d="M1079.40 2250.50H1247.40" stroke="#000" stroke-width="1.5"/>
<path d="M1079.40 2274.70H1247.40" stroke="#000" stroke-width="1.5"/>
<path d="M1134.00 2274.70V2298.50" stroke="#222" stroke-width="1.3"/>
<path d="M1210.00 2274.70V2298.50" stroke="#222" stroke-width="1.3"/>
<text x="1085.90" y="2239.10" textLength="88.42" lengthAdjust="spacingAndGlyphs" font-weight="bold">linktracker</text>
<text x="1192.49" y="2240.40" textLength="47.71" lengthAdjust="spacingAndGlyphs">[table]</text>
<text x="1084.20" y="2267.40" textLength="13.73" lengthAdjust="spacingAndGlyphs">...</text>
<text x="1084.20" y="2291.00" textLength="25.81" lengthAdjust="spacingAndGlyphs">&lt; 3</text>
<text x="1148.29" y="2291.00" textLength="47.43" lengthAdjust="spacingAndGlyphs">0 rows</text>
<rect x="1865.60" y="1449.60" width="215.10" height="26.00" fill="#f4f4f4"/>
<rect x="1863.60" y="1447.60" width="219.10" height="77.80" fill="none" stroke="#000" stroke-width="1.4"/>
<path d="M1863.60 1476.60H2082.70" stroke="#000" stroke-width="1.5"/>
<path d="M1863.60 1500.80H2082.70" stroke="#000" stroke-width="1.5"/>
<path d="M1936.10 1500.80V1525.40" stroke="#222" stroke-width="1.3"/>
<path d="M2028.00 1500.80V1525.40" stroke="#222" stroke-width="1.3"/>
<text x="1870.10" y="1465.20" textLength="130.93" lengthAdjust="spacingAndGlyphs" font-weight="bold">article_requests</text>
<text x="2027.79" y="1466.50" textLength="47.71" lengthAdjust="spacingAndGlyphs">[table]</text>
<text x="1868.40" y="1493.50" textLength="13.73" lengthAdjust="spacingAndGlyphs">...</text>
<text x="1868.40" y="1517.10" textLength="25.81" lengthAdjust="spacingAndGlyphs">&lt; 5</text>
<text x="1958.34" y="1517.10" textLength="47.43" lengthAdjust="spacingAndGlyphs">0 rows</text>
<rect x="48.70" y="971.30" width="129.60" height="26.00" fill="#f4f4f4"/>
<rect x="46.70" y="969.30" width="133.60" height="77.30" fill="none" stroke="#000" stroke-width="1.4"/>
<path d="M46.70 998.30H180.30" stroke="#000" stroke-width="1.5"/>
<path d="M46.70 1022.50H180.30" stroke="#000" stroke-width="1.5"/>
<path d="M63.90 1022.50V1046.60" stroke="#222" stroke-width="1.3"/>
<path d="M137.30 1022.50V1046.60" stroke="#222" stroke-width="1.3"/>
<text x="53.20" y="986.90" textLength="45.54" lengthAdjust="spacingAndGlyphs" font-weight="bold">biblio</text>
<text x="125.39" y="988.20" textLength="47.71" lengthAdjust="spacingAndGlyphs">[table]</text>
<text x="51.50" y="1015.20" textLength="13.73" lengthAdjust="spacingAndGlyphs">...</text>
<text x="67.72" y="1038.80" textLength="65.75" lengthAdjust="spacingAndGlyphs">436 rows</text>
<text x="139.73" y="1038.80" textLength="34.97" lengthAdjust="spacingAndGlyphs">29 &gt;</text>
<rect x="314.50" y="1044.40" width="167.00" height="26.00" fill="#f4f4f4"/>
<rect x="312.50" y="1042.40" width="171.00" height="77.80" fill="none" stroke="#000" stroke-width="1.4"/>
<path d="M312.50 1071.40H483.50" stroke="#000" stroke-width="1.5"/>
<path d="M312.50 1095.60H483.50" stroke="#000" stroke-width="1.5"/>
<path d="M356.80 1095.60V1120.20" stroke="#222" stroke-width="1.3"/>
<path d="M440.50 1095.60V1120.20" stroke="#222" stroke-width="1.3"/>
<text x="319.00" y="1060.00" textLength="90.92" lengthAdjust="spacingAndGlyphs" font-weight="bold">biblioitems</text>
<text x="428.59" y="1061.30" textLength="47.71" lengthAdjust="spacingAndGlyphs">[table]</text>
<text x="317.30" y="1088.30" textLength="13.73" lengthAdjust="spacingAndGlyphs">...</text>
<text x="317.30" y="1111.90" textLength="25.81" lengthAdjust="spacingAndGlyphs">&lt; 3</text>
<text x="365.77" y="1111.90" textLength="65.75" lengthAdjust="spacingAndGlyphs">436 rows</text>
<text x="452.09" y="1111.90" textLength="25.81" lengthAdjust="spacingAndGlyphs">1 &gt;</text>
<rect x="17.70" y="1152.50" width="190.90" height="26.00" fill="#f4f4f4"/>
<rect x="15.70" y="1150.50" width="194.90" height="77.70" fill="none" stroke="#000" stroke-width="1.4"/>
<path d="M15.70 1179.50H210.60" stroke="#000" stroke-width="1.5"/>
<path d="M15.70 1203.70H210.60" stroke="#000" stroke-width="1.5"/>
<path d="M74.60 1203.70V1228.20" stroke="#222" stroke-width="1.3"/>
<path d="M153.30 1203.70V1228.20" stroke="#222" stroke-width="1.3"/>
<text x="22.20" y="1168.10" textLength="110.76" lengthAdjust="spacingAndGlyphs" font-weight="bold">class_sources</text>
<text x="155.69" y="1169.40" textLength="47.71" lengthAdjust="spacingAndGlyphs">[table]</text>
<text x="20.50" y="1196.40" textLength="13.73" lengthAdjust="spacingAndGlyphs">...</text>
<text x="20.50" y="1220.00" textLength="25.81" lengthAdjust="spacingAndGlyphs">&lt; 2</text>
<text x="90.23" y="1220.00" textLength="47.43" lengthAdjust="spacingAndGlyphs">6 rows</text>
<text x="179.19" y="1220.00" textLength="25.81" lengthAdjust="spacingAndGlyphs">4 &gt;</text>
<rect x="323.80" y="1561.80" width="148.20" height="26.00" fill="#f4f4f4"/>
<rect x="321.80" y="1559.80" width="152.20" height="77.30" fill="none" stroke="#000" stroke-width="1.4"/>
<path d="M321.80 1588.80H474.00" stroke="#000" stroke-width="1.5"/>
<path d="M321.80 1613.00H474.00" stroke="#000" stroke-width="1.5"/>
<path d="M348.60 1613.00V1637.10" stroke="#222" stroke-width="1.3"/>
<path d="M422.20 1613.00V1637.10" stroke="#222" stroke-width="1.3"/>
<text x="328.30" y="1577.40" textLength="74.86" lengthAdjust="spacingAndGlyphs" font-weight="bold">branches</text>
<text x="419.09" y="1578.70" textLength="47.71" lengthAdjust="spacingAndGlyphs">[table]</text>
<text x="326.60" y="1605.70" textLength="13.73" lengthAdjust="spacingAndGlyphs">...</text>
<text x="357.10" y="1629.30" textLength="56.59" lengthAdjust="spacingAndGlyphs">12 rows</text>
<text x="433.43" y="1629.30" textLength="34.97" lengthAdjust="spacingAndGlyphs">48 &gt;</text>
<rect x="278.80" y="1826.10" width="239.80" height="26.00" fill="#f4f4f4"/>
<rect x="276.80" y="1824.10" width="243.80" height="77.00" fill="none" stroke="#000" stroke-width="1.4"/>
<path d="M276.80 1853.10H520.60" stroke="#000" stroke-width="1.5"/>
<path d="M276.80 1877.30H520.60" stroke="#000" stroke-width="1.5"/>
<path d="M340.60 1877.30V1901.10" stroke="#222" stroke-width="1.3"/>
<path d="M441.90 1877.30V1901.10" stroke="#222" stroke-width="1.3"/>
<text x="283.30" y="1841.70" textLength="151.92" lengthAdjust="spacingAndGlyphs" font-weight="bold">stockrotationrotas</text>
<text x="465.69" y="1843.00" textLength="47.71" lengthAdjust="spacingAndGlyphs">[table]</text>
<text x="281.60" y="1870.00" textLength="13.73" lengthAdjust="spacingAndGlyphs">...</text>
<text x="367.54" y="1893.60" textLength="47.43" lengthAdjust="spacingAndGlyphs">0 rows</text>
<text x="489.19" y="1893.60" textLength="25.81" lengthAdjust="spacingAndGlyphs">1 &gt;</text>
<rect x="587.40" y="960.60" width="350.90" height="25.90" fill="#f4f4f4"/>
<rect x="585.40" y="958.60" width="354.90" height="458.30" fill="none" stroke="#000" stroke-width="1.4"/>
<path d="M585.40 987.50H940.30" stroke="#000" stroke-width="1.5"/>
<text x="591.90" y="976.20" textLength="45.38" lengthAdjust="spacingAndGlyphs" font-weight="bold">items</text>
<text x="885.39" y="977.50" textLength="47.71" lengthAdjust="spacingAndGlyphs">[table]</text>
<path d="M585.40 1016.88H940.30" stroke="#000" stroke-width="1.5"/>
<text x="612.20" y="1006.09" textLength="88.73" lengthAdjust="spacingAndGlyphs">itemnumber</text>
<g fill="none" stroke="#d4d400"><circle cx="599.40" cy="998.19" r="2.2" stroke-width="2.1"/><path d="M599.40 1000.49V1010.29" stroke-width="2.3" stroke-linecap="round"/><path d="M600.40 1005.09h1.3M600.40 1007.29h1.3" stroke-width="1.1"/></g>
<path d="M585.40 1046.25H940.30" stroke="#000" stroke-width="1.5"/>
<text x="612.20" y="1035.47" textLength="95.30" lengthAdjust="spacingAndGlyphs">biblionumber</text>
<g fill="none" stroke="#bdbdbd"><circle cx="599.40" cy="1027.57" r="2.2" stroke-width="2.1"/><path d="M599.40 1029.87V1039.67" stroke-width="2.3" stroke-linecap="round"/><path d="M600.40 1034.47h1.3M600.40 1036.67h1.3" stroke-width="1.1"/></g>
<path d="M585.40 1075.63H940.30" stroke="#000" stroke-width="1.5"/>
<text x="612.20" y="1064.84" textLength="127.83" lengthAdjust="spacingAndGlyphs">biblioitemnumber</text>
<g fill="none" stroke="#bdbdbd"><circle cx="599.40" cy="1056.94" r="2.2" stroke-width="2.1"/><path d="M599.40 1059.24V1069.04" stroke-width="2.3" stroke-linecap="round"/><path d="M600.40 1063.84h1.3M600.40 1066.04h1.3" stroke-width="1.1"/></g>
<path d="M585.40 1105.01H940.30" stroke="#000" stroke-width="1.5"/>
<text x="612.20" y="1094.22" textLength="58.30" lengthAdjust="spacingAndGlyphs">barcode</text>
<path d="M585.40 1134.38H940.30" stroke="#000" stroke-width="1.5"/>
<text x="612.20" y="1123.60" textLength="90.88" lengthAdjust="spacingAndGlyphs">homebranch</text>
<g fill="none" stroke="#bdbdbd"><circle cx="599.40" cy="1115.70" r="2.2" stroke-width="2.1"/><path d="M599.40 1118.00V1127.80" stroke-width="2.3" stroke-linecap="round"/><path d="M600.40 1122.60h1.3M600.40 1124.80h1.3" stroke-width="1.1"/></g>
<path d="M585.40 1163.76H940.30" stroke="#000" stroke-width="1.5"/>
<text x="612.20" y="1152.97" textLength="113.48" lengthAdjust="spacingAndGlyphs">itemcallnumber</text>
<path d="M585.40 1193.14H940.30" stroke="#000" stroke-width="1.5"/>
<text x="612.20" y="1182.35" textLength="103.40" lengthAdjust="spacingAndGlyphs">holdingbranch</text>
<g fill="none" stroke="#bdbdbd"><circle cx="599.40" cy="1174.45" r="2.2" stroke-width="2.1"/><path d="M599.40 1176.75V1186.55" stroke-width="2.3" stroke-linecap="round"/><path d="M600.40 1181.35h1.3M600.40 1183.55h1.3" stroke-width="1.1"/></g>
<path d="M585.40 1222.52H940.30" stroke="#000" stroke-width="1.5"/>
<text x="612.20" y="1211.73" textLength="77.67" lengthAdjust="spacingAndGlyphs">timestamp</text>
<path d="M585.40 1251.89H940.30" stroke="#000" stroke-width="1.5"/>
<text x="612.20" y="1241.10" textLength="57.14" lengthAdjust="spacingAndGlyphs">location</text>
<path d="M585.40 1281.27H940.30" stroke="#000" stroke-width="1.5"/>
<text x="612.20" y="1270.48" textLength="72.06" lengthAdjust="spacingAndGlyphs">cn_source</text>
<g fill="none" stroke="#bdbdbd"><circle cx="599.40" cy="1262.58" r="2.2" stroke-width="2.1"/><path d="M599.40 1264.88V1274.68" stroke-width="2.3" stroke-linecap="round"/><path d="M600.40 1269.48h1.3M600.40 1271.68h1.3" stroke-width="1.1"/></g>
<path d="M585.40 1310.65H940.30" stroke="#000" stroke-width="1.5"/>
<text x="612.20" y="1299.86" textLength="42.65" lengthAdjust="spacingAndGlyphs">ccode</text>
<path d="M585.40 1340.02H940.30" stroke="#000" stroke-width="1.5"/>
<text x="612.20" y="1329.23" textLength="36.17" lengthAdjust="spacingAndGlyphs">itype</text>
<path d="M585.40 1369.40H940.30" stroke="#000" stroke-width="1.5"/>
<text x="612.20" y="1358.61" textLength="94.41" lengthAdjust="spacingAndGlyphs">stocknumber</text>
<path d="M585.40 1392.90H940.30" stroke="#000" stroke-width="1.5"/>
<text x="590.20" y="1386.30" textLength="13.73" lengthAdjust="spacingAndGlyphs">...</text>
<path d="M688.00 1392.90V1416.90" stroke="#222" stroke-width="1.3"/>
<path d="M829.10 1392.90V1416.90" stroke="#222" stroke-width="1.3"/>
<text x="590.20" y="1409.20" textLength="25.81" lengthAdjust="spacingAndGlyphs">&lt; 5</text>
<text x="725.67" y="1409.20" textLength="65.75" lengthAdjust="spacingAndGlyphs">961 rows</text>
<text x="899.73" y="1409.20" textLength="34.97" lengthAdjust="spacingAndGlyphs">24 &gt;</text>
<rect x="635.20" y="1793.80" width="255.20" height="26.00" fill="#f4f4f4"/>
<rect x="633.20" y="1791.80" width="259.20" height="165.20" fill="none" stroke="#000" stroke-width="1.4"/>
<path d="M633.20 1820.80H892.40" stroke="#000" stroke-width="1.5"/>
<text x="639.70" y="1809.40" textLength="163.62" lengthAdjust="spacingAndGlyphs" font-weight="bold">stockrotationstages</text>
<text x="837.49" y="1810.70" textLength="47.71" lengthAdjust="spacingAndGlyphs">[table]</text>
<path d="M633.20 1850.60H892.40" stroke="#000" stroke-width="1.5"/>
<text x="677.20" y="1839.60" textLength="60.32" lengthAdjust="spacingAndGlyphs">stage_id</text>
<g fill="none" stroke="#d4d400"><circle cx="647.30" cy="1831.70" r="2.2" stroke-width="2.1"/><path d="M647.30 1834.00V1843.80" stroke-width="2.3" stroke-linecap="round"/><path d="M648.30 1838.60h1.3M648.30 1840.80h1.3" stroke-width="1.1"/></g>
<path d="M633.20 1880.00H892.40" stroke="#000" stroke-width="1.5"/>
<text x="677.20" y="1869.20" textLength="49.23" lengthAdjust="spacingAndGlyphs">rota_id</text>
<g fill="none" stroke="#bdbdbd"><circle cx="647.30" cy="1861.30" r="2.2" stroke-width="2.1"/><path d="M647.30 1863.60V1873.40" stroke-width="2.3" stroke-linecap="round"/><path d="M648.30 1868.20h1.3M648.30 1870.40h1.3" stroke-width="1.1"/></g>
<path d="M633.20 1909.10H892.40" stroke="#000" stroke-width="1.5"/>
<text x="677.20" y="1898.45" textLength="105.13" lengthAdjust="spacingAndGlyphs">branchcode_id</text>
<g fill="none" stroke="#bdbdbd"><circle cx="647.30" cy="1890.55" r="2.2" stroke-width="2.1"/><path d="M647.30 1892.85V1902.65" stroke-width="2.3" stroke-linecap="round"/><path d="M648.30 1897.45h1.3M648.30 1899.65h1.3" stroke-width="1.1"/></g>
<path d="M633.20 1933.30H892.40" stroke="#000" stroke-width="1.5"/>
<text x="638.00" y="1926.00" textLength="13.73" lengthAdjust="spacingAndGlyphs">...</text>
<path d="M713.40 1933.30V1957.00" stroke="#222" stroke-width="1.3"/>
<path d="M813.40 1933.30V1957.00" stroke="#222" stroke-width="1.3"/>
<text x="638.00" y="1949.60" textLength="25.81" lengthAdjust="spacingAndGlyphs">&lt; 2</text>
<text x="739.68" y="1949.60" textLength="47.43" lengthAdjust="spacingAndGlyphs">0 rows</text>
<text x="860.99" y="1949.60" textLength="25.81" lengthAdjust="spacingAndGlyphs">1 &gt;</text>
<rect x="1018.70" y="1774.00" width="288.90" height="27.30" fill="#f4f4f4"/>
<rect x="1017.20" y="1772.50" width="291.90" height="171.70" fill="none" stroke="#000" stroke-width="3"/>
<path d="M1015.70 1802.30H1310.60" stroke="#000" stroke-width="1.5"/>
<text x="1024.70" y="1790.50" textLength="154.93" lengthAdjust="spacingAndGlyphs" font-weight="bold">stockrotationitems</text>
<text x="1253.89" y="1792.00" textLength="47.71" lengthAdjust="spacingAndGlyphs">[table]</text>
<path d="M1015.70 1832.00H1310.60" stroke="#000" stroke-width="1.5"/>
<path d="M1231.00 1802.30V1832.00" stroke="#000" stroke-width="1.4"/>
<text x="1045.00" y="1821.05" textLength="109.08" lengthAdjust="spacingAndGlyphs">itemnumber_id</text>
<text x="1235.00" y="1821.05" textLength="48.33" lengthAdjust="spacingAndGlyphs">int[10]</text>
<g fill="none" stroke="#d4d400"><circle cx="1031.90" cy="1813.15" r="2.2" stroke-width="2.1"/><path d="M1031.90 1815.45V1825.25" stroke-width="2.3" stroke-linecap="round"/><path d="M1032.90 1820.05h1.3M1032.90 1822.25h1.3" stroke-width="1.1"/></g>
<path d="M1015.70 1861.30H1310.60" stroke="#000" stroke-width="1.5"/>
<path d="M1231.00 1832.00V1861.30" stroke="#000" stroke-width="1.4"/>
<text x="1045.00" y="1850.55" textLength="60.32" lengthAdjust="spacingAndGlyphs">stage_id</text>
<text x="1235.00" y="1850.55" textLength="48.33" lengthAdjust="spacingAndGlyphs">int[10]</text>
<g fill="none" stroke="#bdbdbd"><circle cx="1031.90" cy="1842.65" r="2.2" stroke-width="2.1"/><path d="M1031.90 1844.95V1854.75" stroke-width="2.3" stroke-linecap="round"/><path d="M1032.90 1849.55h1.3M1032.90 1851.75h1.3" stroke-width="1.1"/></g>
<path d="M1015.70 1890.70H1310.60" stroke="#000" stroke-width="1.5"/>
<path d="M1231.00 1861.30V1890.70" stroke="#000" stroke-width="1.4"/>
<text x="1045.00" y="1879.90" textLength="72.25" lengthAdjust="spacingAndGlyphs">indemand</text>
<text x="1235.00" y="1879.90" textLength="66.47" lengthAdjust="spacingAndGlyphs">tinyint[3]</text>
<path d="M1015.70 1919.60H1310.60" stroke="#000" stroke-width="1.5"/>
<path d="M1231.00 1890.70V1919.60" stroke="#000" stroke-width="1.4"/>
<text x="1045.00" y="1909.05" textLength="36.16" lengthAdjust="spacingAndGlyphs">fresh</text>
<text x="1235.00" y="1909.05" textLength="66.47" lengthAdjust="spacingAndGlyphs">tinyint[3]</text>
<path d="M1108.50 1919.60V1943.70" stroke="#222" stroke-width="1.3"/>
<path d="M1219.50 1919.60V1943.70" stroke="#222" stroke-width="1.3"/>
<text x="1022.90" y="1936.20" textLength="25.81" lengthAdjust="spacingAndGlyphs">&lt; 2</text>
<text x="1140.29" y="1936.20" textLength="47.43" lengthAdjust="spacingAndGlyphs">0 rows</text>
<text x="1276.79" y="1936.20" textLength="25.81" lengthAdjust="spacingAndGlyphs">0 &gt;</text>
<text x="15.00" y="2420.70" textLength="187.92" lengthAdjust="spacingAndGlyphs">Generated by SchemaSpy</text>
</svg></body></html>
